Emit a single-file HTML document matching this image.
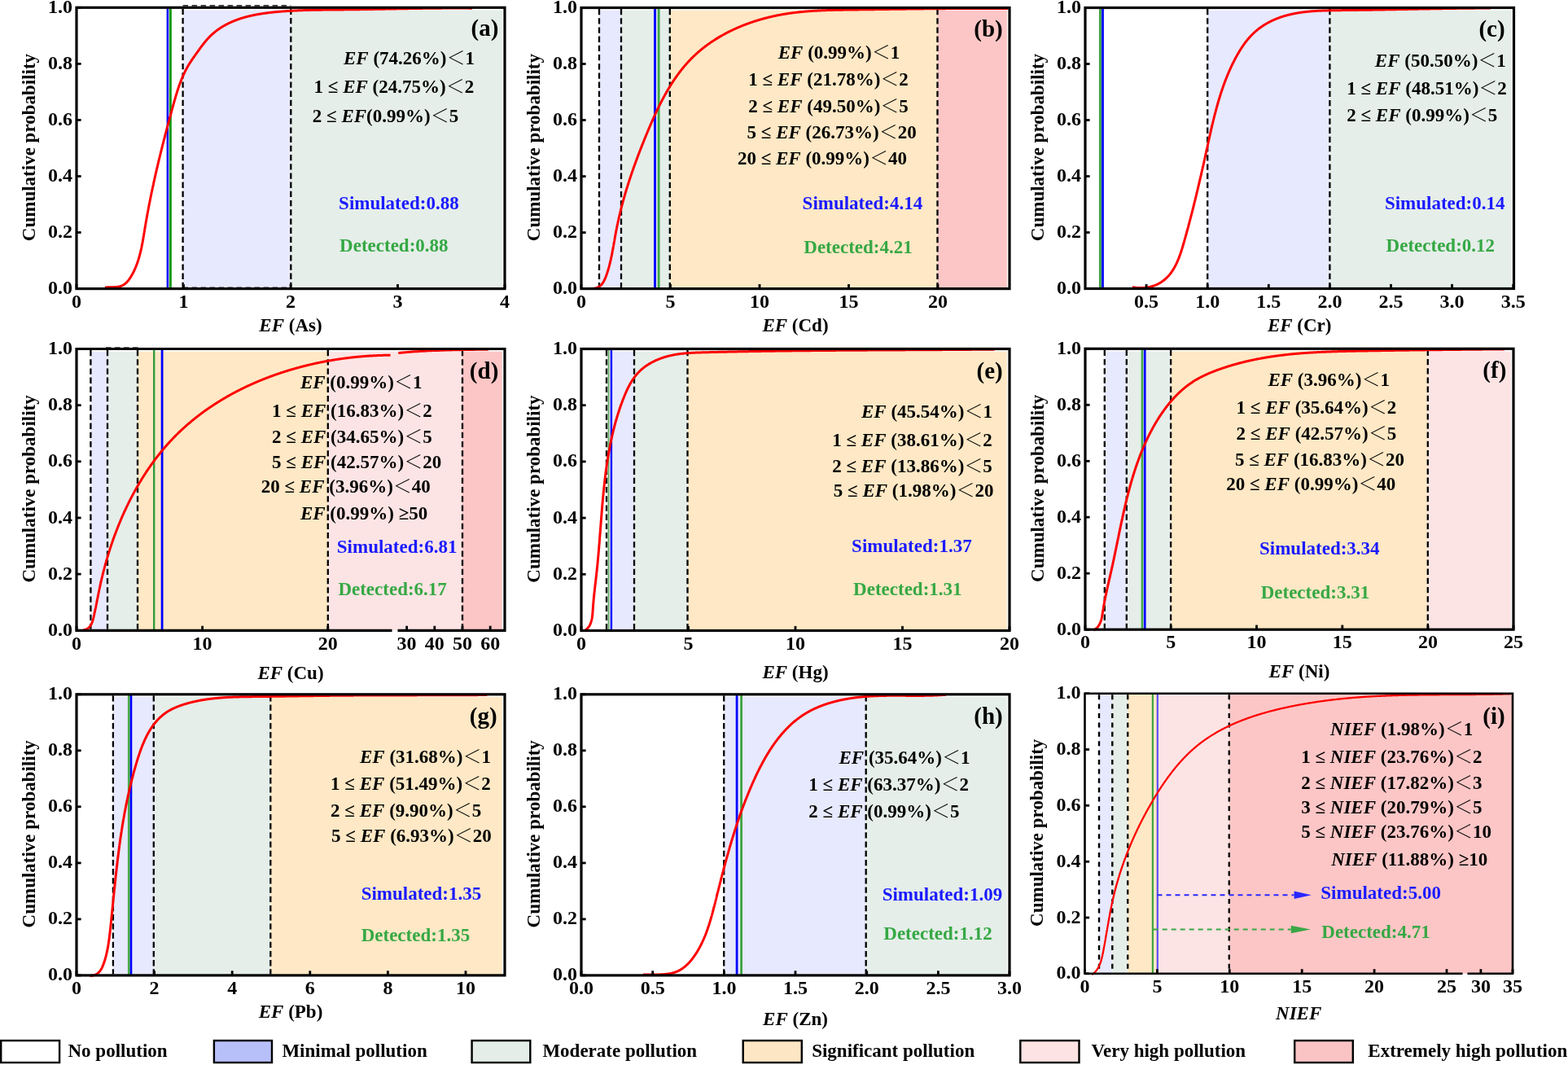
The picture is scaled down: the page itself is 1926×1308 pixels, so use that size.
<!DOCTYPE html>
<html><head><meta charset="utf-8"><title>CDF of EF</title>
<style>
html,body{margin:0;padding:0;background:#fff;}
svg{display:block;}
text{font-family:"Liberation Serif","Noto Serif CJK SC",serif;font-weight:bold;font-size:23px;fill:#000;}
.lt{font-family:"Noto Serif CJK SC","Liberation Serif",serif;font-weight:normal;}
.dsh{stroke:#000;stroke-width:2.3;stroke-dasharray:7.3 3.9;fill:none;}
.dsh2{stroke:#333;stroke-width:1.7;stroke-dasharray:6.5 4.5;fill:none;}
.cdf{stroke:#ff0000;stroke-width:3;fill:none;stroke-linejoin:round;stroke-linecap:butt;}
.plab{font-size:29px;}
.tl{font-size:24px;}
.tk{stroke:#000;stroke-width:2.8;}
.frm{stroke:#000;stroke-width:3.2;fill:none;}
</style></head>
<body>
<svg width="1926" height="1308" viewBox="0 0 1926 1308">
<rect width="1926" height="1308" fill="#fff"/>
<g>
<rect x="224.6" y="12.4" width="132.7" height="342.2" fill="#e7e9fe"/>
<rect x="357.3" y="12.4" width="259.6" height="342.2" fill="#e5eee9"/>
<line x1="224.6" y1="10.8" x2="224.6" y2="353.1" class="dsh"/>
<line x1="357.3" y1="10.8" x2="357.3" y2="353.1" class="dsh"/>
<line x1="224.6" y1="6.8" x2="357.3" y2="6.8" class="dsh2"/>
<line x1="224.6" y1="353.3" x2="357.3" y2="353.3" class="dsh2"/>
<line x1="205.9" y1="9.3" x2="205.9" y2="354.6" stroke="#0000ff" stroke-width="2.6"/>
<line x1="209.4" y1="9.3" x2="209.4" y2="354.6" stroke="#049a0a" stroke-width="2.8"/>
<path d="M128.89,353.14 L129.32,353.08 L129.76,353.02 L130.21,352.97 L130.66,352.93 L131.12,352.89 L131.57,352.86 L132.04,352.83 L132.50,352.80 L132.97,352.78 L133.45,352.76 L133.92,352.75 L134.40,352.74 L134.88,352.73 L135.36,352.72 L135.84,352.71 L136.33,352.70 L136.81,352.70 L137.30,352.69 L137.78,352.68 L138.27,352.67 L138.75,352.67 L139.24,352.65 L139.73,352.64 L140.21,352.62 L140.69,352.61 L141.17,352.58 L141.65,352.56 L142.13,352.53 L142.60,352.49 L143.08,352.45 L143.55,352.40 L144.01,352.35 L144.47,352.29 L144.93,352.23 L145.39,352.16 L145.84,352.08 L146.28,351.99 L146.72,351.89 L147.16,351.78 L147.59,351.67 L148.01,351.54 L148.43,351.41 L148.84,351.26 L149.25,351.10 L149.65,350.94 L150.04,350.76 L150.43,350.57 L150.81,350.38 L151.18,350.17 L151.55,349.96 L151.92,349.73 L152.27,349.50 L152.63,349.26 L152.97,349.01 L153.32,348.75 L153.65,348.48 L153.98,348.21 L154.31,347.93 L154.63,347.64 L154.95,347.35 L155.26,347.05 L155.57,346.74 L155.87,346.43 L156.17,346.11 L156.47,345.78 L156.76,345.45 L157.04,345.12 L157.33,344.78 L157.60,344.43 L157.88,344.08 L158.15,343.73 L158.42,343.37 L158.68,343.01 L158.94,342.64 L159.19,342.28 L159.45,341.90 L159.70,341.53 L159.95,341.15 L160.19,340.77 L160.43,340.39 L160.67,340.01 L160.90,339.62 L161.14,339.24 L161.37,338.85 L161.60,338.46 L161.82,338.07 L162.04,337.68 L162.27,337.29 L162.48,336.89 L162.70,336.50 L162.91,336.10 L163.13,335.71 L163.34,335.31 L163.54,334.91 L163.75,334.51 L163.95,334.11 L164.15,333.71 L164.35,333.31 L164.55,332.91 L164.74,332.51 L164.93,332.10 L165.12,331.70 L165.31,331.29 L165.49,330.88 L165.68,330.47 L165.86,330.06 L166.04,329.65 L166.22,329.24 L166.39,328.83 L166.57,328.42 L166.74,328.01 L166.91,327.59 L167.07,327.18 L167.24,326.76 L167.40,326.35 L167.57,325.93 L167.73,325.51 L167.89,325.09 L168.04,324.67 L168.20,324.25 L168.35,323.83 L168.50,323.41 L168.65,322.99 L168.80,322.57 L168.95,322.14 L169.09,321.72 L169.24,321.29 L169.38,320.87 L169.52,320.44 L169.66,320.01 L169.79,319.58 L169.93,319.16 L170.06,318.73 L170.20,318.30 L170.33,317.87 L170.46,317.43 L170.58,317.00 L170.71,316.57 L170.84,316.14 L170.96,315.70 L171.08,315.27 L171.20,314.84 L171.32,314.40 L171.44,313.97 L171.56,313.53 L171.67,313.09 L171.79,312.65 L171.90,312.22 L172.02,311.78 L172.13,311.34 L172.24,310.90 L172.34,310.46 L172.45,310.02 L172.56,309.58 L172.66,309.14 L172.77,308.70 L172.87,308.26 L172.97,307.81 L173.08,307.37 L173.18,306.93 L173.28,306.48 L173.37,306.04 L173.47,305.59 L173.57,305.15 L173.66,304.70 L173.76,304.26 L173.85,303.81 L173.94,303.37 L174.04,302.92 L174.13,302.47 L174.22,302.02 L174.31,301.58 L174.40,301.13 L174.48,300.68 L174.57,300.23 L174.66,299.78 L174.74,299.33 L174.83,298.89 L174.92,298.44 L175.00,297.99 L175.08,297.54 L175.17,297.09 L175.25,296.63 L175.33,296.18 L175.41,295.73 L175.49,295.28 L175.57,294.83 L175.65,294.38 L175.73,293.93 L175.81,293.48 L175.89,293.02 L175.97,292.57 L176.05,292.12 L176.12,291.67 L176.20,291.21 L176.28,290.76 L176.35,290.31 L176.43,289.86 L176.51,289.40 L176.58,288.95 L176.66,288.50 L176.73,288.04 L176.81,287.59 L176.88,287.14 L176.96,286.68 L177.03,286.23 L177.11,285.78 L177.18,285.32 L177.26,284.87 L177.33,284.42 L177.41,283.96 L177.48,283.51 L177.55,283.06 L177.63,282.60 L177.70,282.15 L177.78,281.70 L177.85,281.24 L177.93,280.79 L178.00,280.34 L178.08,279.88 L178.15,279.43 L178.23,278.98 L178.30,278.53 L178.38,278.07 L178.45,277.62 L178.53,277.17 L178.61,276.72 L178.68,276.26 L178.76,275.81 L178.84,275.36 L178.91,274.91 L178.99,274.46 L179.07,274.01 L179.15,273.55 L179.22,273.10 L179.30,272.65 L179.38,272.20 L179.46,271.75 L179.54,271.30 L179.62,270.85 L179.70,270.40 L179.77,269.95 L179.85,269.50 L179.93,269.05 L180.01,268.60 L180.09,268.15 L180.17,267.70 L180.25,267.25 L180.33,266.80 L180.42,266.35 L180.50,265.90 L180.58,265.45 L180.66,265.00 L180.74,264.55 L180.82,264.10 L180.90,263.65 L180.99,263.20 L181.07,262.75 L181.15,262.30 L181.23,261.85 L181.32,261.41 L181.40,260.96 L181.48,260.51 L181.57,260.06 L181.65,259.61 L181.73,259.16 L181.82,258.72 L181.90,258.27 L181.98,257.82 L182.07,257.37 L182.15,256.92 L182.24,256.48 L182.32,256.03 L182.41,255.58 L182.49,255.13 L182.58,254.69 L182.67,254.24 L182.75,253.79 L182.84,253.34 L182.92,252.90 L183.01,252.45 L183.10,252.00 L183.18,251.56 L183.27,251.11 L183.36,250.66 L183.44,250.22 L183.53,249.77 L183.62,249.33 L183.71,248.88 L183.80,248.43 L183.88,247.99 L183.97,247.54 L184.06,247.09 L184.15,246.65 L184.24,246.20 L184.33,245.76 L184.42,245.31 L184.51,244.87 L184.60,244.42 L184.68,243.98 L184.77,243.53 L184.86,243.09 L184.96,242.64 L185.05,242.20 L185.14,241.75 L185.23,241.31 L185.32,240.86 L185.41,240.42 L185.50,239.97 L185.59,239.53 L185.68,239.08 L185.77,238.64 L185.87,238.19 L185.96,237.75 L186.05,237.30 L186.14,236.86 L186.24,236.42 L186.33,235.97 L186.42,235.53 L186.51,235.08 L186.61,234.64 L186.70,234.20 L186.79,233.75 L186.89,233.31 L186.98,232.87 L187.08,232.42 L187.17,231.98 L187.26,231.54 L187.36,231.09 L187.45,230.65 L187.55,230.21 L187.64,229.76 L187.74,229.32 L187.83,228.88 L187.93,228.43 L188.03,227.99 L188.12,227.55 L188.22,227.11 L188.31,226.66 L188.41,226.22 L188.51,225.78 L188.60,225.34 L188.70,224.89 L188.80,224.45 L188.89,224.01 L188.99,223.57 L189.09,223.12 L189.19,222.68 L189.28,222.24 L189.38,221.80 L189.48,221.36 L189.58,220.91 L189.67,220.47 L189.77,220.03 L189.87,219.59 L189.97,219.15 L190.07,218.70 L190.17,218.26 L190.27,217.82 L190.37,217.38 L190.47,216.94 L190.57,216.50 L190.67,216.05 L190.77,215.61 L190.87,215.17 L190.97,214.73 L191.07,214.29 L191.17,213.85 L191.27,213.41 L191.37,212.97 L191.47,212.53 L191.57,212.08 L191.67,211.64 L191.77,211.20 L191.87,210.76 L191.98,210.32 L192.08,209.88 L192.18,209.44 L192.28,209.00 L192.38,208.56 L192.49,208.12 L192.59,207.68 L192.69,207.24 L192.79,206.80 L192.90,206.35 L193.00,205.91 L193.10,205.47 L193.21,205.03 L193.31,204.59 L193.41,204.15 L193.52,203.71 L193.62,203.27 L193.72,202.83 L193.83,202.39 L193.93,201.95 L194.04,201.51 L194.14,201.07 L194.25,200.63 L194.35,200.19 L194.46,199.75 L194.56,199.31 L194.67,198.87 L194.77,198.43 L194.88,197.99 L194.98,197.55 L195.09,197.11 L195.19,196.67 L195.30,196.23 L195.41,195.79 L195.51,195.35 L195.62,194.91 L195.73,194.47 L195.83,194.03 L195.94,193.59 L196.05,193.16 L196.15,192.72 L196.26,192.28 L196.37,191.84 L196.48,191.40 L196.58,190.96 L196.69,190.52 L196.80,190.08 L196.91,189.64 L197.01,189.20 L197.12,188.76 L197.23,188.32 L197.34,187.88 L197.45,187.44 L197.56,187.00 L197.67,186.56 L197.77,186.12 L197.88,185.69 L197.99,185.25 L198.10,184.81 L198.21,184.37 L198.32,183.93 L198.43,183.49 L198.54,183.05 L198.65,182.61 L198.76,182.17 L198.87,181.73 L198.98,181.29 L199.09,180.85 L199.20,180.42 L199.31,179.98 L199.42,179.54 L199.53,179.10 L199.64,178.66 L199.76,178.22 L199.87,177.78 L199.98,177.34 L200.09,176.90 L200.20,176.46 L200.31,176.03 L200.42,175.59 L200.54,175.15 L200.65,174.71 L200.76,174.27 L200.87,173.83 L200.98,173.39 L201.10,172.95 L201.21,172.51 L201.32,172.07 L201.43,171.64 L201.55,171.20 L201.66,170.76 L201.77,170.32 L201.89,169.88 L202.00,169.44 L202.11,169.00 L202.23,168.56 L202.34,168.12 L202.45,167.68 L202.57,167.25 L202.68,166.81 L202.80,166.37 L202.91,165.93 L203.02,165.49 L203.14,165.05 L203.25,164.61 L203.37,164.17 L203.48,163.73 L203.60,163.29 L203.71,162.85 L203.83,162.42 L203.94,161.98 L204.06,161.54 L204.17,161.10 L204.29,160.66 L204.40,160.22 L204.52,159.78 L204.64,159.34 L204.75,158.90 L204.87,158.46 L204.98,158.02 L205.10,157.59 L205.22,157.15 L205.33,156.71 L205.45,156.27 L205.56,155.83 L205.68,155.39 L205.80,154.95 L205.91,154.51 L206.03,154.07 L206.15,153.63 L206.27,153.19 L206.38,152.75 L206.50,152.31 L206.62,151.87 L206.74,151.43 L206.85,150.99 L206.97,150.56 L207.09,150.12 L207.21,149.68 L207.32,149.24 L207.44,148.80 L207.56,148.36 L207.68,147.92 L207.80,147.48 L207.91,147.04 L208.03,146.60 L208.15,146.16 L208.27,145.72 L208.39,145.28 L208.51,144.84 L208.63,144.40 L208.75,143.96 L208.86,143.52 L208.98,143.08 L209.10,142.64 L209.22,142.20 L209.34,141.76 L209.46,141.32 L209.58,140.88 L209.70,140.44 L209.82,140.00 L209.94,139.56 L210.06,139.12 L210.18,138.68 L210.30,138.24 L210.42,137.80 L210.54,137.36 L210.66,136.92 L210.78,136.48 L210.90,136.04 L211.02,135.60 L211.14,135.16 L211.26,134.72 L211.38,134.27 L211.51,133.83 L211.63,133.39 L211.75,132.95 L211.87,132.51 L211.99,132.07 L212.11,131.63 L212.23,131.19 L212.35,130.75 L212.48,130.31 L212.60,129.87 L212.72,129.43 L212.84,128.98 L212.96,128.54 L213.09,128.10 L213.21,127.66 L213.33,127.22 L213.45,126.78 L213.58,126.34 L213.70,125.90 L213.82,125.46 L213.95,125.02 L214.07,124.58 L214.20,124.14 L214.32,123.70 L214.45,123.26 L214.57,122.82 L214.70,122.38 L214.82,121.94 L214.95,121.50 L215.08,121.06 L215.20,120.62 L215.33,120.18 L215.46,119.74 L215.59,119.30 L215.72,118.86 L215.85,118.42 L215.98,117.99 L216.11,117.55 L216.24,117.11 L216.37,116.67 L216.50,116.23 L216.63,115.80 L216.77,115.36 L216.90,114.92 L217.03,114.49 L217.17,114.05 L217.31,113.62 L217.44,113.18 L217.58,112.75 L217.72,112.31 L217.85,111.88 L217.99,111.44 L218.13,111.01 L218.27,110.58 L218.41,110.14 L218.55,109.71 L218.70,109.28 L218.84,108.85 L218.98,108.42 L219.13,107.98 L219.27,107.55 L219.42,107.12 L219.57,106.69 L219.71,106.26 L219.86,105.84 L220.01,105.41 L220.16,104.98 L220.31,104.55 L220.47,104.12 L220.62,103.70 L220.77,103.27 L220.93,102.85 L221.08,102.42 L221.24,102.00 L221.40,101.57 L221.56,101.15 L221.72,100.73 L221.88,100.31 L222.04,99.88 L222.20,99.46 L222.37,99.04 L222.53,98.62 L222.70,98.20 L222.87,97.78 L223.03,97.37 L223.20,96.95 L223.37,96.53 L223.55,96.11 L223.72,95.70 L223.89,95.28 L224.07,94.87 L224.25,94.46 L224.42,94.04 L224.60,93.63 L224.78,93.22 L224.96,92.81 L225.15,92.40 L225.33,91.99 L225.52,91.58 L225.70,91.17 L225.89,90.77 L226.08,90.36 L226.27,89.95 L226.46,89.55 L226.66,89.15 L226.85,88.74 L227.05,88.34 L227.25,87.94 L227.45,87.54 L227.65,87.14 L227.85,86.74 L228.05,86.34 L228.26,85.94 L228.46,85.55 L228.67,85.15 L228.88,84.75 L229.09,84.36 L229.31,83.97 L229.52,83.58 L229.74,83.18 L229.95,82.79 L230.17,82.40 L230.39,82.02 L230.61,81.63 L230.84,81.24 L231.06,80.86 L231.29,80.47 L231.52,80.09 L231.75,79.71 L231.98,79.32 L232.22,78.94 L232.45,78.56 L232.69,78.18 L232.93,77.80 L233.17,77.43 L233.41,77.05 L233.65,76.67 L233.90,76.30 L234.14,75.92 L234.39,75.55 L234.64,75.17 L234.89,74.80 L235.14,74.43 L235.39,74.05 L235.64,73.68 L235.90,73.31 L236.15,72.94 L236.41,72.56 L236.67,72.19 L236.92,71.82 L237.18,71.45 L237.44,71.07 L237.70,70.70 L237.96,70.33 L238.23,69.96 L238.49,69.58 L238.75,69.21 L239.02,68.84 L239.28,68.46 L239.55,68.09 L239.81,67.71 L240.08,67.34 L240.35,66.96 L240.62,66.59 L240.88,66.21 L241.15,65.83 L241.42,65.46 L241.69,65.08 L241.96,64.70 L242.23,64.32 L242.50,63.94 L242.77,63.56 L243.04,63.18 L243.31,62.79 L243.58,62.41 L243.86,62.03 L244.13,61.65 L244.40,61.27 L244.68,60.89 L244.95,60.50 L245.23,60.12 L245.50,59.74 L245.78,59.36 L246.06,58.98 L246.34,58.60 L246.61,58.22 L246.89,57.84 L247.18,57.46 L247.46,57.08 L247.74,56.70 L248.02,56.33 L248.31,55.95 L248.59,55.57 L248.88,55.20 L249.16,54.83 L249.45,54.45 L249.74,54.08 L250.03,53.71 L250.32,53.34 L250.61,52.97 L250.91,52.61 L251.20,52.24 L251.49,51.88 L251.79,51.51 L252.09,51.15 L252.39,50.79 L252.69,50.44 L252.99,50.08 L253.29,49.72 L253.59,49.37 L253.90,49.02 L254.20,48.67 L254.51,48.32 L254.82,47.98 L255.13,47.64 L255.44,47.30 L255.75,46.96 L256.07,46.62 L256.39,46.29 L256.70,45.96 L257.02,45.63 L257.34,45.30 L257.66,44.97 L257.99,44.65 L258.31,44.33 L258.64,44.01 L258.96,43.70 L259.29,43.39 L259.62,43.07 L259.95,42.77 L260.29,42.46 L260.62,42.16 L260.96,41.85 L261.29,41.55 L261.63,41.26 L261.97,40.96 L262.31,40.67 L262.66,40.38 L263.00,40.09 L263.34,39.80 L263.69,39.52 L264.04,39.23 L264.39,38.95 L264.74,38.68 L265.09,38.40 L265.44,38.13 L265.80,37.86 L266.15,37.59 L266.51,37.32 L266.87,37.05 L267.22,36.79 L267.58,36.53 L267.95,36.27 L268.31,36.01 L268.67,35.76 L269.04,35.50 L269.40,35.25 L269.77,35.00 L270.14,34.76 L270.51,34.51 L270.88,34.27 L271.25,34.03 L271.63,33.79 L272.00,33.55 L272.38,33.32 L272.75,33.08 L273.13,32.85 L273.51,32.62 L273.89,32.39 L274.27,32.17 L274.65,31.94 L275.04,31.72 L275.42,31.50 L275.80,31.28 L276.19,31.07 L276.58,30.85 L276.97,30.64 L277.36,30.43 L277.75,30.22 L278.14,30.01 L278.53,29.81 L278.92,29.61 L279.32,29.40 L279.71,29.20 L280.11,29.01 L280.51,28.81 L280.91,28.61 L281.31,28.42 L281.71,28.23 L282.11,28.04 L282.51,27.85 L282.91,27.67 L283.32,27.48 L283.72,27.30 L284.13,27.12 L284.53,26.94 L284.94,26.76 L285.35,26.58 L285.76,26.41 L286.17,26.24 L286.58,26.07 L286.99,25.90 L287.40,25.73 L287.82,25.56 L288.23,25.40 L288.65,25.23 L289.06,25.07 L289.48,24.91 L289.90,24.75 L290.31,24.60 L290.73,24.44 L291.15,24.29 L291.57,24.13 L292.00,23.98 L292.42,23.83 L292.84,23.68 L293.26,23.54 L293.69,23.39 L294.11,23.25 L294.54,23.11 L294.97,22.97 L295.39,22.83 L295.82,22.69 L296.25,22.55 L296.68,22.42 L297.11,22.28 L297.54,22.15 L297.97,22.02 L298.40,21.89 L298.83,21.76 L299.27,21.63 L299.70,21.51 L300.14,21.38 L300.57,21.26 L301.01,21.14 L301.44,21.02 L301.88,20.90 L302.32,20.78 L302.75,20.67 L303.19,20.55 L303.63,20.44 L304.07,20.32 L304.51,20.21 L304.95,20.10 L305.39,19.99 L305.83,19.89 L306.28,19.78 L306.72,19.67 L307.16,19.57 L307.60,19.47 L308.05,19.36 L308.49,19.26 L308.94,19.16 L309.38,19.07 L309.83,18.97 L310.27,18.87 L310.72,18.78 L311.17,18.68 L311.62,18.59 L312.06,18.50 L312.51,18.41 L312.96,18.32 L313.41,18.23 L313.86,18.14 L314.31,18.06 L314.76,17.97 L315.21,17.89 L315.66,17.80 L316.11,17.72 L316.56,17.64 L317.02,17.56 L317.47,17.48 L317.92,17.40 L318.37,17.32 L318.83,17.25 L319.28,17.17 L319.73,17.10 L320.19,17.02 L320.64,16.95 L321.10,16.88 L321.55,16.81 L322.01,16.74 L322.46,16.67 L322.92,16.60 L323.37,16.53 L323.83,16.46 L324.28,16.40 L324.74,16.33 L325.20,16.27 L325.65,16.20 L326.11,16.14 L326.57,16.08 L327.02,16.02 L327.48,15.96 L327.94,15.90 L328.40,15.84 L328.85,15.78 L329.31,15.73 L329.77,15.67 L330.23,15.61 L330.68,15.56 L331.14,15.50 L331.60,15.45 L332.06,15.40 L332.52,15.34 L332.98,15.29 L333.43,15.24 L333.89,15.19 L334.35,15.14 L334.81,15.09 L335.27,15.04 L335.73,15.00 L336.19,14.95 L336.64,14.90 L337.10,14.86 L337.56,14.81 L338.02,14.77 L338.48,14.72 L338.94,14.68 L339.40,14.63 L339.85,14.59 L340.31,14.55 L340.77,14.51 L341.23,14.47 L341.69,14.43 L342.14,14.39 L342.60,14.35 L343.06,14.31 L343.52,14.27 L343.98,14.23 L344.43,14.19 L344.89,14.16 L345.35,14.12 L345.81,14.08 L346.26,14.05 L346.72,14.01 L347.18,13.98 L347.63,13.94 L348.09,13.91 L348.55,13.87 L349.00,13.84 L349.46,13.81 L349.91,13.77 L350.37,13.74 L350.83,13.71 L351.28,13.68 L351.74,13.65 L352.19,13.62 L352.65,13.59 L353.11,13.56 L353.56,13.53 L354.02,13.50 L354.47,13.47 L354.93,13.44 L355.38,13.42 L355.84,13.39 L356.29,13.36 L356.75,13.34 L357.20,13.31 L357.66,13.28 L358.11,13.26 L358.57,13.23 L359.02,13.21 L359.48,13.18 L359.93,13.16 L360.38,13.14 L360.84,13.11 L361.29,13.09 L361.75,13.07 L362.20,13.05 L362.66,13.02 L363.11,13.00 L363.56,12.98 L364.02,12.96 L364.47,12.94 L364.92,12.92 L365.38,12.90 L365.83,12.88 L366.28,12.86 L366.74,12.84 L367.19,12.82 L367.64,12.81 L368.10,12.79 L368.55,12.77 L369.00,12.75 L369.46,12.73 L369.91,12.72 L370.36,12.70 L370.82,12.68 L371.27,12.67 L371.72,12.65 L372.17,12.64 L372.63,12.62 L373.08,12.61 L373.53,12.59 L373.98,12.58 L374.44,12.56 L374.89,12.55 L375.34,12.54 L375.79,12.52 L376.25,12.51 L376.70,12.50 L377.15,12.48 L377.60,12.47 L378.05,12.46 L378.51,12.45 L378.96,12.44 L379.41,12.42 L379.86,12.41 L380.31,12.40 L380.77,12.39 L381.22,12.38 L381.67,12.37 L382.12,12.36 L382.57,12.35 L383.03,12.34 L383.48,12.33 L383.93,12.32 L384.38,12.31 L384.83,12.30 L385.28,12.29 L385.74,12.28 L386.19,12.28 L386.64,12.27 L387.09,12.26 L387.54,12.25 L387.99,12.24 L388.44,12.23 L388.90,12.23 L389.35,12.22 L389.80,12.21 L390.25,12.21 L390.70,12.20 L391.15,12.19 L391.60,12.18 L392.06,12.18 L392.51,12.17 L392.96,12.17 L393.41,12.16 L393.86,12.15 L394.31,12.15 L394.76,12.14 L395.21,12.14 L395.67,12.13 L396.12,12.12 L396.57,12.12 L397.02,12.11 L397.47,12.11 L397.92,12.10 L398.37,12.10 L398.82,12.09 L399.28,12.09 L399.73,12.08 L400.18,12.08 L400.63,12.07 L401.08,12.07 L401.53,12.07 L401.98,12.06 L402.43,12.06 L402.89,12.05 L403.34,12.05 L403.79,12.04 L404.24,12.04 L404.69,12.04 L405.14,12.03 L405.59,12.03 L406.04,12.02 L406.50,12.02 L406.95,12.02 L407.40,12.01 L407.85,12.01 L408.30,12.00 L408.75,12.00 L409.20,12.00 L409.66,11.99 L410.11,11.99 L410.56,11.99 L411.01,11.98 L411.46,11.98 L411.91,11.98 L412.37,11.97 L412.82,11.97 L413.27,11.96 L413.72,11.96 L414.17,11.96 L414.62,11.95 L415.08,11.95 L415.53,11.94 L415.98,11.94 L416.43,11.94 L416.88,11.93 L417.34,11.93 L417.79,11.93 L418.24,11.92 L418.69,11.92 L419.14,11.91 L419.60,11.91 L420.05,11.90 L420.50,11.90 L420.95,11.90 L421.40,11.89 L421.86,11.89 L422.31,11.88 L422.76,11.88 L423.21,11.87 L423.67,11.87 L424.12,11.86 L424.57,11.86 L425.03,11.85 L425.48,11.85 L425.93,11.84 L426.38,11.84 L426.84,11.83 L427.29,11.83 L427.74,11.82 L428.19,11.82 L428.65,11.81 L429.10,11.81 L429.55,11.80 L430.01,11.80 L430.46,11.79 L430.91,11.78 L431.37,11.78 L431.82,11.77 L432.27,11.77 L432.73,11.76 L433.18,11.76 L433.63,11.75 L434.09,11.74 L434.54,11.74 L434.99,11.73 L435.45,11.73 L435.90,11.72 L436.35,11.71 L436.81,11.71 L437.26,11.70 L437.72,11.70 L438.17,11.69 L438.62,11.68 L439.08,11.68 L439.53,11.67 L439.98,11.66 L440.44,11.66 L440.89,11.65 L441.35,11.64 L441.80,11.64 L442.25,11.63 L442.71,11.62 L443.16,11.62 L443.62,11.61 L444.07,11.60 L444.52,11.60 L444.98,11.59 L445.43,11.58 L445.89,11.58 L446.34,11.57 L446.80,11.56 L447.25,11.56 L447.70,11.55 L448.16,11.54 L448.61,11.53 L449.07,11.53 L449.52,11.52 L449.98,11.51 L450.43,11.51 L450.88,11.50 L451.34,11.49 L451.79,11.48 L452.25,11.48 L452.70,11.47 L453.16,11.46 L453.61,11.45 L454.07,11.45 L454.52,11.44 L454.98,11.43 L455.43,11.42 L455.89,11.42 L456.34,11.41 L456.80,11.40 L457.25,11.39 L457.70,11.39 L458.16,11.38 L458.61,11.37 L459.07,11.36 L459.52,11.36 L459.98,11.35 L460.43,11.34 L460.89,11.33 L461.34,11.32 L461.80,11.32 L462.25,11.31 L462.71,11.30 L463.16,11.29 L463.62,11.29 L464.07,11.28 L464.53,11.27 L464.98,11.26 L465.44,11.25 L465.89,11.25 L466.35,11.24 L466.81,11.23 L467.26,11.22 L467.72,11.21 L468.17,11.21 L468.63,11.20 L469.08,11.19 L469.54,11.18 L469.99,11.17 L470.45,11.17 L470.90,11.16 L471.36,11.15 L471.81,11.14 L472.27,11.13 L472.72,11.13 L473.18,11.12 L473.63,11.11 L474.09,11.10 L474.55,11.09 L475.00,11.09 L475.46,11.08 L475.91,11.07 L476.37,11.06 L476.82,11.05 L477.28,11.05 L477.73,11.04 L478.19,11.03 L478.64,11.02 L479.10,11.01 L479.56,11.01 L480.01,11.00 L480.47,10.99 L480.92,10.98 L481.38,10.97 L481.83,10.96 L482.29,10.96 L482.74,10.95 L483.20,10.94 L483.66,10.93 L484.11,10.92 L484.57,10.92 L485.02,10.91 L485.48,10.90 L485.93,10.89 L486.39,10.88 L486.84,10.88 L487.30,10.87 L487.76,10.86 L488.21,10.85 L488.67,10.85 L489.12,10.84 L489.58,10.83 L490.03,10.82 L490.49,10.81 L490.94,10.81 L491.40,10.80 L491.86,10.79 L492.31,10.78 L492.77,10.77 L493.22,10.77 L493.68,10.76 L494.13,10.75 L494.59,10.74 L495.05,10.74 L495.50,10.73 L495.96,10.72 L496.41,10.71 L496.87,10.71 L497.32,10.70 L497.78,10.69 L498.23,10.68 L498.69,10.68 L499.15,10.67 L499.60,10.66 L500.06,10.65 L500.51,10.65 L500.97,10.64 L501.42,10.63 L501.88,10.62 L502.33,10.62 L502.79,10.61 L503.25,10.60 L503.70,10.59 L504.16,10.59 L504.61,10.58 L505.07,10.57 L505.52,10.57 L505.98,10.56 L506.43,10.55 L506.89,10.54 L507.34,10.54 L507.80,10.53 L508.26,10.52 L508.71,10.52 L509.17,10.51 L509.62,10.50 L510.08,10.50 L510.53,10.49 L510.99,10.48 L511.44,10.48 L511.90,10.47 L512.35,10.46 L512.81,10.46 L513.26,10.45 L513.72,10.44 L514.18,10.44 L514.63,10.43 L515.09,10.42 L515.54,10.42 L516.00,10.41 L516.45,10.40 L516.91,10.40 L517.36,10.39 L517.82,10.39 L518.27,10.38 L518.73,10.37 L519.18,10.37 L519.64,10.36 L520.09,10.36 L520.55,10.35 L521.00,10.34 L521.46,10.34 L521.91,10.33 L522.37,10.33 L522.82,10.32 L523.28,10.32 L523.73,10.31 L524.19,10.30 L524.64,10.30 L525.10,10.29 L525.55,10.29 L526.01,10.28 L526.46,10.28 L526.92,10.27 L527.37,10.27 L527.83,10.26 L528.28,10.26 L528.74,10.25 L529.19,10.25 L529.65,10.24 L530.10,10.24 L530.56,10.23 L531.01,10.23 L531.46,10.22 L531.92,10.22 L532.37,10.21 L532.83,10.21 L533.28,10.21 L533.74,10.20 L534.19,10.20 L534.65,10.19 L535.10,10.19 L535.56,10.18 L536.01,10.18 L536.46,10.18 L536.92,10.17 L537.37,10.17 L537.83,10.17 L538.28,10.16 L538.74,10.16 L539.19,10.15 L539.64,10.15 L540.10,10.15 L540.55,10.14 L541.01,10.14 L541.46,10.14 L541.91,10.13 L542.37,10.13 L542.82,10.13 L543.28,10.12 L543.73,10.12 L544.18,10.12 L544.64,10.12 L545.09,10.11 L545.55,10.11 L546.00,10.11 L546.45,10.11 L546.91,10.10 L547.36,10.10 L547.81,10.10 L548.27,10.10 L548.72,10.09 L549.17,10.09 L549.63,10.09 L550.08,10.09 L550.53,10.09 L550.99,10.08 L551.44,10.08 L551.89,10.08 L552.35,10.08 L552.80,10.08 L553.25,10.08 L553.71,10.08 L554.16,10.07 L554.61,10.07 L555.07,10.07 L555.52,10.07 L555.97,10.07 L556.43,10.07 L556.88,10.07 L557.33,10.07 L557.78,10.07 L558.24,10.07 L558.69,10.07 L559.14,10.07 L559.60,10.07 L560.05,10.07 L560.50,10.07 L560.95,10.07 L561.41,10.07 L561.86,10.07 L562.31,10.07 L562.76,10.07 L563.22,10.07 L563.67,10.07 L564.12,10.07 L564.57,10.07 L565.02,10.07 L565.48,10.07 L565.93,10.07 L566.38,10.07 L566.83,10.08 L567.29,10.08 L567.74,10.08 L568.19,10.08 L568.64,10.08 L569.09,10.08 L569.54,10.09 L570.00,10.09 L570.45,10.09 L570.90,10.09 L571.35,10.09 L571.80,10.10 L572.25,10.10 L572.71,10.10 L573.16,10.10 L573.61,10.11 L574.06,10.11 L574.51,10.11 L574.96,10.12 L575.41,10.12 L575.86,10.12 L576.32,10.13 L576.77,10.13 L577.22,10.13 L577.67,10.14 L578.12,10.14 L578.57,10.14 L579.02,10.15 L579.47,10.15 L579.92,10.16" class="cdf"/>
<line x1="94.0" y1="354.6" x2="94.0" y2="349.0" class="tk"/>
<line x1="225.5" y1="354.6" x2="225.5" y2="349.0" class="tk"/>
<line x1="357.0" y1="354.6" x2="357.0" y2="349.0" class="tk"/>
<line x1="488.5" y1="354.6" x2="488.5" y2="349.0" class="tk"/>
<line x1="620.0" y1="354.6" x2="620.0" y2="349.0" class="tk"/>
<line x1="94.0" y1="354.6" x2="99.6" y2="354.6" class="tk"/>
<line x1="94.0" y1="285.5" x2="99.6" y2="285.5" class="tk"/>
<line x1="94.0" y1="216.5" x2="99.6" y2="216.5" class="tk"/>
<line x1="94.0" y1="147.4" x2="99.6" y2="147.4" class="tk"/>
<line x1="94.0" y1="78.4" x2="99.6" y2="78.4" class="tk"/>
<line x1="94.0" y1="9.3" x2="99.6" y2="9.3" class="tk"/>
<rect x="94.0" y="9.3" width="526.0" height="345.3" class="frm"/>
<text x="94.0" y="377.8" text-anchor="middle" class="tl">0</text>
<text x="225.5" y="377.8" text-anchor="middle" class="tl">1</text>
<text x="357.0" y="377.8" text-anchor="middle" class="tl">2</text>
<text x="488.5" y="377.8" text-anchor="middle" class="tl">3</text>
<text x="620.0" y="377.8" text-anchor="middle" class="tl">4</text>
<text x="89.0" y="361.1" text-anchor="end" class="tl">0.0</text>
<text x="89.0" y="292.0" text-anchor="end" class="tl">0.2</text>
<text x="89.0" y="223.0" text-anchor="end" class="tl">0.4</text>
<text x="89.0" y="153.9" text-anchor="end" class="tl">0.6</text>
<text x="89.0" y="84.9" text-anchor="end" class="tl">0.8</text>
<text x="89.0" y="15.8" text-anchor="end" class="tl">1.0</text>
<text x="422.0" y="78.9" style="fill:#000"><tspan font-style="italic">EF</tspan> (74.26%)<tspan class="lt">＜</tspan>1</text>
<text x="385.5" y="113.7" style="fill:#000">1 ≤ <tspan font-style="italic">EF</tspan> (24.75%)<tspan class="lt">＜</tspan>2</text>
<text x="383.8" y="149.6" style="fill:#000">2 ≤ <tspan font-style="italic">EF</tspan>(0.99%)<tspan class="lt">＜</tspan>5</text>
<text x="416.1" y="256.9" style="fill:#1a1aff">Simulated:0.88</text>
<text x="417.1" y="309.1" style="fill:#36a844">Detected:0.88</text>
<text x="612.3" y="43.6" text-anchor="end" class="plab">(a)</text>
<text x="357.0" y="407.0" text-anchor="middle"><tspan font-style="italic">EF</tspan> (As)</text>
<text transform="translate(42.5,181.0) rotate(-90)" text-anchor="middle">Cumulative probability</text>
</g>
<g>
<rect x="736.0" y="12.6" width="27.0" height="342.0" fill="#e7e9fe"/>
<rect x="763.0" y="12.6" width="60.0" height="342.0" fill="#e5eee9"/>
<rect x="823.0" y="12.6" width="328.5" height="342.0" fill="#fee8c5"/>
<rect x="1151.5" y="12.6" width="85.4" height="342.0" fill="#fdc6c6"/>
<line x1="736.0" y1="11.0" x2="736.0" y2="353.1" class="dsh"/>
<line x1="763.0" y1="11.0" x2="763.0" y2="353.1" class="dsh"/>
<line x1="822.8" y1="11.0" x2="822.8" y2="353.1" class="dsh"/>
<line x1="1151.5" y1="11.0" x2="1151.5" y2="353.1" class="dsh"/>
<line x1="804.5" y1="9.5" x2="804.5" y2="354.6" stroke="#0000ff" stroke-width="3.0"/>
<line x1="809.1" y1="9.5" x2="809.1" y2="354.6" stroke="#3ea648" stroke-width="2.9"/>
<path d="M724.00,354.23 L724.64,354.30 L725.27,354.35 L725.89,354.38 L726.49,354.40 L727.07,354.41 L727.65,354.40 L728.21,354.37 L728.75,354.33 L729.29,354.28 L729.81,354.22 L730.32,354.14 L730.82,354.04 L731.30,353.94 L731.77,353.82 L732.23,353.69 L732.68,353.54 L733.12,353.39 L733.55,353.22 L733.97,353.04 L734.38,352.85 L734.77,352.65 L735.16,352.44 L735.54,352.22 L735.90,351.99 L736.26,351.74 L736.61,351.49 L736.95,351.23 L737.28,350.96 L737.60,350.68 L737.91,350.39 L738.22,350.09 L738.52,349.79 L738.81,349.47 L739.09,349.15 L739.36,348.83 L739.63,348.49 L739.89,348.15 L740.15,347.80 L740.40,347.44 L740.64,347.08 L740.87,346.71 L741.10,346.34 L741.33,345.96 L741.55,345.57 L741.76,345.18 L741.97,344.79 L742.17,344.39 L742.37,343.98 L742.57,343.57 L742.76,343.16 L742.95,342.75 L743.13,342.33 L743.31,341.91 L743.49,341.48 L743.67,341.06 L743.84,340.63 L744.01,340.20 L744.17,339.76 L744.34,339.33 L744.50,338.89 L744.66,338.46 L744.82,338.02 L744.98,337.58 L745.14,337.14 L745.29,336.70 L745.44,336.25 L745.60,335.81 L745.75,335.37 L745.89,334.92 L746.04,334.48 L746.19,334.03 L746.33,333.58 L746.47,333.13 L746.61,332.68 L746.75,332.23 L746.89,331.78 L747.03,331.32 L747.16,330.87 L747.29,330.42 L747.43,329.96 L747.56,329.50 L747.69,329.05 L747.81,328.59 L747.94,328.13 L748.07,327.67 L748.19,327.21 L748.32,326.75 L748.44,326.29 L748.56,325.82 L748.68,325.36 L748.80,324.89 L748.91,324.43 L749.03,323.96 L749.15,323.50 L749.26,323.03 L749.37,322.56 L749.49,322.09 L749.60,321.63 L749.71,321.16 L749.82,320.69 L749.92,320.21 L750.03,319.74 L750.14,319.27 L750.24,318.80 L750.35,318.33 L750.45,317.85 L750.56,317.38 L750.66,316.90 L750.76,316.43 L750.86,315.95 L750.96,315.47 L751.06,315.00 L751.16,314.52 L751.25,314.04 L751.35,313.56 L751.45,313.09 L751.54,312.61 L751.64,312.13 L751.73,311.65 L751.83,311.17 L751.92,310.69 L752.01,310.21 L752.10,309.73 L752.20,309.24 L752.29,308.76 L752.38,308.28 L752.47,307.80 L752.56,307.32 L752.65,306.83 L752.74,306.35 L752.82,305.87 L752.91,305.38 L753.00,304.90 L753.09,304.42 L753.18,303.93 L753.26,303.45 L753.35,302.96 L753.44,302.48 L753.52,301.99 L753.61,301.51 L753.69,301.02 L753.78,300.54 L753.86,300.05 L753.95,299.57 L754.04,299.08 L754.12,298.60 L754.21,298.11 L754.29,297.63 L754.38,297.14 L754.46,296.65 L754.55,296.17 L754.63,295.68 L754.72,295.20 L754.80,294.71 L754.89,294.23 L754.97,293.74 L755.06,293.26 L755.14,292.77 L755.23,292.29 L755.31,291.80 L755.40,291.32 L755.49,290.83 L755.57,290.35 L755.66,289.87 L755.75,289.38 L755.83,288.90 L755.92,288.41 L756.01,287.93 L756.10,287.45 L756.19,286.96 L756.28,286.48 L756.37,286.00 L756.46,285.52 L756.55,285.04 L756.64,284.55 L756.73,284.07 L756.82,283.59 L756.91,283.11 L757.00,282.63 L757.10,282.15 L757.19,281.67 L757.29,281.19 L757.38,280.71 L757.48,280.24 L757.57,279.76 L757.67,279.28 L757.76,278.80 L757.86,278.32 L757.96,277.85 L758.06,277.37 L758.15,276.89 L758.25,276.42 L758.35,275.94 L758.45,275.47 L758.55,274.99 L758.65,274.52 L758.75,274.04 L758.86,273.57 L758.96,273.09 L759.06,272.62 L759.16,272.14 L759.27,271.67 L759.37,271.20 L759.48,270.73 L759.58,270.25 L759.69,269.78 L759.79,269.31 L759.90,268.84 L760.00,268.37 L760.11,267.89 L760.22,267.42 L760.33,266.95 L760.43,266.48 L760.54,266.01 L760.65,265.54 L760.76,265.07 L760.87,264.60 L760.98,264.14 L761.09,263.67 L761.21,263.20 L761.32,262.73 L761.43,262.26 L761.54,261.79 L761.66,261.33 L761.77,260.86 L761.88,260.39 L762.00,259.93 L762.11,259.46 L762.23,258.99 L762.34,258.53 L762.46,258.06 L762.58,257.59 L762.69,257.13 L762.81,256.66 L762.93,256.20 L763.05,255.73 L763.17,255.27 L763.29,254.81 L763.41,254.34 L763.53,253.88 L763.65,253.41 L763.77,252.95 L763.89,252.49 L764.01,252.02 L764.13,251.56 L764.25,251.10 L764.38,250.64 L764.50,250.17 L764.62,249.71 L764.75,249.25 L764.87,248.79 L765.00,248.33 L765.12,247.87 L765.25,247.41 L765.38,246.95 L765.50,246.49 L765.63,246.02 L765.76,245.56 L765.88,245.10 L766.01,244.65 L766.14,244.19 L766.27,243.73 L766.40,243.27 L766.53,242.81 L766.66,242.35 L766.79,241.89 L766.92,241.43 L767.05,240.97 L767.19,240.52 L767.32,240.06 L767.45,239.60 L767.58,239.14 L767.72,238.69 L767.85,238.23 L767.98,237.77 L768.12,237.31 L768.25,236.86 L768.39,236.40 L768.52,235.94 L768.66,235.49 L768.80,235.03 L768.93,234.58 L769.07,234.12 L769.21,233.66 L769.35,233.21 L769.49,232.75 L769.62,232.30 L769.76,231.84 L769.90,231.39 L770.04,230.93 L770.18,230.48 L770.32,230.03 L770.46,229.57 L770.61,229.12 L770.75,228.66 L770.89,228.21 L771.03,227.76 L771.18,227.30 L771.32,226.85 L771.46,226.39 L771.61,225.94 L771.75,225.49 L771.90,225.04 L772.04,224.58 L772.19,224.13 L772.33,223.68 L772.48,223.22 L772.62,222.77 L772.77,222.32 L772.92,221.87 L773.07,221.42 L773.21,220.96 L773.36,220.51 L773.51,220.06 L773.66,219.61 L773.81,219.16 L773.96,218.71 L774.11,218.25 L774.26,217.80 L774.41,217.35 L774.56,216.90 L774.71,216.45 L774.86,216.00 L775.02,215.55 L775.17,215.10 L775.32,214.65 L775.47,214.20 L775.63,213.75 L775.78,213.30 L775.93,212.84 L776.09,212.39 L776.24,211.94 L776.40,211.49 L776.55,211.04 L776.71,210.59 L776.87,210.15 L777.02,209.70 L777.18,209.25 L777.34,208.80 L777.49,208.35 L777.65,207.90 L777.81,207.45 L777.97,207.00 L778.13,206.55 L778.29,206.10 L778.45,205.65 L778.61,205.20 L778.77,204.75 L778.93,204.30 L779.09,203.85 L779.25,203.41 L779.41,202.96 L779.57,202.51 L779.73,202.06 L779.90,201.61 L780.06,201.16 L780.22,200.71 L780.38,200.26 L780.55,199.82 L780.71,199.37 L780.88,198.92 L781.04,198.47 L781.20,198.02 L781.37,197.57 L781.53,197.13 L781.70,196.68 L781.87,196.23 L782.03,195.78 L782.20,195.33 L782.37,194.88 L782.53,194.44 L782.70,193.99 L782.87,193.54 L783.04,193.09 L783.21,192.64 L783.37,192.19 L783.54,191.75 L783.71,191.30 L783.88,190.85 L784.05,190.40 L784.22,189.95 L784.39,189.51 L784.56,189.06 L784.73,188.61 L784.91,188.16 L785.08,187.71 L785.25,187.26 L785.42,186.82 L785.59,186.37 L785.77,185.92 L785.94,185.47 L786.11,185.02 L786.29,184.58 L786.46,184.13 L786.63,183.68 L786.81,183.23 L786.98,182.78 L787.16,182.33 L787.33,181.89 L787.51,181.44 L787.68,180.99 L787.86,180.54 L788.04,180.09 L788.21,179.64 L788.39,179.19 L788.57,178.75 L788.75,178.30 L788.92,177.85 L789.10,177.40 L789.28,176.95 L789.46,176.50 L789.64,176.05 L789.82,175.61 L789.99,175.16 L790.17,174.71 L790.35,174.26 L790.53,173.81 L790.71,173.36 L790.89,172.91 L791.08,172.46 L791.26,172.01 L791.44,171.56 L791.62,171.11 L791.80,170.66 L791.98,170.21 L792.17,169.76 L792.35,169.31 L792.53,168.86 L792.71,168.42 L792.90,167.97 L793.08,167.52 L793.26,167.07 L793.45,166.62 L793.63,166.16 L793.82,165.71 L794.00,165.26 L794.19,164.81 L794.37,164.36 L794.56,163.91 L794.74,163.46 L794.93,163.01 L795.12,162.56 L795.30,162.11 L795.49,161.66 L795.68,161.21 L795.87,160.76 L796.06,160.31 L796.24,159.86 L796.43,159.41 L796.62,158.96 L796.81,158.51 L797.00,158.06 L797.19,157.61 L797.38,157.16 L797.57,156.71 L797.76,156.26 L797.95,155.81 L798.15,155.36 L798.34,154.91 L798.53,154.46 L798.72,154.01 L798.92,153.56 L799.11,153.11 L799.30,152.66 L799.50,152.21 L799.69,151.76 L799.89,151.31 L800.08,150.86 L800.28,150.42 L800.47,149.97 L800.67,149.52 L800.87,149.07 L801.07,148.62 L801.26,148.17 L801.46,147.73 L801.66,147.28 L801.86,146.83 L802.06,146.38 L802.26,145.94 L802.46,145.49 L802.66,145.04 L802.86,144.59 L803.06,144.15 L803.26,143.70 L803.47,143.25 L803.67,142.81 L803.87,142.36 L804.08,141.92 L804.28,141.47 L804.48,141.03 L804.69,140.58 L804.89,140.14 L805.10,139.69 L805.31,139.25 L805.51,138.80 L805.72,138.36 L805.93,137.92 L806.14,137.47 L806.35,137.03 L806.56,136.59 L806.77,136.14 L806.98,135.70 L807.19,135.26 L807.40,134.82 L807.61,134.38 L807.82,133.93 L808.04,133.49 L808.25,133.05 L808.46,132.61 L808.68,132.17 L808.89,131.73 L809.11,131.29 L809.32,130.86 L809.54,130.42 L809.76,129.98 L809.97,129.54 L810.19,129.10 L810.41,128.67 L810.63,128.23 L810.85,127.79 L811.07,127.36 L811.29,126.92 L811.51,126.48 L811.74,126.05 L811.96,125.61 L812.18,125.18 L812.41,124.75 L812.63,124.31 L812.86,123.88 L813.08,123.45 L813.31,123.01 L813.53,122.58 L813.76,122.15 L813.99,121.72 L814.22,121.29 L814.45,120.86 L814.68,120.43 L814.91,120.00 L815.14,119.57 L815.37,119.14 L815.60,118.72 L815.84,118.29 L816.07,117.86 L816.30,117.43 L816.54,117.01 L816.77,116.58 L817.01,116.16 L817.25,115.73 L817.48,115.31 L817.72,114.89 L817.96,114.46 L818.20,114.04 L818.44,113.62 L818.68,113.20 L818.92,112.78 L819.17,112.36 L819.41,111.94 L819.65,111.52 L819.90,111.10 L820.14,110.68 L820.39,110.26 L820.63,109.84 L820.88,109.43 L821.13,109.01 L821.38,108.60 L821.63,108.18 L821.88,107.77 L822.13,107.35 L822.38,106.94 L822.63,106.53 L822.88,106.12 L823.14,105.70 L823.39,105.29 L823.65,104.88 L823.90,104.47 L824.16,104.07 L824.41,103.66 L824.67,103.25 L824.93,102.84 L825.19,102.44 L825.45,102.03 L825.71,101.63 L825.97,101.22 L826.24,100.82 L826.50,100.42 L826.76,100.01 L827.03,99.61 L827.30,99.21 L827.56,98.81 L827.83,98.41 L828.10,98.01 L828.37,97.61 L828.64,97.22 L828.91,96.82 L829.18,96.42 L829.45,96.03 L829.72,95.63 L830.00,95.24 L830.27,94.85 L830.55,94.45 L830.82,94.06 L831.10,93.67 L831.38,93.28 L831.66,92.89 L831.94,92.50 L832.22,92.12 L832.50,91.73 L832.78,91.34 L833.07,90.96 L833.35,90.57 L833.63,90.19 L833.92,89.80 L834.21,89.42 L834.49,89.04 L834.78,88.66 L835.07,88.28 L835.36,87.90 L835.65,87.52 L835.94,87.15 L836.24,86.77 L836.53,86.39 L836.83,86.02 L837.12,85.64 L837.42,85.27 L837.72,84.90 L838.01,84.53 L838.31,84.16 L838.61,83.79 L838.91,83.42 L839.22,83.05 L839.52,82.68 L839.82,82.32 L840.13,81.95 L840.43,81.59 L840.74,81.22 L841.05,80.86 L841.36,80.50 L841.67,80.14 L841.98,79.78 L842.29,79.42 L842.60,79.06 L842.91,78.71 L843.23,78.35 L843.54,77.99 L843.86,77.64 L844.18,77.29 L844.50,76.93 L844.82,76.58 L845.14,76.23 L845.46,75.88 L845.78,75.54 L846.10,75.19 L846.43,74.84 L846.75,74.50 L847.08,74.15 L847.41,73.81 L847.74,73.47 L848.06,73.12 L848.40,72.78 L848.73,72.45 L849.06,72.11 L849.39,71.77 L849.73,71.43 L850.06,71.10 L850.40,70.76 L850.74,70.43 L851.08,70.10 L851.42,69.77 L851.76,69.44 L852.10,69.11 L852.44,68.78 L852.79,68.45 L853.13,68.13 L853.48,67.80 L853.82,67.48 L854.17,67.16 L854.52,66.84 L854.87,66.52 L855.22,66.20 L855.57,65.88 L855.93,65.56 L856.28,65.24 L856.64,64.93 L856.99,64.61 L857.35,64.30 L857.71,63.99 L858.07,63.68 L858.43,63.37 L858.79,63.06 L859.15,62.75 L859.51,62.44 L859.87,62.14 L860.24,61.83 L860.60,61.53 L860.97,61.22 L861.34,60.92 L861.71,60.62 L862.07,60.32 L862.44,60.02 L862.81,59.72 L863.19,59.43 L863.56,59.13 L863.93,58.84 L864.31,58.54 L864.68,58.25 L865.06,57.96 L865.44,57.67 L865.81,57.38 L866.19,57.09 L866.57,56.80 L866.95,56.51 L867.33,56.23 L867.72,55.94 L868.10,55.66 L868.48,55.38 L868.87,55.09 L869.25,54.81 L869.64,54.53 L870.03,54.26 L870.42,53.98 L870.81,53.70 L871.19,53.43 L871.59,53.15 L871.98,52.88 L872.37,52.60 L872.76,52.33 L873.16,52.06 L873.55,51.79 L873.95,51.52 L874.34,51.26 L874.74,50.99 L875.14,50.72 L875.54,50.46 L875.94,50.20 L876.34,49.93 L876.74,49.67 L877.14,49.41 L877.54,49.15 L877.94,48.89 L878.35,48.64 L878.75,48.38 L879.16,48.12 L879.56,47.87 L879.97,47.62 L880.38,47.36 L880.79,47.11 L881.20,46.86 L881.60,46.61 L882.02,46.36 L882.43,46.12 L882.84,45.87 L883.25,45.62 L883.66,45.38 L884.08,45.14 L884.49,44.89 L884.91,44.65 L885.32,44.41 L885.74,44.17 L886.16,43.93 L886.58,43.70 L887.00,43.46 L887.41,43.22 L887.83,42.99 L888.26,42.76 L888.68,42.52 L889.10,42.29 L889.52,42.06 L889.94,41.83 L890.37,41.60 L890.79,41.37 L891.22,41.15 L891.64,40.92 L892.07,40.70 L892.50,40.47 L892.93,40.25 L893.35,40.03 L893.78,39.81 L894.21,39.59 L894.64,39.37 L895.07,39.15 L895.50,38.93 L895.94,38.72 L896.37,38.50 L896.80,38.29 L897.24,38.07 L897.67,37.86 L898.10,37.65 L898.54,37.44 L898.98,37.23 L899.41,37.02 L899.85,36.82 L900.29,36.61 L900.72,36.41 L901.16,36.20 L901.60,36.00 L902.04,35.80 L902.48,35.59 L902.92,35.39 L903.36,35.19 L903.81,35.00 L904.25,34.80 L904.69,34.60 L905.13,34.41 L905.58,34.21 L906.02,34.02 L906.47,33.82 L906.91,33.63 L907.36,33.44 L907.80,33.25 L908.25,33.06 L908.70,32.88 L909.14,32.69 L909.59,32.50 L910.04,32.32 L910.49,32.13 L910.94,31.95 L911.39,31.77 L911.84,31.59 L912.29,31.41 L912.74,31.23 L913.19,31.05 L913.65,30.87 L914.10,30.69 L914.55,30.52 L915.00,30.34 L915.46,30.17 L915.91,30.00 L916.37,29.83 L916.82,29.66 L917.28,29.49 L917.73,29.32 L918.19,29.15 L918.65,28.98 L919.10,28.82 L919.56,28.65 L920.02,28.49 L920.47,28.32 L920.93,28.16 L921.39,28.00 L921.85,27.84 L922.31,27.68 L922.77,27.52 L923.23,27.36 L923.69,27.21 L924.15,27.05 L924.61,26.90 L925.07,26.74 L925.54,26.59 L926.00,26.44 L926.46,26.29 L926.92,26.14 L927.39,25.99 L927.85,25.84 L928.31,25.69 L928.78,25.55 L929.24,25.40 L929.71,25.26 L930.17,25.12 L930.64,24.97 L931.10,24.83 L931.57,24.69 L932.03,24.55 L932.50,24.41 L932.97,24.27 L933.43,24.14 L933.90,24.00 L934.37,23.87 L934.84,23.73 L935.30,23.60 L935.77,23.47 L936.24,23.34 L936.71,23.20 L937.18,23.08 L937.65,22.95 L938.12,22.82 L938.58,22.69 L939.05,22.57 L939.52,22.44 L939.99,22.32 L940.46,22.19 L940.93,22.07 L941.41,21.95 L941.88,21.83 L942.35,21.71 L942.82,21.59 L943.29,21.48 L943.76,21.36 L944.23,21.24 L944.70,21.13 L945.18,21.01 L945.65,20.90 L946.12,20.79 L946.59,20.68 L947.07,20.57 L947.54,20.46 L948.01,20.35 L948.48,20.24 L948.96,20.14 L949.43,20.03 L949.90,19.93 L950.38,19.82 L950.85,19.72 L951.33,19.62 L951.80,19.52 L952.27,19.42 L952.75,19.32 L953.22,19.22 L953.70,19.12 L954.17,19.02 L954.64,18.93 L955.12,18.83 L955.59,18.74 L956.07,18.65 L956.54,18.56 L957.02,18.46 L957.49,18.37 L957.97,18.28 L958.44,18.20 L958.92,18.11 L959.39,18.02 L959.87,17.94 L960.34,17.85 L960.82,17.77 L961.29,17.68 L961.77,17.60 L962.25,17.52 L962.72,17.44 L963.20,17.36 L963.67,17.28 L964.15,17.20 L964.62,17.12 L965.10,17.05 L965.58,16.97 L966.05,16.90 L966.53,16.82 L967.00,16.75 L967.48,16.68 L967.96,16.60 L968.43,16.53 L968.91,16.46 L969.39,16.39 L969.86,16.33 L970.34,16.26 L970.82,16.19 L971.29,16.12 L971.77,16.06 L972.25,15.99 L972.72,15.93 L973.20,15.87 L973.68,15.80 L974.15,15.74 L974.63,15.68 L975.11,15.62 L975.59,15.56 L976.06,15.50 L976.54,15.44 L977.02,15.38 L977.50,15.33 L977.97,15.27 L978.45,15.21 L978.93,15.16 L979.41,15.11 L979.88,15.05 L980.36,15.00 L980.84,14.95 L981.32,14.89 L981.79,14.84 L982.27,14.79 L982.75,14.74 L983.23,14.69 L983.71,14.65 L984.19,14.60 L984.66,14.55 L985.14,14.50 L985.62,14.46 L986.10,14.41 L986.58,14.37 L987.06,14.32 L987.53,14.28 L988.01,14.24 L988.49,14.20 L988.97,14.15 L989.45,14.11 L989.93,14.07 L990.41,14.03 L990.88,13.99 L991.36,13.95 L991.84,13.92 L992.32,13.88 L992.80,13.84 L993.28,13.80 L993.76,13.77 L994.24,13.73 L994.72,13.70 L995.20,13.66 L995.68,13.63 L996.16,13.59 L996.63,13.56 L997.11,13.53 L997.59,13.50 L998.07,13.46 L998.55,13.43 L999.03,13.40 L999.51,13.37 L999.99,13.34 L1000.47,13.31 L1000.95,13.28 L1001.43,13.26 L1001.91,13.23 L1002.39,13.20 L1002.87,13.17 L1003.35,13.15 L1003.83,13.12 L1004.31,13.10 L1004.79,13.07 L1005.27,13.05 L1005.75,13.02 L1006.23,13.00 L1006.71,12.97 L1007.19,12.95 L1007.67,12.93 L1008.15,12.91 L1008.63,12.88 L1009.11,12.86 L1009.59,12.84 L1010.07,12.82 L1010.55,12.80 L1011.03,12.78 L1011.51,12.76 L1011.99,12.74 L1012.47,12.72 L1012.95,12.70 L1013.44,12.68 L1013.92,12.67 L1014.40,12.65 L1014.88,12.63 L1015.36,12.61 L1015.84,12.60 L1016.32,12.58 L1016.80,12.57 L1017.28,12.55 L1017.76,12.53 L1018.24,12.52 L1018.72,12.50 L1019.20,12.49 L1019.69,12.48 L1020.17,12.46 L1020.65,12.45 L1021.13,12.43 L1021.61,12.42 L1022.09,12.41 L1022.57,12.40 L1023.05,12.38 L1023.53,12.37 L1024.01,12.36 L1024.50,12.35 L1024.98,12.34 L1025.46,12.32 L1025.94,12.31 L1026.42,12.30 L1026.90,12.29 L1027.38,12.28 L1027.86,12.27 L1028.35,12.26 L1028.83,12.25 L1029.31,12.24 L1029.79,12.23 L1030.27,12.22 L1030.75,12.21 L1031.23,12.20 L1031.72,12.20 L1032.20,12.19 L1032.68,12.18 L1033.16,12.17 L1033.64,12.16 L1034.12,12.15 L1034.61,12.15 L1035.09,12.14 L1035.57,12.13 L1036.05,12.12 L1036.53,12.12 L1037.01,12.11 L1037.49,12.10 L1037.98,12.09 L1038.46,12.09 L1038.94,12.08 L1039.42,12.07 L1039.90,12.07 L1040.38,12.06 L1040.87,12.05 L1041.35,12.05 L1041.83,12.04 L1042.31,12.03 L1042.79,12.03 L1043.28,12.02 L1043.76,12.02 L1044.24,12.01 L1044.72,12.00 L1045.20,12.00 L1045.68,11.99 L1046.17,11.99 L1046.65,11.98 L1047.13,11.97 L1047.61,11.97 L1048.09,11.96 L1048.57,11.96 L1049.06,11.95 L1049.54,11.94 L1050.02,11.94 L1050.50,11.93 L1050.98,11.92 L1051.47,11.92 L1051.95,11.91 L1052.43,11.91 L1052.91,11.90 L1053.39,11.89 L1053.88,11.89 L1054.36,11.88 L1054.84,11.88 L1055.32,11.87 L1055.80,11.86 L1056.28,11.86 L1056.77,11.85 L1057.25,11.85 L1057.73,11.84 L1058.21,11.83 L1058.69,11.83 L1059.18,11.82 L1059.66,11.81 L1060.14,11.81 L1060.62,11.80 L1061.10,11.80 L1061.59,11.79 L1062.07,11.78 L1062.55,11.78 L1063.03,11.77 L1063.51,11.76 L1064.00,11.76 L1064.48,11.75 L1064.96,11.75 L1065.44,11.74 L1065.92,11.73 L1066.41,11.73 L1066.89,11.72 L1067.37,11.71 L1067.85,11.71 L1068.33,11.70 L1068.82,11.70 L1069.30,11.69 L1069.78,11.68 L1070.26,11.68 L1070.74,11.67 L1071.23,11.66 L1071.71,11.66 L1072.19,11.65 L1072.67,11.64 L1073.15,11.64 L1073.64,11.63 L1074.12,11.63 L1074.60,11.62 L1075.08,11.61 L1075.56,11.61 L1076.05,11.60 L1076.53,11.59 L1077.01,11.59 L1077.49,11.58 L1077.97,11.58 L1078.46,11.57 L1078.94,11.56 L1079.42,11.56 L1079.90,11.55 L1080.38,11.54 L1080.87,11.54 L1081.35,11.53 L1081.83,11.52 L1082.31,11.52 L1082.79,11.51 L1083.28,11.51 L1083.76,11.50 L1084.24,11.49 L1084.72,11.49 L1085.20,11.48 L1085.69,11.47 L1086.17,11.47 L1086.65,11.46 L1087.13,11.45 L1087.62,11.45 L1088.10,11.44 L1088.58,11.44 L1089.06,11.43 L1089.54,11.42 L1090.03,11.42 L1090.51,11.41 L1090.99,11.40 L1091.47,11.40 L1091.95,11.39 L1092.44,11.39 L1092.92,11.38 L1093.40,11.37 L1093.88,11.37 L1094.36,11.36 L1094.85,11.35 L1095.33,11.35 L1095.81,11.34 L1096.29,11.34 L1096.78,11.33 L1097.26,11.32 L1097.74,11.32 L1098.22,11.31 L1098.70,11.30 L1099.19,11.30 L1099.67,11.29 L1100.15,11.29 L1100.63,11.28 L1101.11,11.27 L1101.60,11.27 L1102.08,11.26 L1102.56,11.25 L1103.04,11.25 L1103.52,11.24 L1104.01,11.24 L1104.49,11.23 L1104.97,11.22 L1105.45,11.22 L1105.94,11.21 L1106.42,11.21 L1106.90,11.20 L1107.38,11.19 L1107.86,11.19 L1108.35,11.18 L1108.83,11.18 L1109.31,11.17 L1109.79,11.16 L1110.28,11.16 L1110.76,11.15 L1111.24,11.15 L1111.72,11.14 L1112.20,11.13 L1112.69,11.13 L1113.17,11.12 L1113.65,11.12 L1114.13,11.11 L1114.61,11.10 L1115.10,11.10 L1115.58,11.09 L1116.06,11.09 L1116.54,11.08 L1117.03,11.08 L1117.51,11.07 L1117.99,11.06 L1118.47,11.06 L1118.95,11.05 L1119.44,11.05 L1119.92,11.04 L1120.40,11.04 L1120.88,11.03 L1121.36,11.02 L1121.85,11.02 L1122.33,11.01 L1122.81,11.01 L1123.29,11.00 L1123.78,11.00 L1124.26,10.99 L1124.74,10.98 L1125.22,10.98 L1125.70,10.97 L1126.19,10.97 L1126.67,10.96 L1127.15,10.96 L1127.63,10.95 L1128.11,10.95 L1128.60,10.94 L1129.08,10.94 L1129.56,10.93 L1130.04,10.93 L1130.53,10.92 L1131.01,10.91 L1131.49,10.91 L1131.97,10.90 L1132.45,10.90 L1132.94,10.89 L1133.42,10.89 L1133.90,10.88 L1134.38,10.88 L1134.87,10.87 L1135.35,10.87 L1135.83,10.86 L1136.31,10.86 L1136.79,10.85 L1137.28,10.85 L1137.76,10.84 L1138.24,10.84 L1138.72,10.83 L1139.20,10.83 L1139.69,10.82 L1140.17,10.82 L1140.65,10.81 L1141.13,10.81 L1141.62,10.80 L1142.10,10.80 L1142.58,10.79 L1143.06,10.79 L1143.54,10.78 L1144.03,10.78 L1144.51,10.77 L1144.99,10.77 L1145.47,10.76 L1145.95,10.76 L1146.44,10.76 L1146.92,10.75 L1147.40,10.75 L1147.88,10.74 L1148.37,10.74 L1148.85,10.73 L1149.33,10.73 L1149.81,10.72 L1150.29,10.72 L1150.78,10.71 L1151.26,10.71 L1151.74,10.71 L1152.22,10.70 L1152.70,10.70 L1153.19,10.69 L1153.67,10.69 L1154.15,10.69 L1154.63,10.68 L1155.11,10.68 L1155.60,10.67 L1156.08,10.67 L1156.56,10.66 L1157.04,10.66 L1157.53,10.66 L1158.01,10.65 L1158.49,10.65 L1158.97,10.64 L1159.45,10.64 L1159.94,10.64 L1160.42,10.63 L1160.90,10.63 L1161.38,10.63 L1161.86,10.62 L1162.35,10.62 L1162.83,10.61 L1163.31,10.61 L1163.79,10.61 L1164.27,10.60 L1164.76,10.60 L1165.24,10.60 L1165.72,10.59 L1166.20,10.59 L1166.68,10.59 L1167.17,10.58 L1167.65,10.58 L1168.13,10.58 L1168.61,10.57 L1169.09,10.57 L1169.58,10.57 L1170.06,10.56 L1170.54,10.56 L1171.02,10.56 L1171.50,10.55 L1171.99,10.55 L1172.47,10.55 L1172.95,10.54 L1173.43,10.54 L1173.91,10.54 L1174.40,10.54 L1174.88,10.53 L1175.36,10.53 L1175.84,10.53 L1176.32,10.52 L1176.81,10.52 L1177.29,10.52 L1177.77,10.52 L1178.25,10.51 L1178.73,10.51 L1179.22,10.51 L1179.70,10.51 L1180.18,10.50 L1180.66,10.50 L1181.14,10.50 L1181.63,10.50 L1182.11,10.49 L1182.59,10.49 L1183.07,10.49 L1183.55,10.49 L1184.04,10.49 L1184.52,10.48 L1185.00,10.48 L1185.48,10.48 L1185.96,10.48 L1186.45,10.48 L1186.93,10.47 L1187.41,10.47 L1187.89,10.47 L1188.37,10.47 L1188.86,10.47 L1189.34,10.46 L1189.82,10.46 L1190.30,10.46 L1190.78,10.46 L1191.27,10.46 L1191.75,10.46 L1192.23,10.46 L1192.71,10.45 L1193.19,10.45 L1193.67,10.45 L1194.16,10.45 L1194.64,10.45 L1195.12,10.45 L1195.60,10.45 L1196.08,10.45 L1196.57,10.44 L1197.05,10.44 L1197.53,10.44 L1198.01,10.44 L1198.49,10.44 L1198.97,10.44 L1199.46,10.44 L1199.94,10.44 L1200.42,10.44 L1200.90,10.44 L1201.38,10.44 L1201.87,10.43 L1202.35,10.43 L1202.83,10.43 L1203.31,10.43 L1203.79,10.43 L1204.27,10.43 L1204.76,10.43 L1205.24,10.43 L1205.72,10.43 L1206.20,10.43 L1206.68,10.43 L1207.16,10.43 L1207.65,10.43 L1208.13,10.43 L1208.61,10.43 L1209.09,10.43 L1209.57,10.43 L1210.06,10.43 L1210.54,10.43 L1211.02,10.43 L1211.50,10.43 L1211.98,10.43 L1212.46,10.43 L1212.95,10.43 L1213.43,10.43 L1213.91,10.43 L1214.39,10.44 L1214.87,10.44 L1215.35,10.44 L1215.84,10.44 L1216.32,10.44 L1216.80,10.44 L1217.28,10.44 L1217.76,10.44 L1218.24,10.44 L1218.72,10.44 L1219.21,10.44 L1219.69,10.45 L1220.17,10.45 L1220.65,10.45 L1221.13,10.45 L1221.61,10.45 L1222.10,10.45 L1222.58,10.45 L1223.06,10.46 L1223.54,10.46 L1224.02,10.46 L1224.50,10.46 L1224.99,10.46 L1225.47,10.46 L1225.95,10.47 L1226.43,10.47 L1226.91,10.47 L1227.39,10.47 L1227.87,10.47 L1228.36,10.48 L1228.84,10.48 L1229.32,10.48 L1229.80,10.48 L1230.28,10.49 L1230.76,10.49 L1231.24,10.49 L1231.73,10.49 L1232.21,10.50 L1232.69,10.50 L1233.17,10.50 L1233.65,10.50 L1234.13,10.51 L1234.61,10.51 L1235.10,10.51 L1235.58,10.51 L1236.06,10.52 L1236.54,10.52 L1237.02,10.52 L1237.50,10.53 L1237.98,10.53" class="cdf"/>
<line x1="714.0" y1="354.6" x2="714.0" y2="349.0" class="tk"/>
<line x1="823.5" y1="354.6" x2="823.5" y2="349.0" class="tk"/>
<line x1="933.0" y1="354.6" x2="933.0" y2="349.0" class="tk"/>
<line x1="1042.5" y1="354.6" x2="1042.5" y2="349.0" class="tk"/>
<line x1="1152.0" y1="354.6" x2="1152.0" y2="349.0" class="tk"/>
<line x1="714.0" y1="354.6" x2="719.6" y2="354.6" class="tk"/>
<line x1="714.0" y1="285.6" x2="719.6" y2="285.6" class="tk"/>
<line x1="714.0" y1="216.6" x2="719.6" y2="216.6" class="tk"/>
<line x1="714.0" y1="147.5" x2="719.6" y2="147.5" class="tk"/>
<line x1="714.0" y1="78.5" x2="719.6" y2="78.5" class="tk"/>
<line x1="714.0" y1="9.5" x2="719.6" y2="9.5" class="tk"/>
<rect x="714.0" y="9.5" width="526.0" height="345.1" class="frm"/>
<text x="714.0" y="377.8" text-anchor="middle" class="tl">0</text>
<text x="823.5" y="377.8" text-anchor="middle" class="tl">5</text>
<text x="933.0" y="377.8" text-anchor="middle" class="tl">10</text>
<text x="1042.5" y="377.8" text-anchor="middle" class="tl">15</text>
<text x="1152.0" y="377.8" text-anchor="middle" class="tl">20</text>
<text x="709.0" y="361.1" text-anchor="end" class="tl">0.0</text>
<text x="709.0" y="292.1" text-anchor="end" class="tl">0.2</text>
<text x="709.0" y="223.1" text-anchor="end" class="tl">0.4</text>
<text x="709.0" y="154.0" text-anchor="end" class="tl">0.6</text>
<text x="709.0" y="85.0" text-anchor="end" class="tl">0.8</text>
<text x="709.0" y="16.0" text-anchor="end" class="tl">1.0</text>
<text x="955.7" y="72.2" style="fill:#000"><tspan font-style="italic">EF</tspan> (0.99%)<tspan class="lt">＜</tspan>1</text>
<text x="919.2" y="105.4" style="fill:#000">1 ≤ <tspan font-style="italic">EF</tspan> (21.78%)<tspan class="lt">＜</tspan>2</text>
<text x="919.2" y="137.7" style="fill:#000">2 ≤ <tspan font-style="italic">EF</tspan> (49.50%)<tspan class="lt">＜</tspan>5</text>
<text x="917.5" y="169.6" style="fill:#000">5 ≤ <tspan font-style="italic">EF</tspan> (26.73%)<tspan class="lt">＜</tspan>20</text>
<text x="905.9" y="201.8" style="fill:#000">20 ≤ <tspan font-style="italic">EF</tspan> (0.99%)<tspan class="lt">＜</tspan>40</text>
<text x="985.6" y="256.9" style="fill:#1a1aff">Simulated:4.14</text>
<text x="987.3" y="310.7" style="fill:#36a844">Detected:4.21</text>
<text x="1231.7" y="45.3" text-anchor="end" class="plab">(b)</text>
<text x="977.0" y="406.8" text-anchor="middle"><tspan font-style="italic">EF</tspan> (Cd)</text>
<text transform="translate(662.5,181.1) rotate(-90)" text-anchor="middle">Cumulative probability</text>
</g>
<g>
<rect x="1483.2" y="12.6" width="150.2" height="341.9" fill="#e7e9fe"/>
<rect x="1633.4" y="12.6" width="223.0" height="341.9" fill="#e5eee9"/>
<line x1="1483.2" y1="11.0" x2="1483.2" y2="353.0" class="dsh"/>
<line x1="1633.4" y1="11.0" x2="1633.4" y2="353.0" class="dsh"/>
<line x1="1351.4" y1="9.5" x2="1351.4" y2="354.5" stroke="#3ea442" stroke-width="2.9"/>
<line x1="1354.5" y1="9.5" x2="1354.5" y2="354.5" stroke="#0000ff" stroke-width="2.8"/>
<path d="M1390.88,352.63 L1391.42,352.72 L1391.95,352.81 L1392.49,352.90 L1393.02,352.98 L1393.54,353.05 L1394.07,353.12 L1394.59,353.19 L1395.12,353.25 L1395.64,353.30 L1396.16,353.36 L1396.67,353.40 L1397.18,353.44 L1397.70,353.48 L1398.21,353.51 L1398.71,353.54 L1399.22,353.56 L1399.72,353.58 L1400.22,353.59 L1400.72,353.60 L1401.22,353.60 L1401.71,353.60 L1402.20,353.59 L1402.69,353.58 L1403.18,353.57 L1403.67,353.55 L1404.15,353.52 L1404.63,353.50 L1405.11,353.46 L1405.59,353.43 L1406.06,353.38 L1406.53,353.34 L1407.00,353.29 L1407.47,353.23 L1407.94,353.17 L1408.40,353.11 L1408.86,353.04 L1409.32,352.97 L1409.77,352.90 L1410.23,352.82 L1410.68,352.73 L1411.13,352.64 L1411.57,352.55 L1412.02,352.45 L1412.46,352.35 L1412.90,352.25 L1413.34,352.14 L1413.77,352.03 L1414.20,351.91 L1414.63,351.79 L1415.06,351.67 L1415.49,351.54 L1415.91,351.41 L1416.33,351.27 L1416.75,351.13 L1417.16,350.99 L1417.57,350.84 L1417.99,350.69 L1418.39,350.54 L1418.80,350.38 L1419.20,350.22 L1419.60,350.05 L1420.00,349.88 L1420.40,349.71 L1420.79,349.53 L1421.18,349.35 L1421.57,349.17 L1421.95,348.98 L1422.34,348.79 L1422.72,348.60 L1423.09,348.40 L1423.47,348.20 L1423.84,347.99 L1424.21,347.79 L1424.58,347.58 L1424.94,347.36 L1425.31,347.15 L1425.67,346.93 L1426.02,346.70 L1426.38,346.47 L1426.73,346.24 L1427.08,346.01 L1427.42,345.77 L1427.77,345.54 L1428.11,345.29 L1428.45,345.05 L1428.78,344.80 L1429.12,344.55 L1429.45,344.29 L1429.77,344.03 L1430.10,343.77 L1430.42,343.51 L1430.74,343.24 L1431.06,342.98 L1431.37,342.70 L1431.68,342.43 L1431.99,342.15 L1432.30,341.87 L1432.60,341.59 L1432.90,341.30 L1433.20,341.01 L1433.49,340.72 L1433.78,340.43 L1434.07,340.13 L1434.36,339.83 L1434.65,339.53 L1434.93,339.23 L1435.21,338.92 L1435.48,338.61 L1435.76,338.30 L1436.03,337.98 L1436.30,337.67 L1436.56,337.35 L1436.83,337.03 L1437.09,336.70 L1437.35,336.38 L1437.60,336.05 L1437.86,335.72 L1438.11,335.39 L1438.36,335.05 L1438.61,334.71 L1438.85,334.37 L1439.09,334.03 L1439.33,333.69 L1439.57,333.34 L1439.81,332.99 L1440.04,332.64 L1440.27,332.29 L1440.50,331.94 L1440.73,331.58 L1440.96,331.22 L1441.18,330.86 L1441.40,330.50 L1441.62,330.14 L1441.84,329.77 L1442.05,329.40 L1442.26,329.03 L1442.48,328.66 L1442.69,328.29 L1442.89,327.92 L1443.10,327.54 L1443.30,327.16 L1443.50,326.78 L1443.70,326.40 L1443.90,326.02 L1444.10,325.63 L1444.29,325.24 L1444.48,324.86 L1444.68,324.47 L1444.87,324.07 L1445.05,323.68 L1445.24,323.29 L1445.42,322.89 L1445.61,322.50 L1445.79,322.10 L1445.97,321.70 L1446.15,321.30 L1446.32,320.89 L1446.50,320.49 L1446.67,320.09 L1446.84,319.68 L1447.01,319.27 L1447.18,318.86 L1447.35,318.45 L1447.52,318.04 L1447.68,317.63 L1447.85,317.22 L1448.01,316.80 L1448.17,316.39 L1448.33,315.97 L1448.49,315.55 L1448.65,315.13 L1448.80,314.71 L1448.96,314.29 L1449.11,313.87 L1449.26,313.45 L1449.42,313.03 L1449.57,312.60 L1449.72,312.18 L1449.86,311.75 L1450.01,311.33 L1450.16,310.90 L1450.30,310.47 L1450.45,310.04 L1450.59,309.61 L1450.73,309.18 L1450.87,308.75 L1451.02,308.32 L1451.16,307.89 L1451.29,307.46 L1451.43,307.02 L1451.57,306.59 L1451.71,306.16 L1451.84,305.72 L1451.98,305.29 L1452.11,304.85 L1452.24,304.42 L1452.38,303.98 L1452.51,303.55 L1452.64,303.11 L1452.77,302.67 L1452.90,302.23 L1453.03,301.80 L1453.16,301.36 L1453.29,300.92 L1453.42,300.48 L1453.55,300.05 L1453.67,299.61 L1453.80,299.17 L1453.93,298.73 L1454.05,298.29 L1454.18,297.85 L1454.30,297.41 L1454.43,296.98 L1454.55,296.54 L1454.68,296.10 L1454.80,295.66 L1454.93,295.22 L1455.05,294.78 L1455.17,294.34 L1455.30,293.91 L1455.42,293.47 L1455.54,293.03 L1455.66,292.59 L1455.79,292.16 L1455.91,291.72 L1456.03,291.28 L1456.15,290.85 L1456.27,290.41 L1456.40,289.97 L1456.52,289.54 L1456.64,289.10 L1456.76,288.66 L1456.88,288.23 L1457.00,287.79 L1457.12,287.36 L1457.24,286.92 L1457.36,286.49 L1457.48,286.05 L1457.60,285.62 L1457.72,285.18 L1457.84,284.75 L1457.95,284.31 L1458.07,283.88 L1458.19,283.44 L1458.31,283.01 L1458.43,282.57 L1458.55,282.14 L1458.66,281.71 L1458.78,281.27 L1458.90,280.84 L1459.02,280.41 L1459.13,279.97 L1459.25,279.54 L1459.37,279.11 L1459.48,278.67 L1459.60,278.24 L1459.71,277.81 L1459.83,277.38 L1459.95,276.94 L1460.06,276.51 L1460.18,276.08 L1460.29,275.65 L1460.41,275.21 L1460.52,274.78 L1460.64,274.35 L1460.75,273.92 L1460.87,273.49 L1460.98,273.06 L1461.09,272.62 L1461.21,272.19 L1461.32,271.76 L1461.43,271.33 L1461.55,270.90 L1461.66,270.47 L1461.77,270.04 L1461.89,269.61 L1462.00,269.18 L1462.11,268.75 L1462.22,268.32 L1462.34,267.89 L1462.45,267.46 L1462.56,267.03 L1462.67,266.60 L1462.78,266.17 L1462.89,265.74 L1463.01,265.31 L1463.12,264.88 L1463.23,264.45 L1463.34,264.02 L1463.45,263.59 L1463.56,263.16 L1463.67,262.73 L1463.78,262.30 L1463.89,261.87 L1464.00,261.44 L1464.11,261.02 L1464.22,260.59 L1464.33,260.16 L1464.44,259.73 L1464.55,259.30 L1464.66,258.87 L1464.76,258.44 L1464.87,258.02 L1464.98,257.59 L1465.09,257.16 L1465.20,256.73 L1465.31,256.30 L1465.41,255.88 L1465.52,255.45 L1465.63,255.02 L1465.74,254.59 L1465.84,254.16 L1465.95,253.74 L1466.06,253.31 L1466.17,252.88 L1466.27,252.45 L1466.38,252.03 L1466.49,251.60 L1466.59,251.17 L1466.70,250.74 L1466.80,250.32 L1466.91,249.89 L1467.02,249.46 L1467.12,249.04 L1467.23,248.61 L1467.33,248.18 L1467.44,247.75 L1467.54,247.33 L1467.65,246.90 L1467.75,246.47 L1467.86,246.05 L1467.96,245.62 L1468.07,245.19 L1468.17,244.77 L1468.28,244.34 L1468.38,243.91 L1468.49,243.49 L1468.59,243.06 L1468.69,242.63 L1468.80,242.21 L1468.90,241.78 L1469.01,241.35 L1469.11,240.93 L1469.21,240.50 L1469.32,240.08 L1469.42,239.65 L1469.52,239.22 L1469.62,238.80 L1469.73,238.37 L1469.83,237.94 L1469.93,237.52 L1470.04,237.09 L1470.14,236.67 L1470.24,236.24 L1470.34,235.81 L1470.44,235.39 L1470.55,234.96 L1470.65,234.53 L1470.75,234.11 L1470.85,233.68 L1470.95,233.26 L1471.05,232.83 L1471.16,232.40 L1471.26,231.98 L1471.36,231.55 L1471.46,231.13 L1471.56,230.70 L1471.66,230.27 L1471.76,229.85 L1471.86,229.42 L1471.96,228.99 L1472.06,228.57 L1472.16,228.14 L1472.26,227.72 L1472.36,227.29 L1472.46,226.86 L1472.56,226.44 L1472.66,226.01 L1472.76,225.59 L1472.86,225.16 L1472.96,224.73 L1473.06,224.31 L1473.16,223.88 L1473.26,223.45 L1473.36,223.03 L1473.46,222.60 L1473.56,222.18 L1473.66,221.75 L1473.76,221.32 L1473.86,220.90 L1473.96,220.47 L1474.05,220.04 L1474.15,219.62 L1474.25,219.19 L1474.35,218.76 L1474.45,218.34 L1474.55,217.91 L1474.65,217.48 L1474.74,217.06 L1474.84,216.63 L1474.94,216.20 L1475.04,215.78 L1475.14,215.35 L1475.23,214.92 L1475.33,214.50 L1475.43,214.07 L1475.53,213.64 L1475.62,213.22 L1475.72,212.79 L1475.82,212.36 L1475.92,211.93 L1476.01,211.51 L1476.11,211.08 L1476.21,210.65 L1476.31,210.23 L1476.40,209.80 L1476.50,209.37 L1476.60,208.94 L1476.69,208.52 L1476.79,208.09 L1476.89,207.66 L1476.99,207.23 L1477.08,206.80 L1477.18,206.38 L1477.27,205.95 L1477.37,205.52 L1477.47,205.09 L1477.56,204.66 L1477.66,204.24 L1477.76,203.81 L1477.85,203.38 L1477.95,202.95 L1478.05,202.52 L1478.14,202.09 L1478.24,201.67 L1478.33,201.24 L1478.43,200.81 L1478.53,200.38 L1478.62,199.95 L1478.72,199.52 L1478.81,199.09 L1478.91,198.66 L1479.01,198.23 L1479.10,197.80 L1479.20,197.37 L1479.29,196.95 L1479.39,196.52 L1479.48,196.09 L1479.58,195.66 L1479.67,195.23 L1479.77,194.80 L1479.87,194.37 L1479.96,193.94 L1480.06,193.51 L1480.15,193.08 L1480.25,192.64 L1480.34,192.21 L1480.44,191.78 L1480.53,191.35 L1480.63,190.92 L1480.72,190.49 L1480.82,190.06 L1480.91,189.63 L1481.01,189.20 L1481.10,188.77 L1481.20,188.33 L1481.29,187.90 L1481.39,187.47 L1481.48,187.04 L1481.58,186.61 L1481.67,186.18 L1481.77,185.74 L1481.86,185.31 L1481.96,184.88 L1482.05,184.45 L1482.15,184.01 L1482.24,183.58 L1482.34,183.15 L1482.43,182.72 L1482.53,182.28 L1482.62,181.85 L1482.72,181.42 L1482.81,180.98 L1482.91,180.55 L1483.00,180.12 L1483.10,179.68 L1483.19,179.25 L1483.29,178.82 L1483.38,178.38 L1483.48,177.95 L1483.57,177.51 L1483.67,177.08 L1483.76,176.65 L1483.86,176.21 L1483.95,175.78 L1484.05,175.34 L1484.15,174.91 L1484.24,174.48 L1484.34,174.04 L1484.43,173.61 L1484.53,173.17 L1484.63,172.74 L1484.72,172.30 L1484.82,171.87 L1484.91,171.43 L1485.01,171.00 L1485.11,170.56 L1485.20,170.13 L1485.30,169.69 L1485.40,169.26 L1485.49,168.82 L1485.59,168.39 L1485.69,167.95 L1485.78,167.52 L1485.88,167.08 L1485.98,166.65 L1486.08,166.21 L1486.18,165.78 L1486.27,165.34 L1486.37,164.91 L1486.47,164.47 L1486.57,164.04 L1486.67,163.60 L1486.77,163.17 L1486.86,162.73 L1486.96,162.30 L1487.06,161.86 L1487.16,161.43 L1487.26,160.99 L1487.36,160.56 L1487.46,160.12 L1487.56,159.69 L1487.66,159.25 L1487.76,158.82 L1487.86,158.38 L1487.96,157.95 L1488.06,157.51 L1488.16,157.08 L1488.27,156.64 L1488.37,156.21 L1488.47,155.77 L1488.57,155.34 L1488.67,154.90 L1488.78,154.47 L1488.88,154.03 L1488.98,153.60 L1489.08,153.16 L1489.19,152.73 L1489.29,152.29 L1489.40,151.86 L1489.50,151.42 L1489.60,150.99 L1489.71,150.55 L1489.81,150.12 L1489.92,149.68 L1490.02,149.25 L1490.13,148.82 L1490.23,148.38 L1490.34,147.95 L1490.45,147.51 L1490.55,147.08 L1490.66,146.64 L1490.77,146.21 L1490.88,145.78 L1490.98,145.34 L1491.09,144.91 L1491.20,144.47 L1491.31,144.04 L1491.42,143.61 L1491.53,143.17 L1491.64,142.74 L1491.75,142.31 L1491.86,141.87 L1491.97,141.44 L1492.08,141.01 L1492.19,140.57 L1492.30,140.14 L1492.41,139.71 L1492.52,139.28 L1492.64,138.84 L1492.75,138.41 L1492.86,137.98 L1492.98,137.55 L1493.09,137.11 L1493.20,136.68 L1493.32,136.25 L1493.43,135.82 L1493.55,135.39 L1493.66,134.95 L1493.78,134.52 L1493.90,134.09 L1494.01,133.66 L1494.13,133.23 L1494.25,132.80 L1494.37,132.37 L1494.48,131.93 L1494.60,131.50 L1494.72,131.07 L1494.84,130.64 L1494.96,130.21 L1495.08,129.78 L1495.20,129.35 L1495.32,128.92 L1495.45,128.49 L1495.57,128.06 L1495.69,127.63 L1495.81,127.20 L1495.94,126.78 L1496.06,126.35 L1496.18,125.92 L1496.31,125.49 L1496.43,125.06 L1496.56,124.63 L1496.68,124.20 L1496.81,123.78 L1496.94,123.35 L1497.06,122.92 L1497.19,122.49 L1497.32,122.06 L1497.45,121.64 L1497.58,121.21 L1497.71,120.78 L1497.84,120.36 L1497.97,119.93 L1498.10,119.50 L1498.23,119.08 L1498.36,118.65 L1498.49,118.23 L1498.63,117.80 L1498.76,117.37 L1498.89,116.95 L1499.03,116.52 L1499.16,116.10 L1499.30,115.68 L1499.43,115.25 L1499.57,114.83 L1499.71,114.40 L1499.85,113.98 L1499.98,113.56 L1500.12,113.13 L1500.26,112.71 L1500.40,112.29 L1500.54,111.86 L1500.68,111.44 L1500.82,111.02 L1500.96,110.60 L1501.11,110.17 L1501.25,109.75 L1501.39,109.33 L1501.54,108.91 L1501.68,108.49 L1501.83,108.07 L1501.97,107.65 L1502.12,107.23 L1502.27,106.81 L1502.41,106.39 L1502.56,105.97 L1502.71,105.55 L1502.86,105.13 L1503.01,104.71 L1503.16,104.29 L1503.31,103.87 L1503.46,103.46 L1503.61,103.04 L1503.77,102.62 L1503.92,102.20 L1504.07,101.79 L1504.23,101.37 L1504.38,100.95 L1504.54,100.54 L1504.70,100.12 L1504.85,99.71 L1505.01,99.29 L1505.17,98.88 L1505.33,98.46 L1505.49,98.05 L1505.65,97.63 L1505.81,97.22 L1505.97,96.80 L1506.13,96.39 L1506.30,95.98 L1506.46,95.56 L1506.63,95.15 L1506.79,94.74 L1506.96,94.33 L1507.12,93.92 L1507.29,93.50 L1507.46,93.09 L1507.63,92.68 L1507.80,92.27 L1507.97,91.86 L1508.14,91.45 L1508.31,91.04 L1508.48,90.63 L1508.65,90.23 L1508.82,89.82 L1509.00,89.41 L1509.17,89.00 L1509.35,88.59 L1509.53,88.19 L1509.70,87.78 L1509.88,87.37 L1510.06,86.97 L1510.24,86.56 L1510.42,86.15 L1510.60,85.75 L1510.78,85.34 L1510.96,84.94 L1511.14,84.54 L1511.33,84.13 L1511.51,83.73 L1511.70,83.32 L1511.88,82.92 L1512.07,82.52 L1512.26,82.12 L1512.45,81.71 L1512.64,81.31 L1512.82,80.91 L1513.02,80.51 L1513.21,80.11 L1513.40,79.71 L1513.59,79.31 L1513.79,78.91 L1513.98,78.51 L1514.18,78.11 L1514.37,77.72 L1514.57,77.32 L1514.77,76.92 L1514.97,76.52 L1515.16,76.13 L1515.36,75.73 L1515.57,75.34 L1515.77,74.94 L1515.97,74.54 L1516.17,74.15 L1516.38,73.76 L1516.58,73.36 L1516.79,72.97 L1517.00,72.58 L1517.20,72.18 L1517.41,71.79 L1517.62,71.40 L1517.83,71.01 L1518.04,70.62 L1518.26,70.22 L1518.47,69.83 L1518.68,69.44 L1518.90,69.06 L1519.11,68.67 L1519.33,68.28 L1519.55,67.89 L1519.77,67.50 L1519.99,67.11 L1520.21,66.73 L1520.43,66.34 L1520.65,65.96 L1520.87,65.57 L1521.10,65.19 L1521.32,64.80 L1521.55,64.42 L1521.78,64.04 L1522.00,63.66 L1522.23,63.27 L1522.46,62.89 L1522.69,62.51 L1522.93,62.13 L1523.16,61.76 L1523.39,61.38 L1523.63,61.00 L1523.87,60.63 L1524.10,60.25 L1524.34,59.88 L1524.58,59.50 L1524.82,59.13 L1525.07,58.76 L1525.31,58.39 L1525.55,58.02 L1525.80,57.65 L1526.05,57.28 L1526.29,56.91 L1526.54,56.55 L1526.79,56.18 L1527.05,55.82 L1527.30,55.45 L1527.55,55.09 L1527.81,54.73 L1528.07,54.37 L1528.32,54.01 L1528.58,53.65 L1528.84,53.29 L1529.11,52.94 L1529.37,52.58 L1529.63,52.23 L1529.90,51.88 L1530.17,51.53 L1530.44,51.18 L1530.71,50.83 L1530.98,50.48 L1531.25,50.14 L1531.53,49.79 L1531.80,49.45 L1532.08,49.10 L1532.36,48.76 L1532.64,48.42 L1532.92,48.09 L1533.20,47.75 L1533.49,47.41 L1533.77,47.08 L1534.06,46.75 L1534.35,46.42 L1534.64,46.09 L1534.93,45.76 L1535.22,45.43 L1535.52,45.11 L1535.81,44.78 L1536.11,44.46 L1536.41,44.14 L1536.71,43.82 L1537.02,43.51 L1537.32,43.19 L1537.63,42.88 L1537.93,42.56 L1538.24,42.25 L1538.55,41.94 L1538.87,41.64 L1539.18,41.33 L1539.50,41.03 L1539.81,40.73 L1540.13,40.43 L1540.45,40.13 L1540.78,39.83 L1541.10,39.54 L1541.43,39.24 L1541.75,38.95 L1542.08,38.66 L1542.41,38.37 L1542.75,38.09 L1543.08,37.80 L1543.41,37.52 L1543.75,37.24 L1544.09,36.96 L1544.43,36.69 L1544.77,36.41 L1545.12,36.14 L1545.46,35.87 L1545.81,35.60 L1546.15,35.33 L1546.50,35.06 L1546.85,34.80 L1547.20,34.54 L1547.56,34.28 L1547.91,34.02 L1548.27,33.76 L1548.62,33.51 L1548.98,33.25 L1549.34,33.00 L1549.70,32.75 L1550.06,32.50 L1550.43,32.26 L1550.79,32.01 L1551.16,31.77 L1551.52,31.53 L1551.89,31.29 L1552.26,31.06 L1552.63,30.82 L1553.00,30.59 L1553.37,30.36 L1553.75,30.13 L1554.12,29.90 L1554.50,29.67 L1554.87,29.45 L1555.25,29.23 L1555.63,29.01 L1556.01,28.79 L1556.39,28.57 L1556.77,28.36 L1557.15,28.15 L1557.53,27.94 L1557.92,27.73 L1558.30,27.52 L1558.69,27.31 L1559.08,27.11 L1559.46,26.91 L1559.85,26.71 L1560.24,26.51 L1560.63,26.32 L1561.02,26.12 L1561.41,25.93 L1561.80,25.74 L1562.20,25.55 L1562.59,25.36 L1562.98,25.18 L1563.38,25.00 L1563.77,24.81 L1564.17,24.64 L1564.57,24.46 L1564.96,24.28 L1565.36,24.11 L1565.76,23.94 L1566.16,23.77 L1566.56,23.60 L1566.96,23.43 L1567.36,23.26 L1567.76,23.10 L1568.17,22.94 L1568.57,22.78 L1568.97,22.62 L1569.38,22.46 L1569.78,22.31 L1570.19,22.16 L1570.59,22.00 L1571.00,21.85 L1571.41,21.71 L1571.82,21.56 L1572.23,21.42 L1572.64,21.27 L1573.05,21.13 L1573.46,20.99 L1573.87,20.85 L1574.28,20.71 L1574.69,20.58 L1575.10,20.45 L1575.52,20.31 L1575.93,20.18 L1576.35,20.05 L1576.76,19.93 L1577.18,19.80 L1577.59,19.67 L1578.01,19.55 L1578.43,19.43 L1578.85,19.31 L1579.26,19.19 L1579.68,19.07 L1580.10,18.96 L1580.52,18.84 L1580.94,18.73 L1581.36,18.62 L1581.79,18.51 L1582.21,18.40 L1582.63,18.29 L1583.05,18.19 L1583.48,18.08 L1583.90,17.98 L1584.33,17.88 L1584.75,17.78 L1585.18,17.68 L1585.60,17.58 L1586.03,17.48 L1586.46,17.39 L1586.88,17.30 L1587.31,17.20 L1587.74,17.11 L1588.17,17.02 L1588.60,16.93 L1589.03,16.85 L1589.46,16.76 L1589.89,16.67 L1590.32,16.59 L1590.75,16.51 L1591.18,16.43 L1591.61,16.35 L1592.04,16.27 L1592.48,16.19 L1592.91,16.11 L1593.34,16.04 L1593.78,15.96 L1594.21,15.89 L1594.65,15.82 L1595.08,15.75 L1595.52,15.68 L1595.95,15.61 L1596.39,15.54 L1596.83,15.47 L1597.26,15.41 L1597.70,15.34 L1598.14,15.28 L1598.58,15.22 L1599.02,15.16 L1599.45,15.10 L1599.89,15.04 L1600.33,14.98 L1600.77,14.92 L1601.21,14.87 L1601.65,14.81 L1602.09,14.76 L1602.54,14.70 L1602.98,14.65 L1603.42,14.60 L1603.86,14.55 L1604.30,14.50 L1604.74,14.45 L1605.19,14.41 L1605.63,14.36 L1606.07,14.31 L1606.52,14.27 L1606.96,14.22 L1607.41,14.18 L1607.85,14.14 L1608.30,14.10 L1608.74,14.06 L1609.19,14.02 L1609.63,13.98 L1610.08,13.94 L1610.52,13.90 L1610.97,13.86 L1611.42,13.83 L1611.86,13.79 L1612.31,13.76 L1612.76,13.72 L1613.20,13.69 L1613.65,13.66 L1614.10,13.63 L1614.55,13.60 L1614.99,13.57 L1615.44,13.54 L1615.89,13.51 L1616.34,13.48 L1616.79,13.45 L1617.24,13.43 L1617.69,13.40 L1618.14,13.37 L1618.59,13.35 L1619.04,13.33 L1619.49,13.30 L1619.94,13.28 L1620.39,13.26 L1620.84,13.23 L1621.29,13.21 L1621.74,13.19 L1622.19,13.17 L1622.64,13.15 L1623.09,13.13 L1623.54,13.12 L1623.99,13.10 L1624.44,13.08 L1624.89,13.06 L1625.35,13.05 L1625.80,13.03 L1626.25,13.01 L1626.70,13.00 L1627.15,12.98 L1627.60,12.97 L1628.06,12.96 L1628.51,12.94 L1628.96,12.93 L1629.41,12.92 L1629.87,12.90 L1630.32,12.89 L1630.77,12.88 L1631.22,12.87 L1631.68,12.86 L1632.13,12.85 L1632.58,12.84 L1633.03,12.83 L1633.49,12.82 L1633.94,12.81 L1634.39,12.80 L1634.84,12.79 L1635.30,12.78 L1635.75,12.78 L1636.20,12.77 L1636.66,12.76 L1637.11,12.75 L1637.56,12.75 L1638.01,12.74 L1638.47,12.73 L1638.92,12.73 L1639.37,12.72 L1639.82,12.71 L1640.28,12.71 L1640.73,12.70 L1641.18,12.70 L1641.63,12.69 L1642.09,12.69 L1642.54,12.68 L1642.99,12.68 L1643.44,12.67 L1643.90,12.67 L1644.35,12.66 L1644.80,12.66 L1645.25,12.65 L1645.71,12.65 L1646.16,12.64 L1646.61,12.64 L1647.06,12.63 L1647.51,12.63 L1647.96,12.62 L1648.41,12.62 L1648.87,12.62 L1649.32,12.61 L1649.77,12.61 L1650.22,12.60 L1650.67,12.60 L1651.12,12.59 L1651.57,12.59 L1652.02,12.58 L1652.47,12.58 L1652.92,12.57 L1653.37,12.57 L1653.82,12.56 L1654.27,12.56 L1654.72,12.55 L1655.17,12.55 L1655.62,12.54 L1656.07,12.54 L1656.52,12.53 L1656.97,12.53 L1657.42,12.52 L1657.87,12.52 L1658.32,12.51 L1658.76,12.51 L1659.21,12.50 L1659.66,12.50 L1660.11,12.49 L1660.56,12.49 L1661.01,12.48 L1661.45,12.48 L1661.90,12.47 L1662.35,12.47 L1662.80,12.46 L1663.24,12.45 L1663.69,12.45 L1664.14,12.44 L1664.59,12.44 L1665.03,12.43 L1665.48,12.43 L1665.93,12.42 L1666.38,12.41 L1666.82,12.41 L1667.27,12.40 L1667.72,12.40 L1668.16,12.39 L1668.61,12.38 L1669.05,12.38 L1669.50,12.37 L1669.95,12.37 L1670.39,12.36 L1670.84,12.35 L1671.28,12.35 L1671.73,12.34 L1672.18,12.34 L1672.62,12.33 L1673.07,12.32 L1673.51,12.32 L1673.96,12.31 L1674.40,12.30 L1674.85,12.30 L1675.29,12.29 L1675.74,12.29 L1676.18,12.28 L1676.63,12.27 L1677.07,12.27 L1677.52,12.26 L1677.96,12.25 L1678.41,12.25 L1678.85,12.24 L1679.29,12.23 L1679.74,12.23 L1680.18,12.22 L1680.63,12.21 L1681.07,12.21 L1681.51,12.20 L1681.96,12.19 L1682.40,12.19 L1682.84,12.18 L1683.29,12.17 L1683.73,12.16 L1684.18,12.16 L1684.62,12.15 L1685.06,12.14 L1685.51,12.14 L1685.95,12.13 L1686.39,12.12 L1686.83,12.12 L1687.28,12.11 L1687.72,12.10 L1688.16,12.09 L1688.61,12.09 L1689.05,12.08 L1689.49,12.07 L1689.93,12.07 L1690.38,12.06 L1690.82,12.05 L1691.26,12.04 L1691.70,12.04 L1692.14,12.03 L1692.59,12.02 L1693.03,12.01 L1693.47,12.01 L1693.91,12.00 L1694.35,11.99 L1694.80,11.99 L1695.24,11.98 L1695.68,11.97 L1696.12,11.96 L1696.56,11.96 L1697.00,11.95 L1697.45,11.94 L1697.89,11.93 L1698.33,11.93 L1698.77,11.92 L1699.21,11.91 L1699.65,11.90 L1700.09,11.90 L1700.53,11.89 L1700.97,11.88 L1701.42,11.87 L1701.86,11.86 L1702.30,11.86 L1702.74,11.85 L1703.18,11.84 L1703.62,11.83 L1704.06,11.83 L1704.50,11.82 L1704.94,11.81 L1705.38,11.80 L1705.82,11.80 L1706.26,11.79 L1706.70,11.78 L1707.14,11.77 L1707.58,11.76 L1708.02,11.76 L1708.46,11.75 L1708.91,11.74 L1709.35,11.73 L1709.79,11.72 L1710.23,11.72 L1710.67,11.71 L1711.11,11.70 L1711.55,11.69 L1711.99,11.69 L1712.43,11.68 L1712.87,11.67 L1713.31,11.66 L1713.75,11.65 L1714.18,11.65 L1714.62,11.64 L1715.06,11.63 L1715.50,11.62 L1715.94,11.61 L1716.38,11.61 L1716.82,11.60 L1717.26,11.59 L1717.70,11.58 L1718.14,11.57 L1718.58,11.57 L1719.02,11.56 L1719.46,11.55 L1719.90,11.54 L1720.34,11.53 L1720.78,11.53 L1721.22,11.52 L1721.66,11.51 L1722.10,11.50 L1722.54,11.49 L1722.98,11.48 L1723.41,11.48 L1723.85,11.47 L1724.29,11.46 L1724.73,11.45 L1725.17,11.44 L1725.61,11.44 L1726.05,11.43 L1726.49,11.42 L1726.93,11.41 L1727.37,11.40 L1727.81,11.40 L1728.25,11.39 L1728.69,11.38 L1729.12,11.37 L1729.56,11.36 L1730.00,11.36 L1730.44,11.35 L1730.88,11.34 L1731.32,11.33 L1731.76,11.32 L1732.20,11.32 L1732.64,11.31 L1733.08,11.30 L1733.52,11.29 L1733.95,11.28 L1734.39,11.28 L1734.83,11.27 L1735.27,11.26 L1735.71,11.25 L1736.15,11.24 L1736.59,11.24 L1737.03,11.23 L1737.47,11.22 L1737.91,11.21 L1738.35,11.20 L1738.78,11.19 L1739.22,11.19 L1739.66,11.18 L1740.10,11.17 L1740.54,11.16 L1740.98,11.15 L1741.42,11.15 L1741.86,11.14 L1742.30,11.13 L1742.74,11.12 L1743.18,11.12 L1743.62,11.11 L1744.05,11.10 L1744.49,11.09 L1744.93,11.08 L1745.37,11.08 L1745.81,11.07 L1746.25,11.06 L1746.69,11.05 L1747.13,11.04 L1747.57,11.04 L1748.01,11.03 L1748.45,11.02 L1748.89,11.01 L1749.33,11.00 L1749.77,11.00 L1750.21,10.99 L1750.64,10.98 L1751.08,10.97 L1751.52,10.97 L1751.96,10.96 L1752.40,10.95 L1752.84,10.94 L1753.28,10.94 L1753.72,10.93 L1754.16,10.92 L1754.60,10.91 L1755.04,10.90 L1755.48,10.90 L1755.92,10.89 L1756.36,10.88 L1756.80,10.87 L1757.24,10.87 L1757.68,10.86 L1758.12,10.85 L1758.56,10.84 L1759.00,10.84 L1759.44,10.83 L1759.88,10.82 L1760.32,10.81 L1760.76,10.81 L1761.20,10.80 L1761.64,10.79 L1762.08,10.78 L1762.52,10.78 L1762.96,10.77 L1763.40,10.76 L1763.84,10.76 L1764.28,10.75 L1764.72,10.74 L1765.17,10.73 L1765.61,10.73 L1766.05,10.72 L1766.49,10.71 L1766.93,10.70 L1767.37,10.70 L1767.81,10.69 L1768.25,10.68 L1768.69,10.68 L1769.13,10.67 L1769.57,10.66 L1770.02,10.65 L1770.46,10.65 L1770.90,10.64 L1771.34,10.63 L1771.78,10.63 L1772.22,10.62 L1772.66,10.61 L1773.10,10.61 L1773.55,10.60 L1773.99,10.59 L1774.43,10.59 L1774.87,10.58 L1775.31,10.57 L1775.76,10.57 L1776.20,10.56 L1776.64,10.55 L1777.08,10.55 L1777.52,10.54 L1777.97,10.53 L1778.41,10.53 L1778.85,10.52 L1779.29,10.51 L1779.73,10.51 L1780.18,10.50 L1780.62,10.49 L1781.06,10.49 L1781.51,10.48 L1781.95,10.47 L1782.39,10.47 L1782.83,10.46 L1783.28,10.46 L1783.72,10.45 L1784.16,10.44 L1784.61,10.44 L1785.05,10.43 L1785.49,10.42 L1785.94,10.42 L1786.38,10.41 L1786.82,10.41 L1787.27,10.40 L1787.71,10.39 L1788.15,10.39 L1788.60,10.38 L1789.04,10.38 L1789.49,10.37 L1789.93,10.36 L1790.37,10.36 L1790.82,10.35 L1791.26,10.35 L1791.71,10.34 L1792.15,10.34 L1792.60,10.33 L1793.04,10.32 L1793.49,10.32 L1793.93,10.31 L1794.38,10.31 L1794.82,10.30 L1795.27,10.30 L1795.71,10.29 L1796.16,10.29 L1796.60,10.28 L1797.05,10.28 L1797.49,10.27 L1797.94,10.27 L1798.39,10.26 L1798.83,10.26 L1799.28,10.25 L1799.72,10.25 L1800.17,10.24 L1800.62,10.24 L1801.06,10.23 L1801.51,10.23 L1801.95,10.22 L1802.40,10.22 L1802.85,10.21 L1803.30,10.21 L1803.74,10.20 L1804.19,10.20 L1804.64,10.19 L1805.08,10.19 L1805.53,10.18 L1805.98,10.18 L1806.43,10.17 L1806.87,10.17 L1807.32,10.17 L1807.77,10.16 L1808.22,10.16 L1808.67,10.15 L1809.11,10.15 L1809.56,10.14 L1810.01,10.14 L1810.46,10.14 L1810.91,10.13 L1811.36,10.13 L1811.80,10.12 L1812.25,10.12 L1812.70,10.12 L1813.15,10.11 L1813.60,10.11 L1814.05,10.11 L1814.50,10.10 L1814.95,10.10 L1815.40,10.09 L1815.85,10.09 L1816.30,10.09 L1816.75,10.08 L1817.20,10.08 L1817.65,10.08 L1818.10,10.07 L1818.55,10.07 L1819.00,10.07 L1819.45,10.06 L1819.90,10.06 L1820.36,10.06 L1820.81,10.06 L1821.26,10.05 L1821.71,10.05 L1822.16,10.05 L1822.61,10.04 L1823.07,10.04 L1823.52,10.04 L1823.97,10.04 L1824.42,10.03 L1824.87,10.03 L1825.33,10.03 L1825.78,10.03 L1826.23,10.02 L1826.68,10.02 L1827.14,10.02 L1827.59,10.02 L1828.04,10.01 L1828.50,10.01 L1828.95,10.01 L1829.41,10.01 L1829.86,10.01 L1830.31,10.00 L1830.77,10.00" class="cdf"/>
<line x1="1408.1" y1="354.5" x2="1408.1" y2="348.9" class="tk"/>
<line x1="1483.2" y1="354.5" x2="1483.2" y2="348.9" class="tk"/>
<line x1="1558.3" y1="354.5" x2="1558.3" y2="348.9" class="tk"/>
<line x1="1633.4" y1="354.5" x2="1633.4" y2="348.9" class="tk"/>
<line x1="1708.5" y1="354.5" x2="1708.5" y2="348.9" class="tk"/>
<line x1="1783.6" y1="354.5" x2="1783.6" y2="348.9" class="tk"/>
<line x1="1858.7" y1="354.5" x2="1858.7" y2="348.9" class="tk"/>
<line x1="1333.0" y1="354.5" x2="1338.6" y2="354.5" class="tk"/>
<line x1="1333.0" y1="285.5" x2="1338.6" y2="285.5" class="tk"/>
<line x1="1333.0" y1="216.5" x2="1338.6" y2="216.5" class="tk"/>
<line x1="1333.0" y1="147.5" x2="1338.6" y2="147.5" class="tk"/>
<line x1="1333.0" y1="78.5" x2="1338.6" y2="78.5" class="tk"/>
<line x1="1333.0" y1="9.5" x2="1338.6" y2="9.5" class="tk"/>
<rect x="1333.0" y="9.5" width="526.5" height="345.0" class="frm"/>
<text x="1408.1" y="377.7" text-anchor="middle" class="tl">0.5</text>
<text x="1483.2" y="377.7" text-anchor="middle" class="tl">1.0</text>
<text x="1558.3" y="377.7" text-anchor="middle" class="tl">1.5</text>
<text x="1633.4" y="377.7" text-anchor="middle" class="tl">2.0</text>
<text x="1708.5" y="377.7" text-anchor="middle" class="tl">2.5</text>
<text x="1783.6" y="377.7" text-anchor="middle" class="tl">3.0</text>
<text x="1858.7" y="377.7" text-anchor="middle" class="tl">3.5</text>
<text x="1328.0" y="361.0" text-anchor="end" class="tl">0.0</text>
<text x="1328.0" y="292.0" text-anchor="end" class="tl">0.2</text>
<text x="1328.0" y="223.0" text-anchor="end" class="tl">0.4</text>
<text x="1328.0" y="154.0" text-anchor="end" class="tl">0.6</text>
<text x="1328.0" y="85.0" text-anchor="end" class="tl">0.8</text>
<text x="1328.0" y="16.0" text-anchor="end" class="tl">1.0</text>
<text x="1688.8" y="81.7" style="fill:#000"><tspan font-style="italic">EF</tspan> (50.50%)<tspan class="lt">＜</tspan>1</text>
<text x="1654.2" y="116.3" style="fill:#000">1 ≤ <tspan font-style="italic">EF</tspan> (48.51%)<tspan class="lt">＜</tspan>2</text>
<text x="1654.2" y="149.2" style="fill:#000">2 ≤ <tspan font-style="italic">EF</tspan> (0.99%)<tspan class="lt">＜</tspan>5</text>
<text x="1700.9" y="257.3" style="fill:#1a1aff">Simulated:0.14</text>
<text x="1702.6" y="309.1" style="fill:#36a844">Detected:0.12</text>
<text x="1848.6" y="45.0" text-anchor="end" class="plab">(c)</text>
<text x="1596.2" y="406.8" text-anchor="middle"><tspan font-style="italic">EF</tspan> (Cr)</text>
<text transform="translate(1281.5,181.0) rotate(-90)" text-anchor="middle">Cumulative probability</text>
</g>
<g>
<rect x="111.4" y="431.6" width="20.6" height="342.7" fill="#e7e9fe"/>
<rect x="132.0" y="431.6" width="37.0" height="342.7" fill="#e5eee9"/>
<rect x="169.0" y="431.6" width="233.8" height="342.7" fill="#fee8c5"/>
<rect x="402.8" y="431.6" width="165.2" height="342.7" fill="#fde4e4"/>
<rect x="568.0" y="431.6" width="48.9" height="342.7" fill="#fdc6c6"/>
<line x1="111.4" y1="430.0" x2="111.4" y2="772.8" class="dsh"/>
<line x1="132.0" y1="430.0" x2="132.0" y2="772.8" class="dsh"/>
<line x1="169.0" y1="430.0" x2="169.0" y2="772.8" class="dsh"/>
<line x1="402.8" y1="430.0" x2="402.8" y2="772.8" class="dsh"/>
<line x1="568.0" y1="430.0" x2="568.0" y2="772.8" class="dsh"/>
<line x1="130.0" y1="427.0" x2="170.0" y2="427.0" class="dsh2"/>
<line x1="189.2" y1="428.5" x2="189.2" y2="774.3" stroke="#339c3c" stroke-width="2.4"/>
<line x1="199.1" y1="428.5" x2="199.1" y2="774.3" stroke="#0000ff" stroke-width="2.8"/>
<path d="M102.13,773.96 L102.57,773.88 L103.00,773.79 L103.42,773.70 L103.83,773.59 L104.23,773.47 L104.62,773.35 L105.00,773.21 L105.37,773.07 L105.73,772.92 L106.07,772.76 L106.41,772.59 L106.74,772.41 L107.06,772.23 L107.38,772.04 L107.68,771.84 L107.97,771.63 L108.26,771.42 L108.54,771.20 L108.81,770.97 L109.07,770.73 L109.32,770.49 L109.57,770.24 L109.81,769.99 L110.04,769.73 L110.26,769.46 L110.48,769.19 L110.69,768.92 L110.90,768.63 L111.09,768.34 L111.29,768.05 L111.47,767.75 L111.65,767.45 L111.83,767.14 L112.00,766.83 L112.16,766.52 L112.32,766.19 L112.47,765.87 L112.62,765.54 L112.76,765.21 L112.90,764.88 L113.04,764.54 L113.17,764.20 L113.30,763.85 L113.42,763.50 L113.54,763.15 L113.66,762.80 L113.77,762.45 L113.88,762.09 L113.99,761.73 L114.09,761.37 L114.19,761.00 L114.29,760.64 L114.39,760.27 L114.48,759.91 L114.58,759.54 L114.67,759.17 L114.76,758.80 L114.85,758.43 L114.94,758.06 L115.02,757.69 L115.11,757.32 L115.19,756.95 L115.28,756.58 L115.36,756.21 L115.45,755.84 L115.53,755.47 L115.61,755.10 L115.70,754.73 L115.78,754.36 L115.86,753.99 L115.94,753.62 L116.02,753.26 L116.10,752.89 L116.18,752.52 L116.26,752.15 L116.34,751.78 L116.42,751.42 L116.50,751.05 L116.58,750.68 L116.66,750.32 L116.73,749.95 L116.81,749.59 L116.89,749.22 L116.97,748.85 L117.04,748.49 L117.12,748.12 L117.19,747.76 L117.27,747.39 L117.35,747.03 L117.42,746.66 L117.50,746.30 L117.57,745.93 L117.65,745.57 L117.72,745.21 L117.79,744.84 L117.87,744.48 L117.94,744.12 L118.01,743.75 L118.09,743.39 L118.16,743.03 L118.23,742.66 L118.31,742.30 L118.38,741.94 L118.45,741.58 L118.52,741.21 L118.60,740.85 L118.67,740.49 L118.74,740.13 L118.81,739.77 L118.88,739.41 L118.96,739.04 L119.03,738.68 L119.10,738.32 L119.17,737.96 L119.24,737.60 L119.31,737.24 L119.38,736.88 L119.45,736.52 L119.53,736.16 L119.60,735.80 L119.67,735.43 L119.74,735.07 L119.81,734.71 L119.88,734.35 L119.95,733.99 L120.02,733.63 L120.09,733.27 L120.16,732.91 L120.24,732.55 L120.31,732.19 L120.38,731.83 L120.45,731.47 L120.52,731.11 L120.59,730.76 L120.66,730.40 L120.74,730.04 L120.81,729.68 L120.88,729.32 L120.95,728.96 L121.02,728.60 L121.10,728.24 L121.17,727.88 L121.24,727.52 L121.31,727.16 L121.39,726.80 L121.46,726.44 L121.53,726.08 L121.60,725.72 L121.68,725.36 L121.75,725.01 L121.83,724.65 L121.90,724.29 L121.97,723.93 L122.05,723.57 L122.12,723.21 L122.20,722.85 L122.27,722.49 L122.35,722.13 L122.43,721.77 L122.50,721.41 L122.58,721.05 L122.66,720.69 L122.73,720.33 L122.81,719.97 L122.89,719.62 L122.97,719.26 L123.04,718.90 L123.12,718.54 L123.20,718.18 L123.28,717.82 L123.36,717.46 L123.44,717.10 L123.52,716.74 L123.60,716.38 L123.68,716.02 L123.76,715.66 L123.84,715.30 L123.92,714.94 L124.00,714.58 L124.09,714.22 L124.17,713.86 L124.25,713.50 L124.33,713.14 L124.42,712.78 L124.50,712.42 L124.58,712.06 L124.67,711.70 L124.75,711.34 L124.84,710.98 L124.92,710.62 L125.01,710.26 L125.09,709.90 L125.18,709.54 L125.27,709.18 L125.35,708.82 L125.44,708.46 L125.53,708.10 L125.61,707.74 L125.70,707.38 L125.79,707.02 L125.88,706.66 L125.97,706.30 L126.05,705.94 L126.14,705.57 L126.23,705.21 L126.32,704.85 L126.41,704.49 L126.50,704.13 L126.59,703.77 L126.69,703.41 L126.78,703.05 L126.87,702.69 L126.96,702.33 L127.05,701.97 L127.14,701.61 L127.24,701.25 L127.33,700.89 L127.42,700.53 L127.52,700.17 L127.61,699.81 L127.71,699.45 L127.80,699.09 L127.89,698.73 L127.99,698.37 L128.08,698.01 L128.18,697.65 L128.28,697.29 L128.37,696.93 L128.47,696.57 L128.57,696.21 L128.66,695.85 L128.76,695.49 L128.86,695.13 L128.96,694.77 L129.06,694.41 L129.15,694.05 L129.25,693.69 L129.35,693.33 L129.45,692.97 L129.55,692.61 L129.65,692.25 L129.75,691.89 L129.85,691.53 L129.96,691.17 L130.06,690.81 L130.16,690.45 L130.26,690.09 L130.36,689.73 L130.47,689.37 L130.57,689.01 L130.67,688.65 L130.78,688.29 L130.88,687.93 L130.98,687.57 L131.09,687.21 L131.19,686.85 L131.30,686.49 L131.40,686.13 L131.51,685.78 L131.62,685.42 L131.72,685.06 L131.83,684.70 L131.94,684.34 L132.04,683.98 L132.15,683.62 L132.26,683.26 L132.37,682.90 L132.47,682.54 L132.58,682.18 L132.69,681.82 L132.80,681.47 L132.91,681.11 L133.02,680.75 L133.13,680.39 L133.24,680.03 L133.35,679.67 L133.46,679.31 L133.58,678.96 L133.69,678.60 L133.80,678.24 L133.91,677.88 L134.03,677.52 L134.14,677.16 L134.25,676.81 L134.37,676.45 L134.48,676.09 L134.59,675.73 L134.71,675.37 L134.82,675.01 L134.94,674.66 L135.05,674.30 L135.17,673.94 L135.29,673.58 L135.40,673.23 L135.52,672.87 L135.64,672.51 L135.75,672.15 L135.87,671.80 L135.99,671.44 L136.11,671.08 L136.23,670.72 L136.35,670.37 L136.46,670.01 L136.58,669.65 L136.70,669.30 L136.82,668.94 L136.94,668.58 L137.07,668.23 L137.19,667.87 L137.31,667.51 L137.43,667.16 L137.55,666.80 L137.67,666.44 L137.80,666.09 L137.92,665.73 L138.04,665.38 L138.17,665.02 L138.29,664.66 L138.42,664.31 L138.54,663.95 L138.66,663.60 L138.79,663.24 L138.92,662.89 L139.04,662.53 L139.17,662.17 L139.29,661.82 L139.42,661.46 L139.55,661.11 L139.67,660.75 L139.80,660.40 L139.93,660.04 L140.06,659.69 L140.19,659.34 L140.32,658.98 L140.45,658.63 L140.57,658.27 L140.70,657.92 L140.84,657.56 L140.97,657.21 L141.10,656.86 L141.23,656.50 L141.36,656.15 L141.49,655.79 L141.62,655.44 L141.76,655.09 L141.89,654.73 L142.02,654.38 L142.15,654.03 L142.29,653.67 L142.42,653.32 L142.56,652.97 L142.69,652.62 L142.83,652.26 L142.96,651.91 L143.10,651.56 L143.23,651.21 L143.37,650.85 L143.51,650.50 L143.64,650.15 L143.78,649.80 L143.92,649.45 L144.05,649.09 L144.19,648.74 L144.33,648.39 L144.47,648.04 L144.61,647.69 L144.75,647.34 L144.89,646.99 L145.03,646.64 L145.17,646.29 L145.31,645.93 L145.45,645.58 L145.59,645.23 L145.73,644.88 L145.87,644.53 L146.02,644.18 L146.16,643.83 L146.30,643.48 L146.45,643.13 L146.59,642.78 L146.73,642.43 L146.88,642.09 L147.02,641.74 L147.17,641.39 L147.31,641.04 L147.46,640.69 L147.60,640.34 L147.75,639.99 L147.89,639.64 L148.04,639.30 L148.19,638.95 L148.34,638.60 L148.48,638.25 L148.63,637.90 L148.78,637.56 L148.93,637.21 L149.08,636.86 L149.23,636.52 L149.38,636.17 L149.53,635.82 L149.68,635.48 L149.83,635.13 L149.98,634.78 L150.13,634.44 L150.28,634.09 L150.43,633.74 L150.58,633.40 L150.74,633.05 L150.89,632.71 L151.04,632.36 L151.20,632.02 L151.35,631.67 L151.50,631.33 L151.66,630.98 L151.81,630.64 L151.97,630.29 L152.12,629.95 L152.28,629.60 L152.44,629.26 L152.59,628.92 L152.75,628.57 L152.91,628.23 L153.06,627.88 L153.22,627.54 L153.38,627.20 L153.54,626.86 L153.70,626.51 L153.86,626.17 L154.01,625.83 L154.17,625.49 L154.33,625.14 L154.49,624.80 L154.66,624.46 L154.82,624.12 L154.98,623.78 L155.14,623.44 L155.30,623.09 L155.46,622.75 L155.63,622.41 L155.79,622.07 L155.95,621.73 L156.12,621.39 L156.28,621.05 L156.44,620.71 L156.61,620.37 L156.77,620.03 L156.94,619.69 L157.10,619.35 L157.27,619.01 L157.44,618.68 L157.60,618.34 L157.77,618.00 L157.94,617.66 L158.10,617.32 L158.27,616.98 L158.44,616.65 L158.61,616.31 L158.78,615.97 L158.95,615.63 L159.12,615.30 L159.29,614.96 L159.46,614.62 L159.63,614.29 L159.80,613.95 L159.97,613.61 L160.14,613.28 L160.31,612.94 L160.48,612.61 L160.66,612.27 L160.83,611.94 L161.00,611.60 L161.18,611.27 L161.35,610.93 L161.52,610.60 L161.70,610.26 L161.87,609.93 L162.05,609.60 L162.22,609.26 L162.40,608.93 L162.58,608.60 L162.75,608.26 L162.93,607.93 L163.11,607.60 L163.28,607.26 L163.46,606.93 L163.64,606.60 L163.82,606.27 L164.00,605.94 L164.17,605.61 L164.35,605.27 L164.53,604.94 L164.71,604.61 L164.89,604.28 L165.08,603.95 L165.26,603.62 L165.44,603.29 L165.62,602.96 L165.80,602.63 L165.98,602.30 L166.17,601.97 L166.35,601.65 L166.53,601.32 L166.72,600.99 L166.90,600.66 L167.09,600.33 L167.27,600.00 L167.46,599.68 L167.64,599.35 L167.83,599.02 L168.01,598.70 L168.20,598.37 L168.39,598.04 L168.57,597.72 L168.76,597.39 L168.95,597.06 L169.14,596.74 L169.33,596.41 L169.51,596.09 L169.70,595.76 L169.89,595.44 L170.08,595.11 L170.27,594.79 L170.46,594.47 L170.65,594.14 L170.85,593.82 L171.04,593.50 L171.23,593.17 L171.42,592.85 L171.61,592.53 L171.81,592.21 L172.00,591.88 L172.19,591.56 L172.39,591.24 L172.58,590.92 L172.78,590.60 L172.97,590.28 L173.17,589.96 L173.36,589.64 L173.56,589.32 L173.75,589.00 L173.95,588.68 L174.15,588.36 L174.34,588.04 L174.54,587.72 L174.74,587.40 L174.94,587.08 L175.14,586.76 L175.34,586.45 L175.53,586.13 L175.73,585.81 L175.93,585.49 L176.13,585.18 L176.33,584.86 L176.54,584.54 L176.74,584.23 L176.94,583.91 L177.14,583.60 L177.34,583.28 L177.55,582.97 L177.75,582.65 L177.95,582.34 L178.16,582.02 L178.36,581.71 L178.56,581.39 L178.77,581.08 L178.97,580.77 L179.18,580.45 L179.39,580.14 L179.59,579.83 L179.80,579.52 L180.01,579.21 L180.21,578.89 L180.42,578.58 L180.63,578.27 L180.84,577.96 L181.04,577.65 L181.25,577.34 L181.46,577.03 L181.67,576.72 L181.88,576.41 L182.09,576.10 L182.30,575.79 L182.51,575.48 L182.73,575.17 L182.94,574.87 L183.15,574.56 L183.36,574.25 L183.57,573.94 L183.79,573.64 L184.00,573.33 L184.21,573.02 L184.43,572.72 L184.64,572.41 L184.86,572.11 L185.07,571.80 L185.29,571.50 L185.50,571.19 L185.72,570.89 L185.94,570.58 L186.15,570.28 L186.37,569.97 L186.59,569.67 L186.81,569.37 L187.02,569.07 L187.24,568.76 L187.46,568.46 L187.68,568.16 L187.90,567.86 L188.12,567.56 L188.34,567.26 L188.56,566.95 L188.78,566.65 L189.00,566.35 L189.22,566.05 L189.45,565.76 L189.67,565.46 L189.89,565.16 L190.11,564.86 L190.34,564.56 L190.56,564.26 L190.79,563.96 L191.01,563.67 L191.24,563.37 L191.46,563.07 L191.69,562.78 L191.91,562.48 L192.14,562.19 L192.36,561.89 L192.59,561.59 L192.82,561.30 L193.05,561.00 L193.27,560.71 L193.50,560.42 L193.73,560.12 L193.96,559.83 L194.19,559.54 L194.42,559.24 L194.65,558.95 L194.88,558.66 L195.11,558.37 L195.34,558.08 L195.57,557.79 L195.81,557.49 L196.04,557.20 L196.27,556.91 L196.50,556.62 L196.74,556.33 L196.97,556.05 L197.20,555.76 L197.44,555.47 L197.67,555.18 L197.91,554.89 L198.14,554.60 L198.38,554.32 L198.61,554.03 L198.85,553.74 L199.09,553.46 L199.33,553.17 L199.56,552.89 L199.80,552.60 L200.04,552.32 L200.28,552.03 L200.52,551.75 L200.76,551.46 L201.00,551.18 L201.24,550.90 L201.48,550.61 L201.72,550.33 L201.96,550.05 L202.20,549.77 L202.44,549.49 L202.68,549.20 L202.92,548.92 L203.17,548.64 L203.41,548.36 L203.65,548.08 L203.90,547.80 L204.14,547.52 L204.39,547.25 L204.63,546.97 L204.88,546.69 L205.12,546.41 L205.37,546.13 L205.62,545.86 L205.86,545.58 L206.11,545.30 L206.36,545.03 L206.60,544.75 L206.85,544.48 L207.10,544.20 L207.35,543.93 L207.60,543.65 L207.85,543.38 L208.10,543.11 L208.35,542.83 L208.60,542.56 L208.85,542.29 L209.10,542.02 L209.35,541.74 L209.61,541.47 L209.86,541.20 L210.11,540.93 L210.36,540.66 L210.62,540.39 L210.87,540.12 L211.13,539.85 L211.38,539.58 L211.64,539.32 L211.89,539.05 L212.15,538.78 L212.40,538.51 L212.66,538.25 L212.92,537.98 L213.17,537.71 L213.43,537.45 L213.69,537.18 L213.95,536.92 L214.21,536.65 L214.46,536.39 L214.72,536.12 L214.98,535.86 L215.24,535.60 L215.50,535.33 L215.76,535.07 L216.03,534.81 L216.29,534.55 L216.55,534.29 L216.81,534.02 L217.07,533.76 L217.34,533.50 L217.60,533.24 L217.86,532.98 L218.13,532.73 L218.39,532.47 L218.65,532.21 L218.92,531.95 L219.19,531.69 L219.45,531.44 L219.72,531.18 L219.98,530.92 L220.25,530.67 L220.52,530.41 L220.78,530.15 L221.05,529.90 L221.32,529.64 L221.59,529.39 L221.86,529.14 L222.13,528.88 L222.39,528.63 L222.66,528.38 L222.93,528.12 L223.20,527.87 L223.48,527.62 L223.75,527.37 L224.02,527.12 L224.29,526.87 L224.56,526.62 L224.83,526.37 L225.11,526.12 L225.38,525.87 L225.65,525.62 L225.93,525.37 L226.20,525.12 L226.48,524.88 L226.75,524.63 L227.03,524.38 L227.30,524.13 L227.58,523.89 L227.85,523.64 L228.13,523.40 L228.41,523.15 L228.68,522.91 L228.96,522.66 L229.24,522.42 L229.52,522.17 L229.79,521.93 L230.07,521.69 L230.35,521.45 L230.63,521.20 L230.91,520.96 L231.19,520.72 L231.47,520.48 L231.75,520.24 L232.03,520.00 L232.31,519.76 L232.59,519.52 L232.88,519.28 L233.16,519.04 L233.44,518.80 L233.72,518.56 L234.01,518.33 L234.29,518.09 L234.57,517.85 L234.86,517.61 L235.14,517.38 L235.43,517.14 L235.71,516.91 L236.00,516.67 L236.28,516.44 L236.57,516.20 L236.86,515.97 L237.14,515.73 L237.43,515.50 L237.72,515.27 L238.00,515.03 L238.29,514.80 L238.58,514.57 L238.87,514.34 L239.16,514.11 L239.45,513.88 L239.73,513.64 L240.02,513.41 L240.31,513.18 L240.60,512.96 L240.89,512.73 L241.19,512.50 L241.48,512.27 L241.77,512.04 L242.06,511.81 L242.35,511.59 L242.64,511.36 L242.94,511.13 L243.23,510.91 L243.52,510.68 L243.82,510.45 L244.11,510.23 L244.40,510.00 L244.70,509.78 L244.99,509.56 L245.29,509.33 L245.58,509.11 L245.88,508.89 L246.18,508.66 L246.47,508.44 L246.77,508.22 L247.06,508.00 L247.36,507.78 L247.66,507.56 L247.96,507.34 L248.25,507.12 L248.55,506.90 L248.85,506.68 L249.15,506.46 L249.45,506.24 L249.75,506.02 L250.05,505.80 L250.35,505.59 L250.65,505.37 L250.95,505.15 L251.25,504.93 L251.55,504.72 L251.85,504.50 L252.15,504.29 L252.45,504.07 L252.76,503.86 L253.06,503.64 L253.36,503.43 L253.66,503.22 L253.97,503.00 L254.27,502.79 L254.57,502.58 L254.88,502.36 L255.18,502.15 L255.49,501.94 L255.79,501.73 L256.10,501.52 L256.40,501.31 L256.71,501.10 L257.01,500.89 L257.32,500.68 L257.63,500.47 L257.93,500.26 L258.24,500.05 L258.55,499.85 L258.86,499.64 L259.16,499.43 L259.47,499.23 L259.78,499.02 L260.09,498.81 L260.40,498.61 L260.71,498.40 L261.02,498.20 L261.33,497.99 L261.64,497.79 L261.95,497.58 L262.26,497.38 L262.57,497.18 L262.88,496.97 L263.19,496.77 L263.50,496.57 L263.81,496.37 L264.12,496.17 L264.44,495.96 L264.75,495.76 L265.06,495.56 L265.38,495.36 L265.69,495.16 L266.00,494.96 L266.32,494.77 L266.63,494.57 L266.94,494.37 L267.26,494.17 L267.57,493.97 L267.89,493.78 L268.20,493.58 L268.52,493.38 L268.84,493.19 L269.15,492.99 L269.47,492.80 L269.78,492.60 L270.10,492.41 L270.42,492.21 L270.74,492.02 L271.05,491.82 L271.37,491.63 L271.69,491.44 L272.01,491.24 L272.33,491.05 L272.64,490.86 L272.96,490.67 L273.28,490.48 L273.60,490.29 L273.92,490.10 L274.24,489.91 L274.56,489.72 L274.88,489.53 L275.20,489.34 L275.52,489.15 L275.85,488.96 L276.17,488.77 L276.49,488.59 L276.81,488.40 L277.13,488.21 L277.45,488.02 L277.78,487.84 L278.10,487.65 L278.42,487.47 L278.75,487.28 L279.07,487.10 L279.39,486.91 L279.72,486.73 L280.04,486.54 L280.37,486.36 L280.69,486.18 L281.02,485.99 L281.34,485.81 L281.67,485.63 L281.99,485.45 L282.32,485.27 L282.64,485.09 L282.97,484.91 L283.30,484.73 L283.62,484.55 L283.95,484.37 L284.28,484.19 L284.60,484.01 L284.93,483.83 L285.26,483.65 L285.59,483.47 L285.92,483.30 L286.24,483.12 L286.57,482.94 L286.90,482.77 L287.23,482.59 L287.56,482.41 L287.89,482.24 L288.22,482.06 L288.55,481.89 L288.88,481.71 L289.21,481.54 L289.54,481.37 L289.87,481.19 L290.20,481.02 L290.53,480.85 L290.86,480.68 L291.20,480.50 L291.53,480.33 L291.86,480.16 L292.19,479.99 L292.52,479.82 L292.86,479.65 L293.19,479.48 L293.52,479.31 L293.86,479.14 L294.19,478.97 L294.52,478.80 L294.86,478.64 L295.19,478.47 L295.53,478.30 L295.86,478.13 L296.19,477.97 L296.53,477.80 L296.86,477.63 L297.20,477.47 L297.54,477.30 L297.87,477.14 L298.21,476.97 L298.54,476.81 L298.88,476.65 L299.22,476.48 L299.55,476.32 L299.89,476.16 L300.23,475.99 L300.56,475.83 L300.90,475.67 L301.24,475.51 L301.58,475.35 L301.91,475.19 L302.25,475.03 L302.59,474.87 L302.93,474.71 L303.27,474.55 L303.61,474.39 L303.95,474.23 L304.29,474.07 L304.63,473.91 L304.96,473.76 L305.30,473.60 L305.64,473.44 L305.99,473.28 L306.33,473.13 L306.67,472.97 L307.01,472.82 L307.35,472.66 L307.69,472.51 L308.03,472.35 L308.37,472.20 L308.71,472.04 L309.06,471.89 L309.40,471.74 L309.74,471.58 L310.08,471.43 L310.43,471.28 L310.77,471.13 L311.11,470.98 L311.45,470.82 L311.80,470.67 L312.14,470.52 L312.48,470.37 L312.83,470.22 L313.17,470.07 L313.52,469.92 L313.86,469.78 L314.21,469.63 L314.55,469.48 L314.89,469.33 L315.24,469.18 L315.58,469.04 L315.93,468.89 L316.28,468.74 L316.62,468.60 L316.97,468.45 L317.31,468.31 L317.66,468.16 L318.01,468.02 L318.35,467.87 L318.70,467.73 L319.05,467.59 L319.39,467.44 L319.74,467.30 L320.09,467.16 L320.43,467.01 L320.78,466.87 L321.13,466.73 L321.48,466.59 L321.83,466.45 L322.17,466.31 L322.52,466.17 L322.87,466.03 L323.22,465.89 L323.57,465.75 L323.92,465.61 L324.27,465.47 L324.62,465.33 L324.97,465.20 L325.32,465.06 L325.67,464.92 L326.02,464.78 L326.37,464.65 L326.72,464.51 L327.07,464.38 L327.42,464.24 L327.77,464.11 L328.12,463.97 L328.47,463.84 L328.82,463.70 L329.17,463.57 L329.52,463.44 L329.87,463.30 L330.23,463.17 L330.58,463.04 L330.93,462.90 L331.28,462.77 L331.64,462.64 L331.99,462.51 L332.34,462.38 L332.69,462.25 L333.05,462.12 L333.40,461.99 L333.75,461.86 L334.11,461.73 L334.46,461.60 L334.81,461.47 L335.17,461.35 L335.52,461.22 L335.87,461.09 L336.23,460.96 L336.58,460.84 L336.94,460.71 L337.29,460.59 L337.65,460.46 L338.00,460.33 L338.35,460.21 L338.71,460.08 L339.06,459.96 L339.42,459.84 L339.78,459.71 L340.13,459.59 L340.49,459.47 L340.84,459.34 L341.20,459.22 L341.55,459.10 L341.91,458.98 L342.27,458.86 L342.62,458.74 L342.98,458.61 L343.34,458.49 L343.69,458.37 L344.05,458.25 L344.41,458.14 L344.76,458.02 L345.12,457.90 L345.48,457.78 L345.84,457.66 L346.19,457.54 L346.55,457.43 L346.91,457.31 L347.27,457.19 L347.63,457.08 L347.98,456.96 L348.34,456.85 L348.70,456.73 L349.06,456.62 L349.42,456.50 L349.78,456.39 L350.14,456.27 L350.49,456.16 L350.85,456.05 L351.21,455.93 L351.57,455.82 L351.93,455.71 L352.29,455.60 L352.65,455.48 L353.01,455.37 L353.37,455.26 L353.73,455.15 L354.09,455.04 L354.45,454.93 L354.81,454.82 L355.17,454.71 L355.53,454.60 L355.89,454.49 L356.25,454.39 L356.61,454.28 L356.97,454.17 L357.34,454.06 L357.70,453.96 L358.06,453.85 L358.42,453.74 L358.78,453.64 L359.14,453.53 L359.50,453.43 L359.87,453.32 L360.23,453.22 L360.59,453.11 L360.95,453.01 L361.31,452.90 L361.68,452.80 L362.04,452.70 L362.40,452.60 L362.76,452.49 L363.12,452.39 L363.49,452.29 L363.85,452.19 L364.21,452.09 L364.58,451.99 L364.94,451.89 L365.30,451.79 L365.66,451.69 L366.03,451.59 L366.39,451.49 L366.75,451.39 L367.12,451.29 L367.48,451.19 L367.85,451.10 L368.21,451.00 L368.57,450.90 L368.94,450.80 L369.30,450.71 L369.66,450.61 L370.03,450.52 L370.39,450.42 L370.76,450.33 L371.12,450.23 L371.49,450.14 L371.85,450.04 L372.22,449.95 L372.58,449.86 L372.95,449.76 L373.31,449.67 L373.67,449.58 L374.04,449.48 L374.40,449.39 L374.77,449.30 L375.14,449.21 L375.50,449.12 L375.87,449.03 L376.23,448.94 L376.60,448.85 L376.96,448.76 L377.33,448.67 L377.69,448.58 L378.06,448.49 L378.43,448.40 L378.79,448.32 L379.16,448.23 L379.52,448.14 L379.89,448.06 L380.26,447.97 L380.62,447.88 L380.99,447.80 L381.35,447.71 L381.72,447.63 L382.09,447.54 L382.45,447.46 L382.82,447.37 L383.19,447.29 L383.55,447.20 L383.92,447.12 L384.29,447.04 L384.65,446.96 L385.02,446.87 L385.39,446.79 L385.76,446.71 L386.12,446.63 L386.49,446.55 L386.86,446.47 L387.22,446.39 L387.59,446.31 L387.96,446.23 L388.33,446.15 L388.69,446.07 L389.06,445.99 L389.43,445.91 L389.80,445.83 L390.16,445.75 L390.53,445.68 L390.90,445.60 L391.27,445.52 L391.64,445.45 L392.00,445.37 L392.37,445.29 L392.74,445.22 L393.11,445.14 L393.48,445.07 L393.84,444.99 L394.21,444.92 L394.58,444.85 L394.95,444.77 L395.32,444.70 L395.68,444.63 L396.05,444.55 L396.42,444.48 L396.79,444.41 L397.16,444.34 L397.53,444.27 L397.90,444.19 L398.26,444.12 L398.63,444.05 L399.00,443.98 L399.37,443.91 L399.74,443.84 L400.11,443.78 L400.48,443.71 L400.85,443.64 L401.21,443.57 L401.58,443.50 L401.95,443.43 L402.32,443.37 L402.69,443.30 L403.06,443.23 L403.43,443.17 L403.80,443.10 L404.17,443.04 L404.54,442.97 L404.90,442.91 L405.27,442.84 L405.64,442.78 L406.01,442.71 L406.38,442.65 L406.75,442.59 L407.12,442.52 L407.49,442.46 L407.86,442.40 L408.23,442.34 L408.60,442.27 L408.97,442.21 L409.34,442.15 L409.71,442.09 L410.08,442.03 L410.44,441.97 L410.81,441.91 L411.18,441.85 L411.55,441.79 L411.92,441.73 L412.29,441.67 L412.66,441.62 L413.03,441.56 L413.40,441.50 L413.77,441.44 L414.14,441.39 L414.51,441.33 L414.88,441.27 L415.25,441.22 L415.62,441.16 L415.99,441.11 L416.36,441.05 L416.73,441.00 L417.10,440.94 L417.47,440.89 L417.84,440.83 L418.21,440.78 L418.58,440.73 L418.95,440.68 L419.32,440.62 L419.69,440.57 L420.06,440.52 L420.43,440.47 L420.80,440.42 L421.16,440.37 L421.53,440.31 L421.90,440.26 L422.27,440.21 L422.64,440.16 L423.01,440.12 L423.38,440.07 L423.75,440.02 L424.12,439.97 L424.49,439.92 L424.86,439.87 L425.23,439.83 L425.60,439.78 L425.97,439.73 L426.34,439.69 L426.71,439.64 L427.08,439.59 L427.45,439.55 L427.82,439.50 L428.19,439.46 L428.56,439.41 L428.93,439.37 L429.30,439.32 L429.67,439.28 L430.04,439.24 L430.41,439.19 L430.78,439.15 L431.15,439.11 L431.52,439.07 L431.88,439.03 L432.25,438.98 L432.62,438.94 L432.99,438.90 L433.36,438.86 L433.73,438.82 L434.10,438.78 L434.47,438.74 L434.84,438.70 L435.21,438.66 L435.58,438.63 L435.95,438.59 L436.32,438.55 L436.69,438.51 L437.06,438.47 L437.43,438.44 L437.79,438.40 L438.16,438.36 L438.53,438.33 L438.90,438.29 L439.27,438.26 L439.64,438.22 L440.01,438.19 L440.38,438.15 L440.75,438.12 L441.12,438.08 L441.48,438.05 L441.85,438.02 L442.22,437.98 L442.59,437.95 L442.96,437.92 L443.33,437.89 L443.70,437.85 L444.07,437.82 L444.43,437.79 L444.80,437.76 L445.17,437.73 L445.54,437.70 L445.91,437.67 L446.28,437.64 L446.65,437.61 L447.01,437.58 L447.38,437.55 L447.75,437.52 L448.12,437.50 L448.49,437.47 L448.85,437.44 L449.22,437.41 L449.59,437.39 L449.96,437.36 L450.33,437.33 L450.69,437.31 L451.06,437.28 L451.43,437.26 L451.80,437.23 L452.17,437.21 L452.53,437.18 L452.90,437.16 L453.27,437.14 L453.64,437.11 L454.00,437.09 L454.37,437.07 L454.74,437.04 L455.11,437.02 L455.47,437.00 L455.84,436.98 L456.21,436.96 L456.58,436.94 L456.94,436.92 L457.31,436.90 L457.68,436.88 L458.04,436.86 L458.41,436.84 L458.78,436.82 L459.14,436.80 L459.51,436.78 L459.88,436.76 L460.24,436.74 L460.61,436.73 L460.98,436.71 L461.34,436.69 L461.71,436.68 L462.08,436.66 L462.44,436.64 L462.81,436.63 L463.17,436.61 L463.54,436.60 L463.91,436.58 L464.27,436.57 L464.64,436.55 L465.00,436.54 L465.37,436.53 L465.73,436.51 L466.10,436.50 L466.46,436.49 L466.83,436.47 L467.20,436.46 L467.56,436.45 L467.93,436.44 L468.29,436.43 L468.66,436.42 L469.02,436.41 L469.39,436.40 L469.75,436.39 L470.12,436.38 L470.48,436.37 L470.84,436.36 L471.21,436.35 L471.57,436.34 L471.94,436.33 L472.30,436.33 L472.67,436.32 L473.03,436.31 L473.39,436.30 L473.76,436.30 L474.12,436.29 L474.49,436.29 L474.85,436.28 L475.21,436.27 L475.58,436.27 L475.94,436.26 L476.30,436.26 L476.67,436.26 L477.03,436.25 L477.39,436.25 L477.76,436.24 L478.12,436.24 L478.48,436.24 L478.84,436.24 L479.21,436.23 L479.57,436.23" class="cdf"/>
<path d="M489.30,433.50 L492.13,433.25 L494.95,433.01 L497.78,432.77 L500.61,432.53 L503.43,432.30 L506.26,432.08 L509.09,431.87 L511.91,431.67 L514.74,431.48 L517.57,431.30 L520.39,431.13 L523.22,430.98 L526.05,430.84 L528.87,430.71 L531.70,430.60 L534.82,430.49 L537.94,430.39 L541.06,430.29 L544.18,430.19 L547.29,430.10 L550.41,430.02 L553.53,429.94 L556.65,429.86 L559.77,429.79 L562.89,429.73 L566.01,429.66 L569.12,429.60 L572.24,429.55 L575.36,429.49 L578.48,429.45 L581.60,429.40 L584.67,429.36 L587.73,429.32 L590.80,429.28 L593.87,429.25 L596.93,429.22 L600.00,429.20" class="cdf"/>
<line x1="94.0" y1="774.3" x2="94.0" y2="768.7" class="tk"/>
<line x1="248.6" y1="774.3" x2="248.6" y2="768.7" class="tk"/>
<line x1="402.8" y1="774.3" x2="402.8" y2="768.7" class="tk"/>
<line x1="499.6" y1="774.3" x2="499.6" y2="768.7" class="tk"/>
<line x1="533.8" y1="774.3" x2="533.8" y2="768.7" class="tk"/>
<line x1="568.0" y1="774.3" x2="568.0" y2="768.7" class="tk"/>
<line x1="602.2" y1="774.3" x2="602.2" y2="768.7" class="tk"/>
<line x1="94.0" y1="774.3" x2="99.6" y2="774.3" class="tk"/>
<line x1="94.0" y1="705.1" x2="99.6" y2="705.1" class="tk"/>
<line x1="94.0" y1="636.0" x2="99.6" y2="636.0" class="tk"/>
<line x1="94.0" y1="566.8" x2="99.6" y2="566.8" class="tk"/>
<line x1="94.0" y1="497.7" x2="99.6" y2="497.7" class="tk"/>
<line x1="94.0" y1="428.5" x2="99.6" y2="428.5" class="tk"/>
<path d="M481.5,774.3 L94.0,774.3 L94.0,428.5 L620.0,428.5 L620.0,774.3 L488.5,774.3" class="frm"/>
<text x="94.0" y="797.5" text-anchor="middle" class="tl">0</text>
<text x="248.6" y="797.5" text-anchor="middle" class="tl">10</text>
<text x="402.8" y="797.5" text-anchor="middle" class="tl">20</text>
<text x="499.6" y="797.5" text-anchor="middle" class="tl">30</text>
<text x="533.8" y="797.5" text-anchor="middle" class="tl">40</text>
<text x="568.0" y="797.5" text-anchor="middle" class="tl">50</text>
<text x="602.2" y="797.5" text-anchor="middle" class="tl">60</text>
<text x="89.0" y="780.8" text-anchor="end" class="tl">0.0</text>
<text x="89.0" y="711.6" text-anchor="end" class="tl">0.2</text>
<text x="89.0" y="642.5" text-anchor="end" class="tl">0.4</text>
<text x="89.0" y="573.3" text-anchor="end" class="tl">0.6</text>
<text x="89.0" y="504.2" text-anchor="end" class="tl">0.8</text>
<text x="89.0" y="435.0" text-anchor="end" class="tl">1.0</text>
<text x="368.9" y="477.2" style="fill:#000"><tspan font-style="italic">EF</tspan> (0.99%)<tspan class="lt">＜</tspan>1</text>
<text x="334.0" y="511.5" style="fill:#000">1 ≤ <tspan font-style="italic">EF</tspan> (16.83%)<tspan class="lt">＜</tspan>2</text>
<text x="334.0" y="543.7" style="fill:#000">2 ≤ <tspan font-style="italic">EF</tspan> (34.65%)<tspan class="lt">＜</tspan>5</text>
<text x="334.0" y="575.3" style="fill:#000">5 ≤ <tspan font-style="italic">EF</tspan> (42.57%)<tspan class="lt">＜</tspan>20</text>
<text x="320.7" y="605.2" style="fill:#000">20 ≤ <tspan font-style="italic">EF</tspan> (3.96%)<tspan class="lt">＜</tspan>40</text>
<text x="368.9" y="637.8" style="fill:#000"><tspan font-style="italic">EF</tspan> (0.99%) ≥50</text>
<text x="413.8" y="679.2" style="fill:#1a1aff">Simulated:6.81</text>
<text x="415.4" y="730.7" style="fill:#36a844">Detected:6.17</text>
<text x="612.3" y="465.2" text-anchor="end" class="plab">(d)</text>
<text x="357.0" y="833.6" text-anchor="middle"><tspan font-style="italic">EF</tspan> (Cu)</text>
<text transform="translate(42.5,600.4) rotate(-90)" text-anchor="middle">Cumulative probability</text>
</g>
<g>
<rect x="749.5" y="431.6" width="29.5" height="342.9" fill="#e7e9fe"/>
<rect x="779.0" y="431.6" width="65.5" height="342.9" fill="#e5eee9"/>
<rect x="844.5" y="431.6" width="392.4" height="342.9" fill="#fee8c5"/>
<line x1="745.0" y1="430.0" x2="745.0" y2="773.0" class="dsh"/>
<line x1="779.0" y1="430.0" x2="779.0" y2="773.0" class="dsh"/>
<line x1="844.5" y1="430.0" x2="844.5" y2="773.0" class="dsh"/>
<line x1="747.5" y1="428.5" x2="747.5" y2="774.5" stroke="#5fa45f" stroke-width="1.9"/>
<line x1="750.9" y1="428.5" x2="750.9" y2="774.5" stroke="#0000ff" stroke-width="2.4"/>
<path d="M717.36,774.77 L717.85,774.51 L718.32,774.24 L718.78,773.96 L719.22,773.67 L719.65,773.38 L720.06,773.07 L720.45,772.75 L720.83,772.42 L721.20,772.09 L721.55,771.74 L721.89,771.39 L722.22,771.03 L722.53,770.66 L722.84,770.28 L723.12,769.90 L723.40,769.51 L723.67,769.11 L723.92,768.70 L724.16,768.29 L724.40,767.87 L724.62,767.45 L724.83,767.02 L725.03,766.58 L725.23,766.14 L725.41,765.69 L725.58,765.24 L725.75,764.78 L725.91,764.32 L726.06,763.85 L726.20,763.38 L726.34,762.90 L726.47,762.42 L726.59,761.94 L726.70,761.45 L726.81,760.96 L726.92,760.47 L727.01,759.97 L727.11,759.47 L727.19,758.97 L727.28,758.47 L727.35,757.96 L727.43,757.45 L727.50,756.94 L727.56,756.42 L727.62,755.91 L727.68,755.39 L727.74,754.87 L727.79,754.35 L727.84,753.83 L727.88,753.30 L727.93,752.78 L727.97,752.25 L728.01,751.72 L728.05,751.20 L728.09,750.67 L728.12,750.14 L728.16,749.61 L728.19,749.08 L728.23,748.55 L728.26,748.02 L728.30,747.49 L728.33,746.96 L728.37,746.43 L728.40,745.91 L728.44,745.38 L728.48,744.85 L728.52,744.32 L728.56,743.80 L728.60,743.27 L728.64,742.75 L728.68,742.23 L728.72,741.70 L728.76,741.18 L728.81,740.66 L728.85,740.13 L728.89,739.61 L728.94,739.09 L728.99,738.57 L729.03,738.05 L729.08,737.53 L729.13,737.01 L729.17,736.49 L729.22,735.97 L729.27,735.46 L729.32,734.94 L729.37,734.42 L729.42,733.90 L729.47,733.39 L729.52,732.87 L729.58,732.36 L729.63,731.84 L729.68,731.33 L729.73,730.81 L729.79,730.30 L729.84,729.78 L729.90,729.27 L729.95,728.76 L730.01,728.24 L730.06,727.73 L730.12,727.22 L730.17,726.71 L730.23,726.19 L730.29,725.68 L730.34,725.17 L730.40,724.66 L730.46,724.15 L730.51,723.64 L730.57,723.13 L730.63,722.62 L730.69,722.11 L730.74,721.60 L730.80,721.09 L730.86,720.58 L730.92,720.07 L730.98,719.56 L731.04,719.05 L731.10,718.54 L731.16,718.03 L731.21,717.52 L731.27,717.01 L731.33,716.51 L731.39,716.00 L731.45,715.49 L731.51,714.98 L731.57,714.47 L731.63,713.97 L731.69,713.46 L731.75,712.95 L731.81,712.44 L731.87,711.93 L731.92,711.43 L731.98,710.92 L732.04,710.41 L732.10,709.90 L732.16,709.39 L732.22,708.89 L732.27,708.38 L732.33,707.87 L732.39,707.36 L732.45,706.85 L732.50,706.35 L732.56,705.84 L732.62,705.33 L732.68,704.82 L732.73,704.31 L732.79,703.80 L732.84,703.30 L732.90,702.79 L732.95,702.28 L733.01,701.77 L733.06,701.26 L733.12,700.75 L733.17,700.24 L733.22,699.73 L733.28,699.22 L733.33,698.71 L733.38,698.20 L733.44,697.69 L733.49,697.18 L733.54,696.67 L733.59,696.16 L733.64,695.65 L733.69,695.14 L733.75,694.63 L733.80,694.12 L733.85,693.61 L733.90,693.10 L733.95,692.59 L734.00,692.08 L734.05,691.57 L734.09,691.06 L734.14,690.54 L734.19,690.03 L734.24,689.52 L734.29,689.01 L734.34,688.50 L734.38,687.99 L734.43,687.47 L734.48,686.96 L734.53,686.45 L734.57,685.94 L734.62,685.43 L734.67,684.91 L734.71,684.40 L734.76,683.89 L734.80,683.38 L734.85,682.86 L734.90,682.35 L734.94,681.84 L734.99,681.32 L735.03,680.81 L735.08,680.30 L735.12,679.78 L735.16,679.27 L735.21,678.76 L735.25,678.24 L735.30,677.73 L735.34,677.22 L735.38,676.70 L735.43,676.19 L735.47,675.68 L735.51,675.16 L735.56,674.65 L735.60,674.13 L735.64,673.62 L735.69,673.11 L735.73,672.59 L735.77,672.08 L735.81,671.56 L735.85,671.05 L735.90,670.53 L735.94,670.02 L735.98,669.50 L736.02,668.99 L736.06,668.47 L736.10,667.96 L736.15,667.44 L736.19,666.93 L736.23,666.41 L736.27,665.90 L736.31,665.38 L736.35,664.87 L736.39,664.35 L736.43,663.84 L736.47,663.32 L736.51,662.81 L736.55,662.29 L736.59,661.78 L736.63,661.26 L736.67,660.75 L736.71,660.23 L736.75,659.71 L736.79,659.20 L736.83,658.68 L736.87,658.17 L736.91,657.65 L736.95,657.14 L736.99,656.62 L737.03,656.10 L737.07,655.59 L737.11,655.07 L737.15,654.56 L737.19,654.04 L737.23,653.52 L737.27,653.01 L737.31,652.49 L737.35,651.97 L737.39,651.46 L737.43,650.94 L737.47,650.42 L737.51,649.91 L737.55,649.39 L737.59,648.88 L737.63,648.36 L737.66,647.84 L737.70,647.33 L737.74,646.81 L737.78,646.29 L737.82,645.78 L737.86,645.26 L737.90,644.74 L737.94,644.23 L737.98,643.71 L738.02,643.19 L738.06,642.68 L738.10,642.16 L738.14,641.64 L738.18,641.13 L738.22,640.61 L738.26,640.09 L738.30,639.57 L738.34,639.06 L738.38,638.54 L738.42,638.02 L738.46,637.51 L738.50,636.99 L738.54,636.47 L738.58,635.96 L738.62,635.44 L738.66,634.92 L738.70,634.41 L738.74,633.89 L738.79,633.37 L738.83,632.85 L738.87,632.34 L738.91,631.82 L738.95,631.30 L738.99,630.79 L739.03,630.27 L739.07,629.75 L739.12,629.24 L739.16,628.72 L739.20,628.20 L739.24,627.69 L739.29,627.17 L739.33,626.65 L739.37,626.14 L739.41,625.62 L739.46,625.10 L739.50,624.58 L739.54,624.07 L739.58,623.55 L739.63,623.03 L739.67,622.52 L739.72,622.00 L739.76,621.48 L739.80,620.97 L739.85,620.45 L739.89,619.93 L739.94,619.42 L739.98,618.90 L740.03,618.38 L740.07,617.87 L740.12,617.35 L740.16,616.83 L740.21,616.32 L740.25,615.80 L740.30,615.28 L740.35,614.77 L740.39,614.25 L740.44,613.74 L740.49,613.22 L740.53,612.70 L740.58,612.19 L740.63,611.67 L740.67,611.15 L740.72,610.64 L740.77,610.12 L740.82,609.61 L740.87,609.09 L740.92,608.57 L740.97,608.06 L741.01,607.54 L741.06,607.03 L741.11,606.51 L741.16,605.99 L741.21,605.48 L741.26,604.96 L741.32,604.45 L741.37,603.93 L741.42,603.42 L741.47,602.90 L741.52,602.39 L741.57,601.87 L741.63,601.35 L741.68,600.84 L741.73,600.32 L741.79,599.81 L741.84,599.29 L741.89,598.78 L741.95,598.26 L742.00,597.75 L742.06,597.23 L742.11,596.72 L742.17,596.20 L742.22,595.69 L742.28,595.18 L742.33,594.66 L742.39,594.15 L742.45,593.63 L742.50,593.12 L742.56,592.60 L742.62,592.09 L742.68,591.57 L742.74,591.06 L742.80,590.55 L742.85,590.03 L742.91,589.52 L742.97,589.00 L743.03,588.49 L743.10,587.98 L743.16,587.46 L743.22,586.95 L743.28,586.44 L743.34,585.92 L743.40,585.41 L743.47,584.90 L743.53,584.38 L743.59,583.87 L743.66,583.36 L743.72,582.85 L743.79,582.33 L743.85,581.82 L743.92,581.31 L743.98,580.79 L744.05,580.28 L744.12,579.77 L744.18,579.26 L744.25,578.75 L744.32,578.23 L744.39,577.72 L744.46,577.21 L744.52,576.70 L744.59,576.19 L744.66,575.67 L744.73,575.16 L744.81,574.65 L744.88,574.14 L744.95,573.63 L745.02,573.12 L745.09,572.61 L745.17,572.10 L745.24,571.59 L745.31,571.07 L745.39,570.56 L745.46,570.05 L745.54,569.54 L745.61,569.03 L745.69,568.52 L745.77,568.01 L745.84,567.50 L745.92,566.99 L746.00,566.48 L746.08,565.97 L746.16,565.46 L746.24,564.95 L746.32,564.45 L746.40,563.94 L746.48,563.43 L746.56,562.92 L746.64,562.41 L746.72,561.90 L746.81,561.39 L746.89,560.88 L746.98,560.38 L747.06,559.87 L747.15,559.36 L747.23,558.85 L747.32,558.34 L747.40,557.84 L747.49,557.33 L747.58,556.82 L747.67,556.31 L747.76,555.81 L747.85,555.30 L747.94,554.79 L748.03,554.29 L748.12,553.78 L748.21,553.27 L748.30,552.77 L748.39,552.26 L748.49,551.75 L748.58,551.25 L748.68,550.74 L748.77,550.24 L748.87,549.73 L748.96,549.23 L749.06,548.72 L749.16,548.22 L749.25,547.71 L749.35,547.21 L749.45,546.70 L749.55,546.20 L749.65,545.69 L749.75,545.19 L749.85,544.68 L749.96,544.18 L750.06,543.68 L750.16,543.17 L750.27,542.67 L750.37,542.17 L750.48,541.66 L750.58,541.16 L750.69,540.66 L750.79,540.16 L750.90,539.65 L751.01,539.15 L751.12,538.65 L751.23,538.15 L751.34,537.64 L751.45,537.14 L751.56,536.64 L751.67,536.14 L751.79,535.64 L751.90,535.14 L752.02,534.64 L752.13,534.14 L752.25,533.64 L752.36,533.14 L752.48,532.63 L752.60,532.13 L752.71,531.64 L752.83,531.14 L752.95,530.64 L753.07,530.14 L753.19,529.64 L753.32,529.14 L753.44,528.64 L753.56,528.14 L753.69,527.64 L753.81,527.14 L753.94,526.65 L754.06,526.15 L754.19,525.65 L754.32,525.15 L754.44,524.66 L754.57,524.16 L754.70,523.66 L754.83,523.17 L754.96,522.67 L755.10,522.17 L755.23,521.68 L755.36,521.18 L755.50,520.68 L755.63,520.19 L755.77,519.69 L755.90,519.20 L756.04,518.70 L756.18,518.21 L756.32,517.71 L756.45,517.22 L756.59,516.72 L756.74,516.23 L756.88,515.74 L757.02,515.24 L757.16,514.75 L757.31,514.26 L757.45,513.76 L757.60,513.27 L757.74,512.78 L757.89,512.29 L758.04,511.79 L758.19,511.30 L758.34,510.81 L758.49,510.32 L758.64,509.83 L758.79,509.34 L758.94,508.84 L759.10,508.35 L759.25,507.86 L759.41,507.37 L759.56,506.88 L759.72,506.39 L759.88,505.90 L760.04,505.41 L760.20,504.92 L760.36,504.44 L760.52,503.95 L760.68,503.46 L760.84,502.97 L761.01,502.48 L761.17,501.99 L761.34,501.51 L761.50,501.02 L761.67,500.53 L761.84,500.05 L762.01,499.56 L762.18,499.07 L762.35,498.59 L762.52,498.10 L762.69,497.61 L762.87,497.13 L763.04,496.64 L763.22,496.16 L763.39,495.67 L763.57,495.19 L763.75,494.70 L763.93,494.22 L764.11,493.74 L764.29,493.25 L764.47,492.77 L764.65,492.29 L764.83,491.80 L765.02,491.32 L765.20,490.84 L765.39,490.36 L765.58,489.87 L765.77,489.39 L765.95,488.91 L766.14,488.43 L766.34,487.95 L766.53,487.47 L766.72,486.99 L766.92,486.51 L767.11,486.03 L767.31,485.55 L767.51,485.07 L767.70,484.60 L767.91,484.12 L768.11,483.64 L768.31,483.17 L768.52,482.69 L768.72,482.22 L768.93,481.74 L769.14,481.27 L769.35,480.80 L769.56,480.33 L769.78,479.86 L769.99,479.39 L770.21,478.92 L770.43,478.46 L770.65,477.99 L770.87,477.53 L771.10,477.06 L771.32,476.60 L771.55,476.14 L771.78,475.68 L772.02,475.22 L772.25,474.76 L772.49,474.31 L772.73,473.85 L772.97,473.40 L773.21,472.95 L773.45,472.50 L773.70,472.05 L773.95,471.60 L774.20,471.15 L774.46,470.71 L774.72,470.27 L774.97,469.83 L775.24,469.39 L775.50,468.95 L775.77,468.52 L776.04,468.08 L776.31,467.65 L776.58,467.22 L776.86,466.79 L777.14,466.37 L777.43,465.94 L777.71,465.52 L778.00,465.10 L778.29,464.68 L778.59,464.27 L778.88,463.85 L779.18,463.44 L779.49,463.03 L779.79,462.62 L780.10,462.22 L780.41,461.82 L780.73,461.42 L781.05,461.02 L781.37,460.63 L781.70,460.23 L782.03,459.84 L782.36,459.46 L782.69,459.07 L783.03,458.69 L783.38,458.31 L783.72,457.93 L784.07,457.56 L784.42,457.19 L784.78,456.82 L785.14,456.45 L785.50,456.09 L785.87,455.73 L786.24,455.37 L786.62,455.02 L787.00,454.67 L787.38,454.32 L787.77,453.97 L788.16,453.63 L788.55,453.29 L788.95,452.96 L789.35,452.62 L789.75,452.29 L790.16,451.97 L790.57,451.64 L790.99,451.32 L791.40,451.00 L791.82,450.69 L792.25,450.38 L792.67,450.07 L793.10,449.76 L793.53,449.46 L793.97,449.16 L794.41,448.87 L794.85,448.57 L795.29,448.28 L795.73,448.00 L796.18,447.71 L796.63,447.43 L797.08,447.16 L797.54,446.88 L797.99,446.61 L798.45,446.34 L798.91,446.08 L799.37,445.82 L799.84,445.56 L800.30,445.30 L800.77,445.05 L801.24,444.80 L801.71,444.55 L802.18,444.31 L802.65,444.07 L803.13,443.84 L803.60,443.60 L804.08,443.37 L804.56,443.15 L805.04,442.92 L805.52,442.70 L806.00,442.48 L806.48,442.27 L806.97,442.06 L807.45,441.85 L807.93,441.65 L808.42,441.45 L808.90,441.25 L809.39,441.05 L809.88,440.86 L810.36,440.67 L810.85,440.49 L811.34,440.31 L811.83,440.13 L812.32,439.95 L812.81,439.78 L813.30,439.61 L813.79,439.44 L814.28,439.28 L814.77,439.11 L815.26,438.96 L815.76,438.80 L816.25,438.65 L816.74,438.50 L817.24,438.35 L817.73,438.20 L818.22,438.06 L818.72,437.92 L819.22,437.79 L819.71,437.65 L820.21,437.52 L820.71,437.39 L821.20,437.26 L821.70,437.14 L822.20,437.02 L822.70,436.90 L823.20,436.78 L823.70,436.67 L824.20,436.56 L824.70,436.45 L825.20,436.34 L825.70,436.23 L826.20,436.13 L826.70,436.03 L827.20,435.93 L827.70,435.84 L828.21,435.74 L828.71,435.65 L829.21,435.56 L829.72,435.47 L830.22,435.39 L830.73,435.30 L831.23,435.22 L831.74,435.14 L832.24,435.06 L832.75,434.99 L833.25,434.91 L833.76,434.84 L834.27,434.77 L834.77,434.70 L835.28,434.63 L835.79,434.57 L836.30,434.50 L836.81,434.44 L837.31,434.38 L837.82,434.32 L838.33,434.27 L838.84,434.21 L839.35,434.16 L839.86,434.10 L840.37,434.05 L840.88,434.00 L841.39,433.95 L841.90,433.91 L842.41,433.86 L842.92,433.82 L843.43,433.77 L843.95,433.73 L844.46,433.69 L844.97,433.65 L845.48,433.61 L845.99,433.58 L846.51,433.54 L847.02,433.51 L847.53,433.47 L848.04,433.44 L848.56,433.41 L849.07,433.38 L849.58,433.35 L850.10,433.32 L850.61,433.29 L851.13,433.27 L851.64,433.24 L852.15,433.22 L852.67,433.19 L853.18,433.17 L853.70,433.15 L854.21,433.12 L854.73,433.10 L855.24,433.08 L855.76,433.06 L856.27,433.04 L856.79,433.02 L857.30,433.00 L857.82,432.99 L858.33,432.97 L858.85,432.95 L859.36,432.94 L859.88,432.92 L860.39,432.91 L860.91,432.89 L861.43,432.88 L861.94,432.86 L862.46,432.85 L862.97,432.83 L863.49,432.82 L864.01,432.81 L864.52,432.79 L865.04,432.78 L865.55,432.77 L866.07,432.75 L866.59,432.74 L867.10,432.73 L867.62,432.71 L868.13,432.70 L868.65,432.69 L869.17,432.68 L869.68,432.66 L870.20,432.65 L870.71,432.64 L871.23,432.62 L871.75,432.61 L872.26,432.60 L872.78,432.59 L873.29,432.57 L873.81,432.56 L874.33,432.55 L874.84,432.54 L875.36,432.53 L875.87,432.51 L876.39,432.50 L876.91,432.49 L877.42,432.48 L877.94,432.46 L878.45,432.45 L878.97,432.44 L879.49,432.43 L880.00,432.42 L880.52,432.40 L881.03,432.39 L881.55,432.38 L882.07,432.37 L882.58,432.36 L883.10,432.35 L883.61,432.33 L884.13,432.32 L884.65,432.31 L885.16,432.30 L885.68,432.29 L886.20,432.28 L886.71,432.27 L887.23,432.25 L887.74,432.24 L888.26,432.23 L888.78,432.22 L889.29,432.21 L889.81,432.20 L890.32,432.19 L890.84,432.18 L891.36,432.17 L891.87,432.15 L892.39,432.14 L892.90,432.13 L893.42,432.12 L893.94,432.11 L894.45,432.10 L894.97,432.09 L895.48,432.08 L896.00,432.07 L896.52,432.06 L897.03,432.05 L897.55,432.04 L898.06,432.03 L898.58,432.02 L899.10,432.01 L899.61,432.00 L900.13,431.99 L900.64,431.97 L901.16,431.96 L901.68,431.95 L902.19,431.94 L902.71,431.93 L903.22,431.92 L903.74,431.91 L904.26,431.90 L904.77,431.89 L905.29,431.88 L905.80,431.87 L906.32,431.86 L906.84,431.85 L907.35,431.84 L907.87,431.83 L908.38,431.83 L908.90,431.82 L909.42,431.81 L909.93,431.80 L910.45,431.79 L910.96,431.78 L911.48,431.77 L912.00,431.76 L912.51,431.75 L913.03,431.74 L913.54,431.73 L914.06,431.72 L914.58,431.71 L915.09,431.70 L915.61,431.69 L916.12,431.68 L916.64,431.67 L917.16,431.67 L917.67,431.66 L918.19,431.65 L918.70,431.64 L919.22,431.63 L919.74,431.62 L920.25,431.61 L920.77,431.60 L921.28,431.59 L921.80,431.59 L922.32,431.58 L922.83,431.57 L923.35,431.56 L923.87,431.55 L924.38,431.54 L924.90,431.53 L925.41,431.52 L925.93,431.52 L926.45,431.51 L926.96,431.50 L927.48,431.49 L927.99,431.48 L928.51,431.47 L929.03,431.47 L929.54,431.46 L930.06,431.45 L930.57,431.44 L931.09,431.43 L931.61,431.42 L932.12,431.42 L932.64,431.41 L933.15,431.40 L933.67,431.39 L934.19,431.38 L934.70,431.38 L935.22,431.37 L935.73,431.36 L936.25,431.35 L936.77,431.34 L937.28,431.34 L937.80,431.33 L938.31,431.32 L938.83,431.31 L939.35,431.31 L939.86,431.30 L940.38,431.29 L940.89,431.28 L941.41,431.28 L941.93,431.27 L942.44,431.26 L942.96,431.25 L943.47,431.25 L943.99,431.24 L944.51,431.23 L945.02,431.22 L945.54,431.22 L946.05,431.21 L946.57,431.20 L947.09,431.19 L947.60,431.19 L948.12,431.18 L948.63,431.17 L949.15,431.17 L949.67,431.16 L950.18,431.15 L950.70,431.14 L951.21,431.14 L951.73,431.13 L952.25,431.12 L952.76,431.12 L953.28,431.11 L953.79,431.10 L954.31,431.10 L954.83,431.09 L955.34,431.08 L955.86,431.08 L956.37,431.07 L956.89,431.06 L957.41,431.06 L957.92,431.05 L958.44,431.04 L958.95,431.04 L959.47,431.03 L959.99,431.02 L960.50,431.02 L961.02,431.01 L961.54,431.00 L962.05,431.00 L962.57,430.99 L963.08,430.98 L963.60,430.98 L964.12,430.97 L964.63,430.97 L965.15,430.96 L965.66,430.95 L966.18,430.95 L966.70,430.94 L967.21,430.93 L967.73,430.93 L968.24,430.92 L968.76,430.92 L969.28,430.91 L969.79,430.90 L970.31,430.90 L970.82,430.89 L971.34,430.89 L971.86,430.88 L972.37,430.87 L972.89,430.87 L973.40,430.86 L973.92,430.86 L974.44,430.85 L974.95,430.85 L975.47,430.84 L975.98,430.83 L976.50,430.83 L977.02,430.82 L977.53,430.82 L978.05,430.81 L978.56,430.81 L979.08,430.80 L979.60,430.79 L980.11,430.79 L980.63,430.78 L981.14,430.78 L981.66,430.77 L982.18,430.77 L982.69,430.76 L983.21,430.76 L983.72,430.75 L984.24,430.75 L984.76,430.74 L985.27,430.74 L985.79,430.73 L986.30,430.72 L986.82,430.72 L987.34,430.71 L987.85,430.71 L988.37,430.70 L988.88,430.70 L989.40,430.69 L989.92,430.69 L990.43,430.68 L990.95,430.68 L991.46,430.67 L991.98,430.67 L992.50,430.66 L993.01,430.66 L993.53,430.65 L994.04,430.65 L994.56,430.64 L995.08,430.64 L995.59,430.63 L996.11,430.63 L996.62,430.62 L997.14,430.62 L997.66,430.61 L998.17,430.61 L998.69,430.61 L999.20,430.60 L999.72,430.60 L1000.24,430.59 L1000.75,430.59 L1001.27,430.58 L1001.78,430.58 L1002.30,430.57 L1002.82,430.57 L1003.33,430.56 L1003.85,430.56 L1004.36,430.55 L1004.88,430.55 L1005.40,430.55 L1005.91,430.54 L1006.43,430.54 L1006.95,430.53 L1007.46,430.53 L1007.98,430.52 L1008.49,430.52 L1009.01,430.51 L1009.53,430.51 L1010.04,430.51 L1010.56,430.50 L1011.07,430.50 L1011.59,430.49 L1012.11,430.49 L1012.62,430.48 L1013.14,430.48 L1013.65,430.48 L1014.17,430.47 L1014.69,430.47 L1015.20,430.46 L1015.72,430.46 L1016.23,430.45 L1016.75,430.45 L1017.27,430.45 L1017.78,430.44 L1018.30,430.44 L1018.81,430.43 L1019.33,430.43 L1019.85,430.43 L1020.36,430.42 L1020.88,430.42 L1021.39,430.41 L1021.91,430.41 L1022.43,430.41 L1022.94,430.40 L1023.46,430.40 L1023.97,430.39 L1024.49,430.39 L1025.01,430.39 L1025.52,430.38 L1026.04,430.38 L1026.55,430.38 L1027.07,430.37 L1027.59,430.37 L1028.10,430.36 L1028.62,430.36 L1029.13,430.36 L1029.65,430.35 L1030.17,430.35 L1030.68,430.35 L1031.20,430.34 L1031.71,430.34 L1032.23,430.33 L1032.75,430.33 L1033.26,430.33 L1033.78,430.32 L1034.29,430.32 L1034.81,430.32 L1035.33,430.31 L1035.84,430.31 L1036.36,430.31 L1036.87,430.30 L1037.39,430.30 L1037.91,430.30 L1038.42,430.29 L1038.94,430.29 L1039.45,430.29 L1039.97,430.28 L1040.49,430.28 L1041.00,430.27 L1041.52,430.27 L1042.03,430.27 L1042.55,430.26 L1043.07,430.26 L1043.58,430.26 L1044.10,430.25 L1044.61,430.25 L1045.13,430.25 L1045.65,430.24 L1046.16,430.24 L1046.68,430.24 L1047.19,430.23 L1047.71,430.23 L1048.23,430.23 L1048.74,430.22 L1049.26,430.22 L1049.77,430.22 L1050.29,430.21 L1050.81,430.21 L1051.32,430.21 L1051.84,430.21 L1052.35,430.20 L1052.87,430.20 L1053.39,430.20 L1053.90,430.19 L1054.42,430.19 L1054.93,430.19 L1055.45,430.18 L1055.97,430.18 L1056.48,430.18 L1057.00,430.17 L1057.51,430.17 L1058.03,430.17 L1058.55,430.16 L1059.06,430.16 L1059.58,430.16 L1060.09,430.16 L1060.61,430.15 L1061.13,430.15 L1061.64,430.15 L1062.16,430.14 L1062.67,430.14 L1063.19,430.14 L1063.71,430.13 L1064.22,430.13 L1064.74,430.13 L1065.25,430.13 L1065.77,430.12 L1066.29,430.12 L1066.80,430.12 L1067.32,430.11 L1067.83,430.11 L1068.35,430.11 L1068.87,430.10 L1069.38,430.10 L1069.90,430.10 L1070.41,430.10 L1070.93,430.09 L1071.45,430.09 L1071.96,430.09 L1072.48,430.08 L1072.99,430.08 L1073.51,430.08 L1074.03,430.08 L1074.54,430.07 L1075.06,430.07 L1075.57,430.07 L1076.09,430.06 L1076.61,430.06 L1077.12,430.06 L1077.64,430.06 L1078.15,430.05 L1078.67,430.05 L1079.19,430.05 L1079.70,430.04 L1080.22,430.04 L1080.73,430.04 L1081.25,430.04 L1081.77,430.03 L1082.28,430.03 L1082.80,430.03 L1083.31,430.03 L1083.83,430.02 L1084.35,430.02 L1084.86,430.02 L1085.38,430.01 L1085.89,430.01 L1086.41,430.01 L1086.93,430.01 L1087.44,430.00 L1087.96,430.00 L1088.47,430.00 L1088.99,429.99 L1089.51,429.99 L1090.02,429.99 L1090.54,429.99 L1091.05,429.98 L1091.57,429.98 L1092.09,429.98 L1092.60,429.98 L1093.12,429.97 L1093.63,429.97 L1094.15,429.97 L1094.67,429.97 L1095.18,429.96 L1095.70,429.96 L1096.21,429.96 L1096.73,429.95 L1097.25,429.95 L1097.76,429.95 L1098.28,429.95 L1098.79,429.94 L1099.31,429.94 L1099.83,429.94 L1100.34,429.94 L1100.86,429.93 L1101.37,429.93 L1101.89,429.93 L1102.41,429.92 L1102.92,429.92 L1103.44,429.92 L1103.95,429.92 L1104.47,429.91 L1104.99,429.91 L1105.50,429.91 L1106.02,429.91 L1106.53,429.90 L1107.05,429.90 L1107.57,429.90 L1108.08,429.90 L1108.60,429.89 L1109.11,429.89 L1109.63,429.89 L1110.15,429.88 L1110.66,429.88 L1111.18,429.88 L1111.69,429.88 L1112.21,429.87 L1112.73,429.87 L1113.24,429.87 L1113.76,429.87 L1114.27,429.86 L1114.79,429.86 L1115.31,429.86 L1115.82,429.86 L1116.34,429.85 L1116.85,429.85 L1117.37,429.85 L1117.89,429.84 L1118.40,429.84 L1118.92,429.84 L1119.43,429.84 L1119.95,429.83 L1120.47,429.83 L1120.98,429.83 L1121.50,429.83 L1122.01,429.82 L1122.53,429.82 L1123.05,429.82 L1123.56,429.81 L1124.08,429.81 L1124.59,429.81 L1125.11,429.81 L1125.63,429.80 L1126.14,429.80 L1126.66,429.80 L1127.17,429.80 L1127.69,429.79 L1128.21,429.79 L1128.72,429.79 L1129.24,429.78 L1129.75,429.78 L1130.27,429.78 L1130.79,429.78 L1131.30,429.77 L1131.82,429.77 L1132.33,429.77 L1132.85,429.76 L1133.37,429.76 L1133.88,429.76 L1134.40,429.76 L1134.91,429.75 L1135.43,429.75 L1135.95,429.75 L1136.46,429.74 L1136.98,429.74 L1137.49,429.74 L1138.01,429.74 L1138.53,429.73 L1139.04,429.73 L1139.56,429.73 L1140.07,429.72 L1140.59,429.72 L1141.11,429.72 L1141.62,429.72 L1142.14,429.71 L1142.65,429.71 L1143.17,429.71 L1143.69,429.70 L1144.20,429.70 L1144.72,429.70 L1145.23,429.70 L1145.75,429.69 L1146.27,429.69 L1146.78,429.69 L1147.30,429.68 L1147.81,429.68 L1148.33,429.68 L1148.85,429.67 L1149.36,429.67 L1149.88,429.67 L1150.39,429.67 L1150.91,429.66 L1151.43,429.66 L1151.94,429.66 L1152.46,429.65 L1152.97,429.65 L1153.49,429.65 L1154.01,429.64 L1154.52,429.64 L1155.04,429.64 L1155.55,429.63 L1156.07,429.63 L1156.59,429.63 L1157.10,429.63 L1157.62,429.62 L1158.13,429.62 L1158.65,429.62 L1159.17,429.61 L1159.68,429.61 L1160.20,429.61 L1160.71,429.60 L1161.23,429.60 L1161.75,429.60 L1162.26,429.59 L1162.78,429.59 L1163.29,429.59 L1163.81,429.58 L1164.33,429.58 L1164.84,429.58 L1165.36,429.57 L1165.87,429.57 L1166.39,429.57 L1166.91,429.56 L1167.42,429.56 L1167.94,429.56 L1168.45,429.55 L1168.97,429.55 L1169.49,429.55 L1170.00,429.54 L1170.52,429.54 L1171.03,429.54 L1171.55,429.53 L1172.07,429.53 L1172.58,429.53 L1173.10,429.52 L1173.61,429.52 L1174.13,429.52 L1174.65,429.51 L1175.16,429.51 L1175.68,429.50 L1176.19,429.50 L1176.71,429.50 L1177.22,429.49 L1177.74,429.49 L1178.26,429.49 L1178.77,429.48 L1179.29,429.48 L1179.80,429.48 L1180.32,429.47 L1180.84,429.47 L1181.35,429.46 L1181.87,429.46 L1182.38,429.46 L1182.90,429.45 L1183.42,429.45 L1183.93,429.45 L1184.45,429.44 L1184.96,429.44 L1185.48,429.43 L1186.00,429.43 L1186.51,429.43 L1187.03,429.42 L1187.54,429.42 L1188.06,429.41 L1188.58,429.41 L1189.09,429.41 L1189.61,429.40 L1190.12,429.40 L1190.64,429.40 L1191.16,429.39 L1191.67,429.39 L1192.19,429.38 L1192.70,429.38 L1193.22,429.38 L1193.74,429.37 L1194.25,429.37 L1194.77,429.36 L1195.28,429.36 L1195.80,429.35 L1196.32,429.35 L1196.83,429.35 L1197.35,429.34 L1197.86,429.34 L1198.38,429.33 L1198.90,429.33 L1199.41,429.33 L1199.93,429.32 L1200.44,429.32 L1200.96,429.31 L1201.48,429.31 L1201.99,429.30 L1202.51,429.30 L1203.02,429.29 L1203.54,429.29 L1204.06,429.29 L1204.57,429.28 L1205.09,429.28 L1205.60,429.27 L1206.12,429.27 L1206.63,429.26 L1207.15,429.26 L1207.67,429.25 L1208.18,429.25 L1208.70,429.25 L1209.21,429.24 L1209.73,429.24 L1210.25,429.23 L1210.76,429.23 L1211.28,429.22 L1211.79,429.22 L1212.31,429.21 L1212.83,429.21 L1213.34,429.20 L1213.86,429.20 L1214.37,429.19 L1214.89,429.19 L1215.41,429.18 L1215.92,429.18 L1216.44,429.17 L1216.95,429.17 L1217.47,429.16 L1217.99,429.16 L1218.50,429.15 L1219.02,429.15 L1219.53,429.14 L1220.05,429.14 L1220.57,429.13 L1221.08,429.13 L1221.60,429.12" class="cdf"/>
<line x1="714.0" y1="774.5" x2="714.0" y2="768.9" class="tk"/>
<line x1="845.5" y1="774.5" x2="845.5" y2="768.9" class="tk"/>
<line x1="977.0" y1="774.5" x2="977.0" y2="768.9" class="tk"/>
<line x1="1108.5" y1="774.5" x2="1108.5" y2="768.9" class="tk"/>
<line x1="1240.0" y1="774.5" x2="1240.0" y2="768.9" class="tk"/>
<line x1="714.0" y1="774.5" x2="719.6" y2="774.5" class="tk"/>
<line x1="714.0" y1="705.3" x2="719.6" y2="705.3" class="tk"/>
<line x1="714.0" y1="636.1" x2="719.6" y2="636.1" class="tk"/>
<line x1="714.0" y1="566.9" x2="719.6" y2="566.9" class="tk"/>
<line x1="714.0" y1="497.7" x2="719.6" y2="497.7" class="tk"/>
<line x1="714.0" y1="428.5" x2="719.6" y2="428.5" class="tk"/>
<rect x="714.0" y="428.5" width="526.0" height="346.0" class="frm"/>
<text x="714.0" y="797.7" text-anchor="middle" class="tl">0</text>
<text x="845.5" y="797.7" text-anchor="middle" class="tl">5</text>
<text x="977.0" y="797.7" text-anchor="middle" class="tl">10</text>
<text x="1108.5" y="797.7" text-anchor="middle" class="tl">15</text>
<text x="1240.0" y="797.7" text-anchor="middle" class="tl">20</text>
<text x="709.0" y="781.0" text-anchor="end" class="tl">0.0</text>
<text x="709.0" y="711.8" text-anchor="end" class="tl">0.2</text>
<text x="709.0" y="642.6" text-anchor="end" class="tl">0.4</text>
<text x="709.0" y="573.4" text-anchor="end" class="tl">0.6</text>
<text x="709.0" y="504.2" text-anchor="end" class="tl">0.8</text>
<text x="709.0" y="435.0" text-anchor="end" class="tl">1.0</text>
<text x="1058.0" y="512.8" style="fill:#000"><tspan font-style="italic">EF</tspan> (45.54%)<tspan class="lt">＜</tspan>1</text>
<text x="1022.2" y="547.7" style="fill:#000">1 ≤ <tspan font-style="italic">EF</tspan> (38.61%)<tspan class="lt">＜</tspan>2</text>
<text x="1022.2" y="579.6" style="fill:#000">2 ≤ <tspan font-style="italic">EF</tspan> (13.86%)<tspan class="lt">＜</tspan>5</text>
<text x="1023.8" y="610.2" style="fill:#000">5 ≤ <tspan font-style="italic">EF</tspan> (1.98%)<tspan class="lt">＜</tspan>20</text>
<text x="1046.1" y="678.2" style="fill:#1a1aff">Simulated:1.37</text>
<text x="1048.1" y="731.4" style="fill:#36a844">Detected:1.31</text>
<text x="1231.7" y="465.2" text-anchor="end" class="plab">(e)</text>
<text x="977.0" y="833.3" text-anchor="middle"><tspan font-style="italic">EF</tspan> (Hg)</text>
<text transform="translate(662.5,600.5) rotate(-90)" text-anchor="middle">Cumulative probability</text>
</g>
<g>
<rect x="1356.8" y="431.4" width="27.0" height="341.8" fill="#e7e9fe"/>
<rect x="1383.8" y="431.4" width="54.3" height="341.8" fill="#e5eee9"/>
<rect x="1438.1" y="431.4" width="315.7" height="341.8" fill="#fee8c5"/>
<rect x="1753.8" y="431.4" width="102.1" height="341.8" fill="#fde4e4"/>
<line x1="1356.8" y1="429.8" x2="1356.8" y2="771.7" class="dsh"/>
<line x1="1383.8" y1="429.8" x2="1383.8" y2="771.7" class="dsh"/>
<line x1="1438.1" y1="429.8" x2="1438.1" y2="771.7" class="dsh"/>
<line x1="1753.8" y1="429.8" x2="1753.8" y2="771.7" class="dsh"/>
<line x1="1402.9" y1="428.3" x2="1402.9" y2="773.2" stroke="#44aa48" stroke-width="2.5"/>
<line x1="1406.2" y1="428.3" x2="1406.2" y2="773.2" stroke="#0000ff" stroke-width="2.8"/>
<path d="M1343.17,774.03 L1343.60,773.81 L1344.02,773.58 L1344.42,773.34 L1344.82,773.10 L1345.20,772.84 L1345.57,772.58 L1345.93,772.31 L1346.28,772.03 L1346.62,771.74 L1346.95,771.45 L1347.27,771.14 L1347.58,770.84 L1347.88,770.52 L1348.17,770.20 L1348.45,769.87 L1348.72,769.53 L1348.98,769.19 L1349.23,768.84 L1349.48,768.48 L1349.71,768.12 L1349.94,767.75 L1350.16,767.37 L1350.38,766.99 L1350.58,766.61 L1350.78,766.22 L1350.97,765.82 L1351.15,765.42 L1351.33,765.02 L1351.50,764.61 L1351.67,764.19 L1351.83,763.77 L1351.98,763.35 L1352.13,762.92 L1352.27,762.49 L1352.40,762.05 L1352.54,761.61 L1352.66,761.17 L1352.79,760.72 L1352.90,760.27 L1353.02,759.82 L1353.13,759.36 L1353.23,758.90 L1353.34,758.44 L1353.44,757.98 L1353.53,757.51 L1353.62,757.04 L1353.71,756.57 L1353.80,756.10 L1353.89,755.62 L1353.97,755.14 L1354.05,754.67 L1354.13,754.19 L1354.21,753.71 L1354.29,753.22 L1354.37,752.74 L1354.44,752.26 L1354.52,751.77 L1354.59,751.29 L1354.66,750.81 L1354.74,750.32 L1354.81,749.84 L1354.89,749.35 L1354.96,748.87 L1355.04,748.38 L1355.12,747.90 L1355.19,747.41 L1355.27,746.93 L1355.35,746.45 L1355.43,745.97 L1355.51,745.48 L1355.59,745.00 L1355.68,744.52 L1355.76,744.04 L1355.84,743.56 L1355.93,743.08 L1356.01,742.60 L1356.10,742.12 L1356.18,741.64 L1356.27,741.16 L1356.36,740.68 L1356.45,740.21 L1356.53,739.73 L1356.62,739.25 L1356.71,738.77 L1356.80,738.30 L1356.90,737.82 L1356.99,737.34 L1357.08,736.87 L1357.17,736.39 L1357.27,735.91 L1357.36,735.44 L1357.45,734.96 L1357.55,734.49 L1357.64,734.01 L1357.74,733.54 L1357.84,733.06 L1357.93,732.59 L1358.03,732.12 L1358.13,731.64 L1358.23,731.17 L1358.32,730.70 L1358.42,730.22 L1358.52,729.75 L1358.62,729.28 L1358.72,728.80 L1358.82,728.33 L1358.92,727.86 L1359.03,727.39 L1359.13,726.92 L1359.23,726.44 L1359.33,725.97 L1359.43,725.50 L1359.54,725.03 L1359.64,724.56 L1359.74,724.09 L1359.85,723.62 L1359.95,723.15 L1360.06,722.68 L1360.16,722.21 L1360.27,721.74 L1360.37,721.26 L1360.48,720.79 L1360.58,720.32 L1360.69,719.85 L1360.79,719.38 L1360.90,718.91 L1361.01,718.44 L1361.11,717.97 L1361.22,717.50 L1361.33,717.04 L1361.43,716.57 L1361.54,716.10 L1361.65,715.63 L1361.75,715.16 L1361.86,714.69 L1361.97,714.22 L1362.08,713.75 L1362.18,713.28 L1362.29,712.81 L1362.40,712.34 L1362.51,711.87 L1362.61,711.40 L1362.72,710.93 L1362.83,710.46 L1362.94,709.99 L1363.05,709.52 L1363.15,709.05 L1363.26,708.58 L1363.37,708.11 L1363.48,707.64 L1363.58,707.17 L1363.69,706.70 L1363.80,706.23 L1363.91,705.76 L1364.01,705.29 L1364.12,704.82 L1364.23,704.35 L1364.33,703.88 L1364.44,703.41 L1364.55,702.94 L1364.65,702.47 L1364.76,702.00 L1364.87,701.53 L1364.97,701.06 L1365.08,700.58 L1365.18,700.11 L1365.29,699.64 L1365.39,699.17 L1365.50,698.70 L1365.60,698.23 L1365.71,697.75 L1365.81,697.28 L1365.92,696.81 L1366.02,696.34 L1366.12,695.86 L1366.23,695.39 L1366.33,694.92 L1366.43,694.45 L1366.54,693.97 L1366.64,693.50 L1366.74,693.03 L1366.85,692.55 L1366.95,692.08 L1367.05,691.60 L1367.15,691.13 L1367.25,690.66 L1367.36,690.18 L1367.46,689.71 L1367.56,689.23 L1367.66,688.76 L1367.76,688.29 L1367.86,687.81 L1367.96,687.34 L1368.07,686.86 L1368.17,686.39 L1368.27,685.91 L1368.37,685.44 L1368.47,684.96 L1368.57,684.49 L1368.67,684.01 L1368.77,683.53 L1368.87,683.06 L1368.97,682.58 L1369.07,682.11 L1369.17,681.63 L1369.27,681.16 L1369.37,680.68 L1369.47,680.20 L1369.56,679.73 L1369.66,679.25 L1369.76,678.77 L1369.86,678.30 L1369.96,677.82 L1370.06,677.35 L1370.16,676.87 L1370.26,676.39 L1370.36,675.92 L1370.45,675.44 L1370.55,674.96 L1370.65,674.48 L1370.75,674.01 L1370.85,673.53 L1370.95,673.05 L1371.05,672.58 L1371.14,672.10 L1371.24,671.62 L1371.34,671.14 L1371.44,670.67 L1371.54,670.19 L1371.64,669.71 L1371.73,669.23 L1371.83,668.76 L1371.93,668.28 L1372.03,667.80 L1372.13,667.32 L1372.22,666.85 L1372.32,666.37 L1372.42,665.89 L1372.52,665.41 L1372.62,664.93 L1372.71,664.46 L1372.81,663.98 L1372.91,663.50 L1373.01,663.02 L1373.11,662.54 L1373.21,662.07 L1373.30,661.59 L1373.40,661.11 L1373.50,660.63 L1373.60,660.15 L1373.70,659.67 L1373.80,659.20 L1373.89,658.72 L1373.99,658.24 L1374.09,657.76 L1374.19,657.28 L1374.29,656.80 L1374.39,656.33 L1374.49,655.85 L1374.58,655.37 L1374.68,654.89 L1374.78,654.41 L1374.88,653.93 L1374.98,653.46 L1375.08,652.98 L1375.18,652.50 L1375.28,652.02 L1375.38,651.54 L1375.48,651.06 L1375.58,650.59 L1375.68,650.11 L1375.78,649.63 L1375.88,649.15 L1375.98,648.67 L1376.08,648.19 L1376.18,647.72 L1376.28,647.24 L1376.38,646.76 L1376.48,646.28 L1376.58,645.80 L1376.68,645.33 L1376.78,644.85 L1376.88,644.37 L1376.98,643.89 L1377.09,643.41 L1377.19,642.93 L1377.29,642.46 L1377.39,641.98 L1377.49,641.50 L1377.60,641.02 L1377.70,640.55 L1377.80,640.07 L1377.90,639.59 L1378.01,639.11 L1378.11,638.63 L1378.21,638.16 L1378.31,637.68 L1378.42,637.20 L1378.52,636.72 L1378.63,636.25 L1378.73,635.77 L1378.83,635.29 L1378.94,634.81 L1379.04,634.34 L1379.15,633.86 L1379.25,633.38 L1379.36,632.91 L1379.46,632.43 L1379.57,631.95 L1379.67,631.48 L1379.78,631.00 L1379.89,630.52 L1379.99,630.05 L1380.10,629.57 L1380.21,629.09 L1380.31,628.62 L1380.42,628.14 L1380.53,627.66 L1380.64,627.19 L1380.74,626.71 L1380.85,626.23 L1380.96,625.76 L1381.07,625.28 L1381.18,624.81 L1381.29,624.33 L1381.40,623.86 L1381.51,623.38 L1381.62,622.90 L1381.73,622.43 L1381.84,621.95 L1381.95,621.48 L1382.06,621.00 L1382.17,620.53 L1382.28,620.05 L1382.39,619.58 L1382.51,619.10 L1382.62,618.63 L1382.73,618.16 L1382.85,617.68 L1382.96,617.21 L1383.07,616.73 L1383.19,616.26 L1383.30,615.79 L1383.42,615.31 L1383.53,614.84 L1383.65,614.36 L1383.76,613.89 L1383.88,613.42 L1383.99,612.94 L1384.11,612.47 L1384.23,612.00 L1384.34,611.53 L1384.46,611.05 L1384.58,610.58 L1384.70,610.11 L1384.82,609.64 L1384.93,609.16 L1385.05,608.69 L1385.17,608.22 L1385.29,607.75 L1385.41,607.28 L1385.53,606.80 L1385.66,606.33 L1385.78,605.86 L1385.90,605.39 L1386.02,604.92 L1386.14,604.45 L1386.27,603.98 L1386.39,603.51 L1386.51,603.04 L1386.64,602.57 L1386.76,602.10 L1386.89,601.63 L1387.01,601.16 L1387.14,600.69 L1387.26,600.22 L1387.39,599.75 L1387.52,599.28 L1387.64,598.81 L1387.77,598.34 L1387.90,597.87 L1388.03,597.41 L1388.16,596.94 L1388.29,596.47 L1388.42,596.00 L1388.55,595.53 L1388.68,595.07 L1388.81,594.60 L1388.94,594.13 L1389.07,593.67 L1389.20,593.20 L1389.34,592.73 L1389.47,592.27 L1389.60,591.80 L1389.74,591.33 L1389.87,590.87 L1390.01,590.40 L1390.14,589.94 L1390.28,589.47 L1390.42,589.01 L1390.55,588.54 L1390.69,588.08 L1390.83,587.61 L1390.97,587.15 L1391.10,586.68 L1391.24,586.22 L1391.38,585.76 L1391.52,585.29 L1391.67,584.83 L1391.81,584.37 L1391.95,583.90 L1392.09,583.44 L1392.23,582.98 L1392.38,582.52 L1392.52,582.05 L1392.67,581.59 L1392.81,581.13 L1392.96,580.67 L1393.10,580.21 L1393.25,579.75 L1393.40,579.29 L1393.54,578.83 L1393.69,578.37 L1393.84,577.91 L1393.99,577.45 L1394.14,576.99 L1394.29,576.53 L1394.44,576.07 L1394.59,575.61 L1394.74,575.15 L1394.90,574.69 L1395.05,574.23 L1395.20,573.78 L1395.36,573.32 L1395.51,572.86 L1395.67,572.40 L1395.82,571.95 L1395.98,571.49 L1396.14,571.03 L1396.29,570.58 L1396.45,570.12 L1396.61,569.67 L1396.77,569.21 L1396.93,568.76 L1397.09,568.30 L1397.25,567.85 L1397.41,567.39 L1397.58,566.94 L1397.74,566.48 L1397.90,566.03 L1398.07,565.58 L1398.23,565.12 L1398.40,564.67 L1398.56,564.22 L1398.73,563.77 L1398.90,563.31 L1399.07,562.86 L1399.24,562.41 L1399.40,561.96 L1399.57,561.51 L1399.75,561.06 L1399.92,560.61 L1400.09,560.16 L1400.26,559.71 L1400.43,559.26 L1400.61,558.81 L1400.78,558.36 L1400.96,557.91 L1401.13,557.46 L1401.31,557.02 L1401.49,556.57 L1401.67,556.12 L1401.84,555.67 L1402.02,555.23 L1402.20,554.78 L1402.38,554.34 L1402.57,553.89 L1402.75,553.44 L1402.93,553.00 L1403.11,552.55 L1403.30,552.11 L1403.48,551.66 L1403.67,551.22 L1403.86,550.78 L1404.04,550.33 L1404.23,549.89 L1404.42,549.45 L1404.61,549.01 L1404.80,548.56 L1404.99,548.12 L1405.18,547.68 L1405.37,547.24 L1405.57,546.80 L1405.76,546.36 L1405.95,545.92 L1406.15,545.48 L1406.34,545.04 L1406.54,544.60 L1406.74,544.16 L1406.94,543.72 L1407.14,543.28 L1407.34,542.85 L1407.54,542.41 L1407.74,541.97 L1407.94,541.54 L1408.14,541.10 L1408.35,540.66 L1408.55,540.23 L1408.76,539.79 L1408.96,539.36 L1409.17,538.92 L1409.38,538.49 L1409.58,538.05 L1409.79,537.62 L1410.00,537.19 L1410.21,536.75 L1410.43,536.32 L1410.64,535.89 L1410.85,535.46 L1411.06,535.03 L1411.28,534.60 L1411.50,534.17 L1411.71,533.73 L1411.93,533.30 L1412.15,532.88 L1412.37,532.45 L1412.59,532.02 L1412.81,531.59 L1413.03,531.16 L1413.25,530.73 L1413.47,530.31 L1413.70,529.88 L1413.92,529.45 L1414.15,529.03 L1414.37,528.60 L1414.60,528.18 L1414.83,527.75 L1415.06,527.33 L1415.29,526.90 L1415.52,526.48 L1415.75,526.06 L1415.99,525.63 L1416.22,525.21 L1416.45,524.79 L1416.69,524.37 L1416.93,523.94 L1417.16,523.52 L1417.40,523.10 L1417.64,522.68 L1417.88,522.26 L1418.12,521.84 L1418.36,521.42 L1418.60,521.01 L1418.85,520.59 L1419.09,520.17 L1419.34,519.75 L1419.58,519.34 L1419.83,518.92 L1420.08,518.50 L1420.33,518.09 L1420.58,517.67 L1420.83,517.26 L1421.08,516.84 L1421.33,516.43 L1421.59,516.02 L1421.84,515.61 L1422.10,515.19 L1422.36,514.78 L1422.61,514.37 L1422.87,513.96 L1423.13,513.55 L1423.39,513.14 L1423.65,512.73 L1423.92,512.32 L1424.18,511.91 L1424.44,511.51 L1424.71,511.10 L1424.98,510.69 L1425.24,510.29 L1425.51,509.88 L1425.78,509.48 L1426.05,509.08 L1426.32,508.67 L1426.59,508.27 L1426.87,507.87 L1427.14,507.47 L1427.42,507.07 L1427.69,506.67 L1427.97,506.27 L1428.25,505.87 L1428.53,505.47 L1428.81,505.08 L1429.09,504.68 L1429.37,504.29 L1429.66,503.89 L1429.94,503.50 L1430.23,503.11 L1430.51,502.71 L1430.80,502.32 L1431.09,501.93 L1431.38,501.54 L1431.67,501.15 L1431.96,500.77 L1432.25,500.38 L1432.55,499.99 L1432.84,499.61 L1433.14,499.22 L1433.44,498.84 L1433.74,498.46 L1434.03,498.08 L1434.33,497.70 L1434.64,497.32 L1434.94,496.94 L1435.24,496.56 L1435.55,496.18 L1435.85,495.81 L1436.16,495.43 L1436.47,495.06 L1436.78,494.68 L1437.09,494.31 L1437.40,493.94 L1437.71,493.57 L1438.02,493.20 L1438.34,492.83 L1438.65,492.46 L1438.97,492.10 L1439.29,491.73 L1439.61,491.37 L1439.93,491.01 L1440.25,490.65 L1440.57,490.29 L1440.89,489.93 L1441.22,489.57 L1441.54,489.21 L1441.87,488.85 L1442.20,488.50 L1442.53,488.15 L1442.86,487.79 L1443.19,487.44 L1443.52,487.09 L1443.86,486.74 L1444.19,486.39 L1444.53,486.05 L1444.86,485.70 L1445.20,485.36 L1445.54,485.02 L1445.88,484.67 L1446.22,484.33 L1446.57,483.99 L1446.91,483.66 L1447.26,483.32 L1447.60,482.98 L1447.95,482.65 L1448.30,482.32 L1448.65,481.99 L1449.00,481.66 L1449.35,481.33 L1449.71,481.00 L1450.06,480.67 L1450.42,480.35 L1450.78,480.03 L1451.13,479.71 L1451.49,479.38 L1451.86,479.07 L1452.22,478.75 L1452.58,478.43 L1452.95,478.12 L1453.31,477.80 L1453.68,477.49 L1454.05,477.18 L1454.42,476.87 L1454.79,476.57 L1455.16,476.26 L1455.53,475.96 L1455.91,475.65 L1456.28,475.35 L1456.66,475.05 L1457.04,474.75 L1457.42,474.46 L1457.80,474.16 L1458.18,473.87 L1458.56,473.58 L1458.95,473.29 L1459.33,473.00 L1459.72,472.71 L1460.11,472.43 L1460.50,472.14 L1460.89,471.86 L1461.28,471.58 L1461.68,471.30 L1462.07,471.02 L1462.47,470.75 L1462.86,470.47 L1463.26,470.20 L1463.66,469.93 L1464.06,469.66 L1464.47,469.39 L1464.87,469.13 L1465.28,468.87 L1465.68,468.60 L1466.09,468.34 L1466.50,468.09 L1466.91,467.83 L1467.32,467.57 L1467.73,467.32 L1468.15,467.07 L1468.56,466.82 L1468.98,466.57 L1469.40,466.33 L1469.82,466.08 L1470.24,465.84 L1470.66,465.60 L1471.08,465.36 L1471.51,465.12 L1471.93,464.88 L1472.36,464.65 L1472.79,464.42 L1473.21,464.19 L1473.64,463.96 L1474.07,463.73 L1474.51,463.50 L1474.94,463.28 L1475.37,463.05 L1475.81,462.83 L1476.24,462.61 L1476.68,462.39 L1477.12,462.17 L1477.55,461.96 L1477.99,461.74 L1478.43,461.53 L1478.87,461.32 L1479.32,461.11 L1479.76,460.90 L1480.20,460.69 L1480.65,460.48 L1481.09,460.28 L1481.54,460.08 L1481.98,459.87 L1482.43,459.67 L1482.88,459.47 L1483.33,459.27 L1483.78,459.08 L1484.23,458.88 L1484.68,458.69 L1485.13,458.49 L1485.58,458.30 L1486.03,458.11 L1486.49,457.92 L1486.94,457.73 L1487.40,457.54 L1487.85,457.36 L1488.31,457.17 L1488.76,456.99 L1489.22,456.81 L1489.67,456.62 L1490.13,456.44 L1490.59,456.26 L1491.05,456.08 L1491.51,455.91 L1491.97,455.73 L1492.42,455.55 L1492.88,455.38 L1493.34,455.21 L1493.80,455.03 L1494.27,454.86 L1494.73,454.69 L1495.19,454.52 L1495.65,454.35 L1496.11,454.18 L1496.57,454.02 L1497.03,453.85 L1497.50,453.69 L1497.96,453.52 L1498.42,453.36 L1498.88,453.20 L1499.35,453.03 L1499.81,452.87 L1500.27,452.71 L1500.74,452.55 L1501.20,452.39 L1501.66,452.24 L1502.13,452.08 L1502.59,451.92 L1503.06,451.77 L1503.52,451.61 L1503.98,451.46 L1504.45,451.31 L1504.91,451.15 L1505.38,451.00 L1505.84,450.85 L1506.31,450.70 L1506.77,450.55 L1507.24,450.40 L1507.70,450.26 L1508.17,450.11 L1508.63,449.96 L1509.10,449.82 L1509.56,449.67 L1510.03,449.53 L1510.50,449.39 L1510.96,449.25 L1511.43,449.10 L1511.90,448.96 L1512.36,448.82 L1512.83,448.69 L1513.30,448.55 L1513.76,448.41 L1514.23,448.27 L1514.70,448.14 L1515.16,448.00 L1515.63,447.87 L1516.10,447.73 L1516.57,447.60 L1517.03,447.47 L1517.50,447.34 L1517.97,447.21 L1518.44,447.08 L1518.91,446.95 L1519.38,446.82 L1519.84,446.69 L1520.31,446.56 L1520.78,446.44 L1521.25,446.31 L1521.72,446.19 L1522.19,446.06 L1522.66,445.94 L1523.13,445.81 L1523.60,445.69 L1524.07,445.57 L1524.54,445.45 L1525.01,445.33 L1525.48,445.21 L1525.95,445.09 L1526.42,444.97 L1526.89,444.86 L1527.36,444.74 L1527.83,444.62 L1528.30,444.51 L1528.77,444.40 L1529.24,444.28 L1529.71,444.17 L1530.18,444.06 L1530.65,443.94 L1531.12,443.83 L1531.59,443.72 L1532.07,443.61 L1532.54,443.50 L1533.01,443.40 L1533.48,443.29 L1533.95,443.18 L1534.43,443.07 L1534.90,442.97 L1535.37,442.86 L1535.84,442.76 L1536.31,442.65 L1536.79,442.55 L1537.26,442.45 L1537.73,442.35 L1538.21,442.25 L1538.68,442.15 L1539.15,442.05 L1539.62,441.95 L1540.10,441.85 L1540.57,441.75 L1541.04,441.65 L1541.52,441.56 L1541.99,441.46 L1542.47,441.36 L1542.94,441.27 L1543.41,441.17 L1543.89,441.08 L1544.36,440.99 L1544.84,440.89 L1545.31,440.80 L1545.78,440.71 L1546.26,440.62 L1546.73,440.53 L1547.21,440.44 L1547.68,440.35 L1548.16,440.26 L1548.63,440.18 L1549.11,440.09 L1549.58,440.00 L1550.06,439.92 L1550.53,439.83 L1551.01,439.75 L1551.49,439.66 L1551.96,439.58 L1552.44,439.50 L1552.91,439.41 L1553.39,439.33 L1553.87,439.25 L1554.34,439.17 L1554.82,439.09 L1555.29,439.01 L1555.77,438.93 L1556.25,438.85 L1556.72,438.77 L1557.20,438.70 L1557.68,438.62 L1558.15,438.54 L1558.63,438.47 L1559.11,438.39 L1559.58,438.32 L1560.06,438.24 L1560.54,438.17 L1561.02,438.10 L1561.49,438.03 L1561.97,437.95 L1562.45,437.88 L1562.93,437.81 L1563.40,437.74 L1563.88,437.67 L1564.36,437.60 L1564.84,437.53 L1565.32,437.46 L1565.79,437.40 L1566.27,437.33 L1566.75,437.26 L1567.23,437.20 L1567.71,437.13 L1568.19,437.06 L1568.66,437.00 L1569.14,436.94 L1569.62,436.87 L1570.10,436.81 L1570.58,436.75 L1571.06,436.68 L1571.54,436.62 L1572.02,436.56 L1572.50,436.50 L1572.98,436.44 L1573.46,436.38 L1573.93,436.32 L1574.41,436.26 L1574.89,436.20 L1575.37,436.14 L1575.85,436.09 L1576.33,436.03 L1576.81,435.97 L1577.29,435.92 L1577.77,435.86 L1578.25,435.81 L1578.73,435.75 L1579.21,435.70 L1579.69,435.64 L1580.17,435.59 L1580.65,435.54 L1581.14,435.48 L1581.62,435.43 L1582.10,435.38 L1582.58,435.33 L1583.06,435.28 L1583.54,435.23 L1584.02,435.18 L1584.50,435.13 L1584.98,435.08 L1585.46,435.03 L1585.94,434.98 L1586.42,434.94 L1586.91,434.89 L1587.39,434.84 L1587.87,434.79 L1588.35,434.75 L1588.83,434.70 L1589.31,434.66 L1589.80,434.61 L1590.28,434.57 L1590.76,434.52 L1591.24,434.48 L1591.72,434.44 L1592.20,434.39 L1592.69,434.35 L1593.17,434.31 L1593.65,434.27 L1594.13,434.23 L1594.61,434.18 L1595.10,434.14 L1595.58,434.10 L1596.06,434.06 L1596.54,434.02 L1597.03,433.99 L1597.51,433.95 L1597.99,433.91 L1598.47,433.87 L1598.96,433.83 L1599.44,433.80 L1599.92,433.76 L1600.41,433.72 L1600.89,433.69 L1601.37,433.65 L1601.85,433.61 L1602.34,433.58 L1602.82,433.54 L1603.30,433.51 L1603.79,433.48 L1604.27,433.44 L1604.75,433.41 L1605.24,433.38 L1605.72,433.34 L1606.20,433.31 L1606.69,433.28 L1607.17,433.25 L1607.65,433.21 L1608.14,433.18 L1608.62,433.15 L1609.10,433.12 L1609.59,433.09 L1610.07,433.06 L1610.56,433.03 L1611.04,433.00 L1611.52,432.97 L1612.01,432.94 L1612.49,432.92 L1612.98,432.89 L1613.46,432.86 L1613.94,432.83 L1614.43,432.81 L1614.91,432.78 L1615.40,432.75 L1615.88,432.73 L1616.36,432.70 L1616.85,432.67 L1617.33,432.65 L1617.82,432.62 L1618.30,432.60 L1618.79,432.57 L1619.27,432.55 L1619.76,432.52 L1620.24,432.50 L1620.72,432.48 L1621.21,432.45 L1621.69,432.43 L1622.18,432.41 L1622.66,432.39 L1623.15,432.36 L1623.63,432.34 L1624.12,432.32 L1624.60,432.30 L1625.09,432.28 L1625.57,432.25 L1626.06,432.23 L1626.54,432.21 L1627.03,432.19 L1627.51,432.17 L1628.00,432.15 L1628.48,432.13 L1628.97,432.11 L1629.45,432.09 L1629.94,432.07 L1630.42,432.06 L1630.91,432.04 L1631.39,432.02 L1631.88,432.00 L1632.36,431.98 L1632.85,431.96 L1633.33,431.95 L1633.82,431.93 L1634.31,431.91 L1634.79,431.90 L1635.28,431.88 L1635.76,431.86 L1636.25,431.85 L1636.73,431.83 L1637.22,431.81 L1637.70,431.80 L1638.19,431.78 L1638.67,431.77 L1639.16,431.75 L1639.65,431.74 L1640.13,431.72 L1640.62,431.71 L1641.10,431.69 L1641.59,431.68 L1642.07,431.66 L1642.56,431.65 L1643.05,431.64 L1643.53,431.62 L1644.02,431.61 L1644.50,431.59 L1644.99,431.58 L1645.47,431.57 L1645.96,431.56 L1646.45,431.54 L1646.93,431.53 L1647.42,431.52 L1647.90,431.50 L1648.39,431.49 L1648.87,431.48 L1649.36,431.47 L1649.85,431.46 L1650.33,431.44 L1650.82,431.43 L1651.30,431.42 L1651.79,431.41 L1652.28,431.40 L1652.76,431.39 L1653.25,431.38 L1653.73,431.37 L1654.22,431.36 L1654.70,431.34 L1655.19,431.33 L1655.68,431.32 L1656.16,431.31 L1656.65,431.30 L1657.13,431.29 L1657.62,431.28 L1658.11,431.27 L1658.59,431.26 L1659.08,431.25 L1659.56,431.24 L1660.05,431.23 L1660.54,431.22 L1661.02,431.21 L1661.51,431.20 L1661.99,431.20 L1662.48,431.19 L1662.97,431.18 L1663.45,431.17 L1663.94,431.16 L1664.42,431.15 L1664.91,431.14 L1665.40,431.13 L1665.88,431.12 L1666.37,431.11 L1666.85,431.11 L1667.34,431.10 L1667.83,431.09 L1668.31,431.08 L1668.80,431.07 L1669.28,431.06 L1669.77,431.05 L1670.25,431.05 L1670.74,431.04 L1671.23,431.03 L1671.71,431.02 L1672.20,431.01 L1672.68,431.01 L1673.17,431.00 L1673.66,430.99 L1674.14,430.98 L1674.63,430.97 L1675.11,430.96 L1675.60,430.96 L1676.08,430.95 L1676.57,430.94 L1677.06,430.93 L1677.54,430.92 L1678.03,430.92 L1678.51,430.91 L1679.00,430.90 L1679.48,430.89 L1679.97,430.88 L1680.46,430.88 L1680.94,430.87 L1681.43,430.86 L1681.91,430.85 L1682.40,430.84 L1682.88,430.84 L1683.37,430.83 L1683.85,430.82 L1684.34,430.81 L1684.83,430.81 L1685.31,430.80 L1685.80,430.79 L1686.28,430.78 L1686.77,430.77 L1687.25,430.77 L1687.74,430.76 L1688.22,430.75 L1688.71,430.74 L1689.19,430.74 L1689.68,430.73 L1690.17,430.72 L1690.65,430.71 L1691.14,430.71 L1691.62,430.70 L1692.11,430.69 L1692.59,430.68 L1693.08,430.68 L1693.56,430.67 L1694.05,430.66 L1694.53,430.65 L1695.02,430.65 L1695.50,430.64 L1695.99,430.63 L1696.47,430.62 L1696.96,430.62 L1697.45,430.61 L1697.93,430.60 L1698.42,430.59 L1698.90,430.59 L1699.39,430.58 L1699.87,430.57 L1700.36,430.56 L1700.84,430.56 L1701.33,430.55 L1701.81,430.54 L1702.30,430.53 L1702.78,430.53 L1703.27,430.52 L1703.75,430.51 L1704.24,430.51 L1704.72,430.50 L1705.21,430.49 L1705.69,430.48 L1706.18,430.48 L1706.66,430.47 L1707.15,430.46 L1707.63,430.46 L1708.12,430.45 L1708.60,430.44 L1709.09,430.43 L1709.57,430.43 L1710.06,430.42 L1710.54,430.41 L1711.03,430.41 L1711.51,430.40 L1712.00,430.39 L1712.48,430.38 L1712.97,430.38 L1713.45,430.37 L1713.94,430.36 L1714.42,430.36 L1714.91,430.35 L1715.39,430.34 L1715.88,430.34 L1716.36,430.33 L1716.85,430.32 L1717.33,430.32 L1717.82,430.31 L1718.30,430.30 L1718.79,430.29 L1719.27,430.29 L1719.76,430.28 L1720.24,430.27 L1720.73,430.27 L1721.21,430.26 L1721.70,430.25 L1722.18,430.25 L1722.67,430.24 L1723.15,430.23 L1723.64,430.23 L1724.12,430.22 L1724.61,430.21 L1725.09,430.21 L1725.58,430.20 L1726.06,430.19 L1726.55,430.19 L1727.03,430.18 L1727.52,430.17 L1728.00,430.17 L1728.49,430.16 L1728.97,430.15 L1729.46,430.15 L1729.94,430.14 L1730.43,430.14 L1730.91,430.13 L1731.40,430.12 L1731.88,430.12 L1732.37,430.11 L1732.85,430.10 L1733.34,430.10 L1733.82,430.09 L1734.30,430.08 L1734.79,430.08 L1735.27,430.07 L1735.76,430.06 L1736.24,430.06 L1736.73,430.05 L1737.21,430.05 L1737.70,430.04 L1738.18,430.03 L1738.67,430.03 L1739.15,430.02 L1739.64,430.01 L1740.12,430.01 L1740.61,430.00 L1741.09,430.00 L1741.58,429.99 L1742.06,429.98 L1742.55,429.98 L1743.03,429.97 L1743.52,429.96 L1744.00,429.96 L1744.48,429.95 L1744.97,429.95 L1745.45,429.94 L1745.94,429.93 L1746.42,429.93 L1746.91,429.92 L1747.39,429.92 L1747.88,429.91 L1748.36,429.90 L1748.85,429.90 L1749.33,429.89 L1749.82,429.89 L1750.30,429.88 L1750.79,429.87 L1751.27,429.87 L1751.76,429.86 L1752.24,429.86 L1752.73,429.85 L1753.21,429.84 L1753.69,429.84 L1754.18,429.83 L1754.66,429.83 L1755.15,429.82 L1755.63,429.81 L1756.12,429.81 L1756.60,429.80 L1757.09,429.80 L1757.57,429.79 L1758.06,429.78 L1758.54,429.78 L1759.03,429.77 L1759.51,429.77 L1760.00,429.76 L1760.48,429.76 L1760.97,429.75 L1761.45,429.74 L1761.94,429.74 L1762.42,429.73 L1762.90,429.73 L1763.39,429.72 L1763.87,429.72 L1764.36,429.71 L1764.84,429.70 L1765.33,429.70 L1765.81,429.69 L1766.30,429.69 L1766.78,429.68 L1767.27,429.68 L1767.75,429.67 L1768.24,429.67 L1768.72,429.66 L1769.21,429.65 L1769.69,429.65 L1770.18,429.64 L1770.66,429.64 L1771.15,429.63 L1771.63,429.63 L1772.11,429.62 L1772.60,429.62 L1773.08,429.61 L1773.57,429.61 L1774.05,429.60 L1774.54,429.59 L1775.02,429.59 L1775.51,429.58 L1775.99,429.58 L1776.48,429.57 L1776.96,429.57 L1777.45,429.56 L1777.93,429.56 L1778.42,429.55 L1778.90,429.55 L1779.39,429.54 L1779.87,429.54 L1780.36,429.53 L1780.84,429.52 L1781.33,429.52 L1781.81,429.51 L1782.30,429.51 L1782.78,429.50 L1783.27,429.50 L1783.75,429.49 L1784.24,429.49 L1784.72,429.48 L1785.21,429.48 L1785.69,429.47 L1786.17,429.47 L1786.66,429.46 L1787.14,429.46 L1787.63,429.45 L1788.11,429.45 L1788.60,429.44 L1789.08,429.44 L1789.57,429.43 L1790.05,429.43 L1790.54,429.42 L1791.02,429.42 L1791.51,429.41 L1791.99,429.41 L1792.48,429.40 L1792.96,429.40 L1793.45,429.39 L1793.93,429.39 L1794.42,429.38 L1794.90,429.38 L1795.39,429.37 L1795.87,429.37 L1796.36,429.36 L1796.84,429.36 L1797.33,429.35 L1797.81,429.35 L1798.30,429.34 L1798.78,429.34 L1799.27,429.33 L1799.75,429.33 L1800.24,429.32 L1800.72,429.32 L1801.21,429.31 L1801.69,429.31 L1802.18,429.30 L1802.66,429.30 L1803.15,429.29 L1803.63,429.29 L1804.12,429.28 L1804.60,429.28 L1805.09,429.27 L1805.57,429.27 L1806.06,429.27 L1806.55,429.26 L1807.03,429.26 L1807.52,429.25 L1808.00,429.25 L1808.49,429.24 L1808.97,429.24 L1809.46,429.23 L1809.94,429.23 L1810.43,429.22 L1810.91,429.22 L1811.40,429.21 L1811.88,429.21 L1812.37,429.20 L1812.85,429.20 L1813.34,429.20 L1813.82,429.19 L1814.31,429.19 L1814.79,429.18 L1815.28,429.18 L1815.76,429.17 L1816.25,429.17 L1816.74,429.16 L1817.22,429.16 L1817.71,429.15 L1818.19,429.15 L1818.68,429.15 L1819.16,429.14 L1819.65,429.14 L1820.13,429.13 L1820.62,429.13 L1821.10,429.12 L1821.59,429.12 L1822.07,429.11 L1822.56,429.11 L1823.05,429.11 L1823.53,429.10 L1824.02,429.10 L1824.50,429.09 L1824.99,429.09 L1825.47,429.08 L1825.96,429.08 L1826.44,429.08 L1826.93,429.07 L1827.42,429.07 L1827.90,429.06 L1828.39,429.06 L1828.87,429.05 L1829.36,429.05 L1829.84,429.05 L1830.33,429.04 L1830.81,429.04 L1831.30,429.03 L1831.79,429.03 L1832.27,429.02 L1832.76,429.02 L1833.24,429.02 L1833.73,429.01 L1834.21,429.01 L1834.70,429.00 L1835.19,429.00 L1835.67,428.99 L1836.16,428.99 L1836.64,428.99 L1837.13,428.98 L1837.62,428.98 L1838.10,428.97 L1838.59,428.97 L1839.07,428.97 L1839.56,428.96 L1840.04,428.96 L1840.53,428.95 L1841.02,428.95 L1841.50,428.95 L1841.99,428.94 L1842.47,428.94 L1842.96,428.93 L1843.45,428.93 L1843.93,428.93 L1844.42,428.92 L1844.90,428.92 L1845.39,428.91 L1845.88,428.91 L1846.36,428.91 L1846.85,428.90 L1847.33,428.90 L1847.82,428.89" class="cdf"/>
<line x1="1333.0" y1="773.2" x2="1333.0" y2="767.6" class="tk"/>
<line x1="1438.2" y1="773.2" x2="1438.2" y2="767.6" class="tk"/>
<line x1="1543.5" y1="773.2" x2="1543.5" y2="767.6" class="tk"/>
<line x1="1648.8" y1="773.2" x2="1648.8" y2="767.6" class="tk"/>
<line x1="1754.0" y1="773.2" x2="1754.0" y2="767.6" class="tk"/>
<line x1="1859.0" y1="773.2" x2="1859.0" y2="767.6" class="tk"/>
<line x1="1333.0" y1="773.2" x2="1338.6" y2="773.2" class="tk"/>
<line x1="1333.0" y1="704.2" x2="1338.6" y2="704.2" class="tk"/>
<line x1="1333.0" y1="635.2" x2="1338.6" y2="635.2" class="tk"/>
<line x1="1333.0" y1="566.3" x2="1338.6" y2="566.3" class="tk"/>
<line x1="1333.0" y1="497.3" x2="1338.6" y2="497.3" class="tk"/>
<line x1="1333.0" y1="428.3" x2="1338.6" y2="428.3" class="tk"/>
<rect x="1333.0" y="428.3" width="526.0" height="344.9" class="frm"/>
<text x="1333.0" y="796.4" text-anchor="middle" class="tl">0</text>
<text x="1438.2" y="796.4" text-anchor="middle" class="tl">5</text>
<text x="1543.5" y="796.4" text-anchor="middle" class="tl">10</text>
<text x="1648.8" y="796.4" text-anchor="middle" class="tl">15</text>
<text x="1754.0" y="796.4" text-anchor="middle" class="tl">20</text>
<text x="1859.0" y="796.4" text-anchor="middle" class="tl">25</text>
<text x="1328.0" y="779.7" text-anchor="end" class="tl">0.0</text>
<text x="1328.0" y="710.7" text-anchor="end" class="tl">0.2</text>
<text x="1328.0" y="641.7" text-anchor="end" class="tl">0.4</text>
<text x="1328.0" y="572.8" text-anchor="end" class="tl">0.6</text>
<text x="1328.0" y="503.8" text-anchor="end" class="tl">0.8</text>
<text x="1328.0" y="434.8" text-anchor="end" class="tl">1.0</text>
<text x="1557.4" y="474.3" style="fill:#000"><tspan font-style="italic">EF</tspan> (3.96%)<tspan class="lt">＜</tspan>1</text>
<text x="1518.6" y="507.8" style="fill:#000">1 ≤ <tspan font-style="italic">EF</tspan> (35.64%)<tspan class="lt">＜</tspan>2</text>
<text x="1518.6" y="540.0" style="fill:#000">2 ≤ <tspan font-style="italic">EF</tspan> (42.57%)<tspan class="lt">＜</tspan>5</text>
<text x="1516.9" y="571.8" style="fill:#000">5 ≤ <tspan font-style="italic">EF</tspan> (16.83%)<tspan class="lt">＜</tspan>20</text>
<text x="1506.2" y="602.2" style="fill:#000">20 ≤ <tspan font-style="italic">EF</tspan> (0.99%)<tspan class="lt">＜</tspan>40</text>
<text x="1547.0" y="680.9" style="fill:#1a1aff">Simulated:3.34</text>
<text x="1548.7" y="734.5" style="fill:#36a844">Detected:3.31</text>
<text x="1850.3" y="463.5" text-anchor="end" class="plab">(f)</text>
<text x="1596.0" y="832.4" text-anchor="middle"><tspan font-style="italic">EF</tspan> (Ni)</text>
<text transform="translate(1281.5,599.8) rotate(-90)" text-anchor="middle">Cumulative probability</text>
</g>
<g>
<rect x="138.9" y="855.9" width="49.9" height="342.0" fill="#e7e9fe"/>
<rect x="188.8" y="855.9" width="143.5" height="342.0" fill="#e5eee9"/>
<rect x="332.3" y="855.9" width="284.6" height="342.0" fill="#fee8c5"/>
<line x1="138.9" y1="854.3" x2="138.9" y2="1196.4" class="dsh"/>
<line x1="188.8" y1="854.3" x2="188.8" y2="1196.4" class="dsh"/>
<line x1="332.3" y1="854.3" x2="332.3" y2="1196.4" class="dsh"/>
<line x1="158.3" y1="852.8" x2="158.3" y2="1197.9" stroke="#48ac48" stroke-width="2.8"/>
<line x1="161.0" y1="852.8" x2="161.0" y2="1197.9" stroke="#0000ff" stroke-width="2.6"/>
<path d="M110.47,1198.41 L111.07,1198.39 L111.66,1198.35 L112.23,1198.30 L112.79,1198.23 L113.33,1198.15 L113.86,1198.06 L114.38,1197.95 L114.88,1197.83 L115.37,1197.69 L115.84,1197.55 L116.31,1197.39 L116.76,1197.22 L117.19,1197.03 L117.62,1196.83 L118.03,1196.63 L118.43,1196.41 L118.83,1196.18 L119.21,1195.94 L119.58,1195.69 L119.93,1195.43 L120.28,1195.15 L120.62,1194.87 L120.95,1194.58 L121.27,1194.28 L121.58,1193.97 L121.88,1193.66 L122.17,1193.33 L122.46,1193.00 L122.73,1192.66 L123.00,1192.31 L123.26,1191.95 L123.51,1191.59 L123.76,1191.22 L124.00,1190.85 L124.23,1190.46 L124.45,1190.08 L124.67,1189.68 L124.89,1189.28 L125.10,1188.88 L125.30,1188.47 L125.50,1188.06 L125.69,1187.64 L125.88,1187.22 L126.06,1186.79 L126.24,1186.36 L126.42,1185.93 L126.59,1185.49 L126.76,1185.05 L126.92,1184.61 L127.09,1184.17 L127.25,1183.73 L127.41,1183.28 L127.56,1182.83 L127.72,1182.38 L127.87,1181.93 L128.02,1181.48 L128.17,1181.03 L128.32,1180.57 L128.46,1180.12 L128.61,1179.66 L128.75,1179.20 L128.89,1178.74 L129.02,1178.28 L129.16,1177.82 L129.29,1177.35 L129.42,1176.89 L129.55,1176.42 L129.68,1175.96 L129.81,1175.49 L129.93,1175.02 L130.06,1174.55 L130.18,1174.07 L130.30,1173.60 L130.41,1173.13 L130.53,1172.65 L130.65,1172.18 L130.76,1171.70 L130.87,1171.22 L130.98,1170.74 L131.09,1170.26 L131.20,1169.78 L131.30,1169.30 L131.41,1168.81 L131.51,1168.33 L131.61,1167.84 L131.71,1167.36 L131.81,1166.87 L131.91,1166.38 L132.00,1165.89 L132.10,1165.40 L132.19,1164.91 L132.28,1164.42 L132.37,1163.93 L132.46,1163.44 L132.55,1162.95 L132.64,1162.45 L132.72,1161.96 L132.81,1161.46 L132.89,1160.96 L132.97,1160.47 L133.05,1159.97 L133.14,1159.47 L133.21,1158.97 L133.29,1158.47 L133.37,1157.97 L133.45,1157.47 L133.52,1156.97 L133.60,1156.47 L133.67,1155.97 L133.74,1155.47 L133.81,1154.96 L133.88,1154.46 L133.95,1153.96 L134.02,1153.45 L134.09,1152.95 L134.16,1152.44 L134.23,1151.94 L134.29,1151.43 L134.36,1150.92 L134.42,1150.42 L134.48,1149.91 L134.55,1149.40 L134.61,1148.90 L134.67,1148.39 L134.73,1147.88 L134.79,1147.37 L134.85,1146.86 L134.91,1146.35 L134.97,1145.85 L135.03,1145.34 L135.09,1144.83 L135.15,1144.32 L135.20,1143.81 L135.26,1143.30 L135.32,1142.79 L135.37,1142.28 L135.43,1141.77 L135.48,1141.26 L135.54,1140.75 L135.59,1140.24 L135.65,1139.73 L135.70,1139.22 L135.76,1138.71 L135.81,1138.20 L135.86,1137.69 L135.92,1137.18 L135.97,1136.68 L136.02,1136.17 L136.07,1135.66 L136.13,1135.15 L136.18,1134.64 L136.23,1134.13 L136.29,1133.62 L136.34,1133.12 L136.39,1132.61 L136.44,1132.10 L136.49,1131.59 L136.55,1131.09 L136.60,1130.58 L136.65,1130.07 L136.70,1129.56 L136.75,1129.06 L136.81,1128.55 L136.86,1128.05 L136.91,1127.54 L136.96,1127.03 L137.01,1126.53 L137.06,1126.02 L137.11,1125.52 L137.17,1125.01 L137.22,1124.51 L137.27,1124.00 L137.32,1123.50 L137.37,1122.99 L137.42,1122.49 L137.47,1121.98 L137.52,1121.48 L137.57,1120.97 L137.63,1120.47 L137.68,1119.97 L137.73,1119.46 L137.78,1118.96 L137.83,1118.46 L137.88,1117.95 L137.93,1117.45 L137.98,1116.95 L138.03,1116.45 L138.08,1115.94 L138.13,1115.44 L138.18,1114.94 L138.23,1114.44 L138.28,1113.94 L138.33,1113.43 L138.38,1112.93 L138.43,1112.43 L138.49,1111.93 L138.54,1111.43 L138.59,1110.93 L138.64,1110.43 L138.69,1109.93 L138.74,1109.43 L138.79,1108.93 L138.84,1108.43 L138.89,1107.93 L138.94,1107.43 L138.99,1106.93 L139.04,1106.43 L139.09,1105.93 L139.14,1105.43 L139.19,1104.93 L139.24,1104.43 L139.29,1103.93 L139.34,1103.43 L139.39,1102.93 L139.44,1102.44 L139.49,1101.94 L139.54,1101.44 L139.59,1100.94 L139.64,1100.44 L139.69,1099.95 L139.75,1099.45 L139.80,1098.95 L139.85,1098.45 L139.90,1097.96 L139.95,1097.46 L140.00,1096.96 L140.05,1096.47 L140.10,1095.97 L140.15,1095.47 L140.20,1094.98 L140.25,1094.48 L140.30,1093.98 L140.35,1093.49 L140.41,1092.99 L140.46,1092.50 L140.51,1092.00 L140.56,1091.50 L140.61,1091.01 L140.66,1090.51 L140.71,1090.02 L140.76,1089.52 L140.82,1089.03 L140.87,1088.53 L140.92,1088.04 L140.97,1087.54 L141.02,1087.05 L141.07,1086.55 L141.13,1086.06 L141.18,1085.57 L141.23,1085.07 L141.28,1084.58 L141.33,1084.08 L141.39,1083.59 L141.44,1083.10 L141.49,1082.60 L141.54,1082.11 L141.59,1081.62 L141.65,1081.12 L141.70,1080.63 L141.75,1080.14 L141.81,1079.64 L141.86,1079.15 L141.91,1078.66 L141.96,1078.17 L142.02,1077.67 L142.07,1077.18 L142.12,1076.69 L142.18,1076.20 L142.23,1075.71 L142.29,1075.21 L142.34,1074.72 L142.39,1074.23 L142.45,1073.74 L142.50,1073.25 L142.56,1072.75 L142.61,1072.26 L142.66,1071.77 L142.72,1071.28 L142.77,1070.79 L142.83,1070.30 L142.88,1069.81 L142.94,1069.32 L142.99,1068.83 L143.05,1068.34 L143.10,1067.85 L143.16,1067.35 L143.21,1066.86 L143.27,1066.37 L143.33,1065.88 L143.38,1065.39 L143.44,1064.90 L143.49,1064.41 L143.55,1063.92 L143.61,1063.43 L143.66,1062.94 L143.72,1062.46 L143.78,1061.97 L143.84,1061.48 L143.89,1060.99 L143.95,1060.50 L144.01,1060.01 L144.07,1059.52 L144.12,1059.03 L144.18,1058.54 L144.24,1058.05 L144.30,1057.56 L144.36,1057.07 L144.41,1056.59 L144.47,1056.10 L144.53,1055.61 L144.59,1055.12 L144.65,1054.63 L144.71,1054.14 L144.77,1053.66 L144.83,1053.17 L144.89,1052.68 L144.95,1052.19 L145.01,1051.70 L145.07,1051.22 L145.13,1050.73 L145.19,1050.24 L145.25,1049.75 L145.32,1049.26 L145.38,1048.78 L145.44,1048.29 L145.50,1047.80 L145.56,1047.31 L145.62,1046.83 L145.69,1046.34 L145.75,1045.85 L145.81,1045.37 L145.88,1044.88 L145.94,1044.39 L146.00,1043.90 L146.07,1043.42 L146.13,1042.93 L146.19,1042.44 L146.26,1041.96 L146.32,1041.47 L146.39,1040.98 L146.45,1040.50 L146.52,1040.01 L146.58,1039.52 L146.65,1039.04 L146.71,1038.55 L146.78,1038.06 L146.84,1037.58 L146.91,1037.09 L146.98,1036.61 L147.04,1036.12 L147.11,1035.63 L147.18,1035.15 L147.25,1034.66 L147.31,1034.17 L147.38,1033.69 L147.45,1033.20 L147.52,1032.72 L147.59,1032.23 L147.66,1031.75 L147.73,1031.26 L147.80,1030.77 L147.86,1030.29 L147.93,1029.80 L148.00,1029.32 L148.08,1028.83 L148.15,1028.35 L148.22,1027.86 L148.29,1027.37 L148.36,1026.89 L148.43,1026.40 L148.50,1025.92 L148.58,1025.43 L148.65,1024.95 L148.72,1024.46 L148.79,1023.98 L148.87,1023.49 L148.94,1023.01 L149.01,1022.52 L149.09,1022.04 L149.16,1021.55 L149.24,1021.07 L149.31,1020.58 L149.39,1020.10 L149.46,1019.61 L149.54,1019.12 L149.61,1018.64 L149.69,1018.15 L149.77,1017.67 L149.84,1017.18 L149.92,1016.70 L150.00,1016.22 L150.08,1015.73 L150.15,1015.25 L150.23,1014.76 L150.31,1014.28 L150.39,1013.79 L150.47,1013.31 L150.55,1012.82 L150.63,1012.34 L150.71,1011.85 L150.79,1011.37 L150.87,1010.88 L150.95,1010.40 L151.03,1009.91 L151.11,1009.43 L151.20,1008.94 L151.28,1008.46 L151.36,1007.97 L151.44,1007.49 L151.53,1007.00 L151.61,1006.52 L151.69,1006.03 L151.78,1005.55 L151.86,1005.06 L151.95,1004.58 L152.03,1004.09 L152.12,1003.61 L152.20,1003.13 L152.29,1002.64 L152.38,1002.16 L152.46,1001.67 L152.55,1001.19 L152.64,1000.70 L152.73,1000.22 L152.82,999.73 L152.90,999.25 L152.99,998.76 L153.08,998.28 L153.17,997.79 L153.26,997.31 L153.35,996.82 L153.44,996.34 L153.53,995.85 L153.63,995.37 L153.72,994.88 L153.81,994.40 L153.90,993.91 L153.99,993.43 L154.09,992.94 L154.18,992.46 L154.28,991.97 L154.37,991.49 L154.46,991.00 L154.56,990.52 L154.65,990.03 L154.75,989.55 L154.85,989.06 L154.94,988.58 L155.04,988.09 L155.14,987.61 L155.24,987.12 L155.33,986.64 L155.43,986.15 L155.53,985.67 L155.63,985.18 L155.73,984.70 L155.83,984.21 L155.93,983.73 L156.03,983.24 L156.13,982.76 L156.23,982.27 L156.34,981.79 L156.44,981.30 L156.54,980.81 L156.64,980.33 L156.75,979.84 L156.85,979.36 L156.96,978.87 L157.06,978.39 L157.17,977.90 L157.27,977.41 L157.38,976.93 L157.49,976.44 L157.59,975.96 L157.70,975.47 L157.81,974.98 L157.92,974.50 L158.02,974.01 L158.13,973.53 L158.24,973.04 L158.35,972.55 L158.46,972.07 L158.57,971.58 L158.69,971.10 L158.80,970.61 L158.91,970.12 L159.02,969.64 L159.14,969.15 L159.25,968.66 L159.36,968.18 L159.48,967.69 L159.59,967.20 L159.71,966.72 L159.82,966.23 L159.94,965.74 L160.06,965.26 L160.17,964.77 L160.29,964.28 L160.41,963.79 L160.53,963.31 L160.65,962.82 L160.77,962.33 L160.88,961.85 L161.01,961.36 L161.13,960.87 L161.25,960.38 L161.37,959.90 L161.49,959.41 L161.61,958.92 L161.74,958.43 L161.86,957.94 L161.98,957.46 L162.11,956.97 L162.23,956.48 L162.36,955.99 L162.49,955.50 L162.61,955.02 L162.74,954.53 L162.87,954.04 L163.00,953.55 L163.12,953.06 L163.25,952.57 L163.38,952.09 L163.51,951.60 L163.64,951.11 L163.77,950.62 L163.91,950.13 L164.04,949.64 L164.17,949.15 L164.30,948.66 L164.44,948.17 L164.57,947.68 L164.70,947.19 L164.84,946.70 L164.98,946.22 L165.11,945.73 L165.25,945.24 L165.39,944.75 L165.52,944.26 L165.66,943.77 L165.80,943.28 L165.94,942.79 L166.08,942.30 L166.22,941.81 L166.36,941.31 L166.50,940.82 L166.64,940.33 L166.79,939.84 L166.93,939.35 L167.07,938.86 L167.22,938.37 L167.36,937.88 L167.51,937.39 L167.65,936.90 L167.80,936.41 L167.95,935.92 L168.09,935.42 L168.24,934.93 L168.39,934.44 L168.54,933.95 L168.69,933.46 L168.84,932.97 L168.99,932.48 L169.15,931.99 L169.30,931.50 L169.46,931.01 L169.61,930.52 L169.77,930.04 L169.92,929.55 L170.08,929.06 L170.24,928.57 L170.40,928.08 L170.56,927.60 L170.72,927.11 L170.88,926.62 L171.05,926.14 L171.21,925.65 L171.37,925.17 L171.54,924.68 L171.71,924.20 L171.88,923.72 L172.04,923.23 L172.21,922.75 L172.39,922.27 L172.56,921.79 L172.73,921.31 L172.91,920.83 L173.08,920.35 L173.26,919.87 L173.43,919.39 L173.61,918.92 L173.79,918.44 L173.98,917.97 L174.16,917.49 L174.34,917.02 L174.53,916.54 L174.71,916.07 L174.90,915.60 L175.09,915.13 L175.28,914.66 L175.47,914.19 L175.66,913.73 L175.86,913.26 L176.05,912.79 L176.25,912.33 L176.45,911.87 L176.65,911.40 L176.85,910.94 L177.05,910.48 L177.25,910.02 L177.46,909.56 L177.66,909.11 L177.87,908.65 L178.08,908.20 L178.29,907.74 L178.51,907.29 L178.72,906.84 L178.93,906.39 L179.15,905.94 L179.37,905.49 L179.59,905.05 L179.81,904.60 L180.04,904.16 L180.26,903.72 L180.49,903.28 L180.72,902.84 L180.95,902.40 L181.18,901.97 L181.41,901.53 L181.65,901.10 L181.89,900.67 L182.13,900.24 L182.37,899.81 L182.61,899.38 L182.85,898.96 L183.10,898.53 L183.35,898.11 L183.60,897.69 L183.85,897.27 L184.10,896.85 L184.36,896.44 L184.62,896.03 L184.88,895.61 L185.14,895.20 L185.40,894.80 L185.67,894.39 L185.93,893.98 L186.20,893.58 L186.47,893.18 L186.75,892.78 L187.02,892.38 L187.30,891.99 L187.58,891.60 L187.86,891.20 L188.14,890.81 L188.43,890.43 L188.72,890.04 L189.01,889.66 L189.30,889.28 L189.59,888.90 L189.89,888.52 L190.19,888.15 L190.49,887.77 L190.79,887.40 L191.10,887.03 L191.41,886.67 L191.72,886.30 L192.03,885.94 L192.34,885.58 L192.66,885.23 L192.98,884.87 L193.30,884.52 L193.63,884.17 L193.95,883.82 L194.28,883.47 L194.61,883.13 L194.95,882.79 L195.28,882.45 L195.62,882.12 L195.96,881.78 L196.30,881.45 L196.65,881.12 L197.00,880.80 L197.35,880.48 L197.70,880.15 L198.06,879.84 L198.42,879.52 L198.78,879.21 L199.14,878.90 L199.51,878.59 L199.88,878.29 L200.25,877.98 L200.63,877.68 L201.00,877.39 L201.38,877.09 L201.76,876.80 L202.15,876.51 L202.54,876.23 L202.93,875.94 L203.32,875.67 L203.72,875.39 L204.12,875.11 L204.52,874.84 L204.92,874.57 L205.33,874.31 L205.74,874.05 L206.15,873.79 L206.57,873.53 L206.99,873.28 L207.41,873.03 L207.84,872.78 L208.26,872.54 L208.69,872.29 L209.12,872.06 L209.56,871.82 L209.99,871.59 L210.43,871.36 L210.88,871.13 L211.32,870.90 L211.77,870.68 L212.21,870.46 L212.66,870.24 L213.12,870.03 L213.57,869.82 L214.03,869.61 L214.49,869.40 L214.95,869.20 L215.41,868.99 L215.87,868.79 L216.34,868.60 L216.80,868.40 L217.27,868.21 L217.74,868.02 L218.22,867.83 L218.69,867.65 L219.16,867.46 L219.64,867.28 L220.12,867.10 L220.60,866.93 L221.08,866.75 L221.56,866.58 L222.04,866.41 L222.52,866.24 L223.01,866.08 L223.49,865.91 L223.98,865.75 L224.47,865.59 L224.95,865.43 L225.44,865.28 L225.93,865.12 L226.42,864.97 L226.91,864.82 L227.40,864.67 L227.90,864.52 L228.39,864.38 L228.88,864.24 L229.37,864.09 L229.87,863.95 L230.36,863.82 L230.86,863.68 L231.35,863.54 L231.84,863.41 L232.34,863.28 L232.83,863.15 L233.33,863.02 L233.82,862.89 L234.32,862.77 L234.81,862.64 L235.30,862.52 L235.80,862.40 L236.29,862.28 L236.79,862.16 L237.28,862.05 L237.77,861.93 L238.27,861.82 L238.76,861.70 L239.26,861.59 L239.75,861.48 L240.25,861.38 L240.74,861.27 L241.23,861.16 L241.73,861.06 L242.22,860.96 L242.72,860.85 L243.21,860.75 L243.70,860.66 L244.20,860.56 L244.69,860.46 L245.19,860.37 L245.68,860.27 L246.17,860.18 L246.67,860.09 L247.16,860.00 L247.66,859.91 L248.15,859.83 L248.64,859.74 L249.14,859.66 L249.63,859.57 L250.13,859.49 L250.62,859.41 L251.11,859.33 L251.61,859.25 L252.10,859.17 L252.60,859.10 L253.09,859.02 L253.58,858.95 L254.08,858.87 L254.57,858.80 L255.07,858.73 L255.56,858.66 L256.05,858.59 L256.55,858.53 L257.04,858.46 L257.54,858.40 L258.03,858.33 L258.52,858.27 L259.02,858.21 L259.51,858.14 L260.01,858.08 L260.50,858.03 L260.99,857.97 L261.49,857.91 L261.98,857.85 L262.48,857.80 L262.97,857.75 L263.46,857.69 L263.96,857.64 L264.45,857.59 L264.95,857.54 L265.44,857.49 L265.93,857.44 L266.43,857.39 L266.92,857.35 L267.42,857.30 L267.91,857.26 L268.40,857.21 L268.90,857.17 L269.39,857.13 L269.89,857.08 L270.38,857.04 L270.88,857.00 L271.37,856.96 L271.86,856.93 L272.36,856.89 L272.85,856.85 L273.35,856.82 L273.84,856.78 L274.33,856.75 L274.83,856.71 L275.32,856.68 L275.82,856.65 L276.31,856.61 L276.81,856.58 L277.30,856.55 L277.79,856.52 L278.29,856.50 L278.78,856.47 L279.28,856.44 L279.77,856.41 L280.27,856.39 L280.76,856.36 L281.25,856.34 L281.75,856.31 L282.24,856.29 L282.74,856.26 L283.23,856.24 L283.73,856.22 L284.22,856.20 L284.72,856.18 L285.21,856.16 L285.70,856.14 L286.20,856.12 L286.69,856.10 L287.19,856.08 L287.68,856.06 L288.18,856.05 L288.67,856.03 L289.17,856.01 L289.66,856.00 L290.16,855.98 L290.65,855.97 L291.15,855.95 L291.64,855.94 L292.14,855.92 L292.63,855.91 L293.12,855.90 L293.62,855.88 L294.11,855.87 L294.61,855.86 L295.10,855.85 L295.60,855.84 L296.09,855.83 L296.59,855.82 L297.08,855.81 L297.58,855.80 L298.07,855.79 L298.57,855.78 L299.06,855.77 L299.56,855.76 L300.06,855.75 L300.55,855.74 L301.05,855.73 L301.54,855.73 L302.04,855.72 L302.53,855.71 L303.03,855.70 L303.52,855.70 L304.02,855.69 L304.51,855.68 L305.01,855.68 L305.50,855.67 L306.00,855.67 L306.49,855.66 L306.99,855.65 L307.49,855.65 L307.98,855.64 L308.48,855.64 L308.97,855.63 L309.47,855.63 L309.96,855.62 L310.46,855.62 L310.96,855.61 L311.45,855.61 L311.95,855.60 L312.44,855.60 L312.94,855.59 L313.44,855.59 L313.93,855.58 L314.43,855.57 L314.92,855.57 L315.42,855.56 L315.92,855.56 L316.41,855.55 L316.91,855.55 L317.41,855.54 L317.90,855.54 L318.40,855.53 L318.89,855.53 L319.39,855.52 L319.89,855.52 L320.38,855.51 L320.88,855.51 L321.38,855.50 L321.87,855.49 L322.37,855.49 L322.87,855.48 L323.36,855.48 L323.86,855.47 L324.36,855.47 L324.85,855.46 L325.35,855.45 L325.85,855.45 L326.34,855.44 L326.84,855.44 L327.34,855.43 L327.84,855.42 L328.33,855.42 L328.83,855.41 L329.33,855.41 L329.82,855.40 L330.32,855.39 L330.82,855.39 L331.31,855.38 L331.81,855.37 L332.31,855.37 L332.81,855.36 L333.30,855.36 L333.80,855.35 L334.30,855.34 L334.80,855.34 L335.29,855.33 L335.79,855.32 L336.29,855.32 L336.79,855.31 L337.28,855.30 L337.78,855.30 L338.28,855.29 L338.78,855.28 L339.27,855.28 L339.77,855.27 L340.27,855.26 L340.77,855.26 L341.26,855.25 L341.76,855.24 L342.26,855.24 L342.76,855.23 L343.25,855.22 L343.75,855.22 L344.25,855.21 L344.75,855.20 L345.25,855.19 L345.74,855.19 L346.24,855.18 L346.74,855.17 L347.24,855.17 L347.74,855.16 L348.23,855.15 L348.73,855.15 L349.23,855.14 L349.73,855.13 L350.23,855.12 L350.72,855.12 L351.22,855.11 L351.72,855.10 L352.22,855.10 L352.72,855.09 L353.21,855.08 L353.71,855.07 L354.21,855.07 L354.71,855.06 L355.21,855.05 L355.71,855.05 L356.20,855.04 L356.70,855.03 L357.20,855.02 L357.70,855.02 L358.20,855.01 L358.70,855.00 L359.19,855.00 L359.69,854.99 L360.19,854.98 L360.69,854.97 L361.19,854.97 L361.69,854.96 L362.18,854.95 L362.68,854.95 L363.18,854.94 L363.68,854.93 L364.18,854.92 L364.68,854.92 L365.17,854.91 L365.67,854.90 L366.17,854.89 L366.67,854.89 L367.17,854.88 L367.67,854.87 L368.17,854.87 L368.66,854.86 L369.16,854.85 L369.66,854.84 L370.16,854.84 L370.66,854.83 L371.16,854.82 L371.66,854.82 L372.15,854.81 L372.65,854.80 L373.15,854.79 L373.65,854.79 L374.15,854.78 L374.65,854.77 L375.15,854.77 L375.64,854.76 L376.14,854.75 L376.64,854.74 L377.14,854.74 L377.64,854.73 L378.14,854.72 L378.64,854.72 L379.14,854.71 L379.63,854.70 L380.13,854.70 L380.63,854.69 L381.13,854.68 L381.63,854.68 L382.13,854.67 L382.63,854.66 L383.13,854.65 L383.62,854.65 L384.12,854.64 L384.62,854.63 L385.12,854.63 L385.62,854.62 L386.12,854.61 L386.62,854.61 L387.11,854.60 L387.61,854.59 L388.11,854.59 L388.61,854.58 L389.11,854.57 L389.61,854.57 L390.11,854.56 L390.61,854.55 L391.10,854.55 L391.60,854.54 L392.10,854.54 L392.60,854.53 L393.10,854.52 L393.60,854.52 L394.10,854.51 L394.59,854.50 L395.09,854.50 L395.59,854.49 L396.09,854.48 L396.59,854.48 L397.09,854.47 L397.59,854.47 L398.09,854.46 L398.58,854.45 L399.08,854.45 L399.58,854.44 L400.08,854.44 L400.58,854.43 L401.08,854.43 L401.58,854.42 L402.07,854.41 L402.57,854.41 L403.07,854.40 L403.57,854.40 L404.07,854.39 L404.57,854.39 L405.07,854.38 L405.56,854.37 L406.06,854.37 L406.56,854.36 L407.06,854.36 L407.56,854.35 L408.06,854.35 L408.55,854.34 L409.05,854.34 L409.55,854.33 L410.05,854.33 L410.55,854.32 L411.05,854.32 L411.54,854.31 L412.04,854.31 L412.54,854.30 L413.04,854.30 L413.54,854.29 L414.04,854.29 L414.53,854.28 L415.03,854.28 L415.53,854.27 L416.03,854.27 L416.53,854.26 L417.03,854.26 L417.52,854.25 L418.02,854.25 L418.52,854.25 L419.02,854.24 L419.52,854.24 L420.01,854.23 L420.51,854.23 L421.01,854.22 L421.51,854.22 L422.01,854.22 L422.51,854.21 L423.00,854.21 L423.50,854.20 L424.00,854.20 L424.50,854.20 L425.00,854.19 L425.49,854.19 L425.99,854.18 L426.49,854.18 L426.99,854.18 L427.49,854.17 L427.98,854.17 L428.48,854.17 L428.98,854.16 L429.48,854.16 L429.98,854.15 L430.47,854.15 L430.97,854.15 L431.47,854.14 L431.97,854.14 L432.47,854.14 L432.96,854.13 L433.46,854.13 L433.96,854.13 L434.46,854.12 L434.96,854.12 L435.45,854.12 L435.95,854.11 L436.45,854.11 L436.95,854.11 L437.44,854.11 L437.94,854.10 L438.44,854.10 L438.94,854.10 L439.44,854.09 L439.93,854.09 L440.43,854.09 L440.93,854.08 L441.43,854.08 L441.92,854.08 L442.42,854.08 L442.92,854.07 L443.42,854.07 L443.92,854.07 L444.41,854.07 L444.91,854.06 L445.41,854.06 L445.91,854.06 L446.40,854.05 L446.90,854.05 L447.40,854.05 L447.90,854.05 L448.40,854.05 L448.89,854.04 L449.39,854.04 L449.89,854.04 L450.39,854.04 L450.88,854.03 L451.38,854.03 L451.88,854.03 L452.38,854.03 L452.87,854.02 L453.37,854.02 L453.87,854.02 L454.37,854.02 L454.86,854.02 L455.36,854.01 L455.86,854.01 L456.36,854.01 L456.86,854.01 L457.35,854.01 L457.85,854.00 L458.35,854.00 L458.85,854.00 L459.34,854.00 L459.84,854.00 L460.34,853.99 L460.84,853.99 L461.33,853.99 L461.83,853.99 L462.33,853.99 L462.83,853.98 L463.32,853.98 L463.82,853.98 L464.32,853.98 L464.82,853.98 L465.31,853.98 L465.81,853.97 L466.31,853.97 L466.81,853.97 L467.30,853.97 L467.80,853.97 L468.30,853.97 L468.80,853.96 L469.29,853.96 L469.79,853.96 L470.29,853.96 L470.79,853.96 L471.28,853.96 L471.78,853.96 L472.28,853.95 L472.78,853.95 L473.27,853.95 L473.77,853.95 L474.27,853.95 L474.77,853.95 L475.26,853.95 L475.76,853.95 L476.26,853.94 L476.76,853.94 L477.25,853.94 L477.75,853.94 L478.25,853.94 L478.75,853.94 L479.24,853.94 L479.74,853.94 L480.24,853.93 L480.73,853.93 L481.23,853.93 L481.73,853.93 L482.23,853.93 L482.72,853.93 L483.22,853.93 L483.72,853.93 L484.22,853.92 L484.71,853.92 L485.21,853.92 L485.71,853.92 L486.21,853.92 L486.70,853.92 L487.20,853.92 L487.70,853.92 L488.20,853.92 L488.69,853.92 L489.19,853.91 L489.69,853.91 L490.19,853.91 L490.68,853.91 L491.18,853.91 L491.68,853.91 L492.17,853.91 L492.67,853.91 L493.17,853.91 L493.67,853.91 L494.16,853.91 L494.66,853.90 L495.16,853.90 L495.66,853.90 L496.15,853.90 L496.65,853.90 L497.15,853.90 L497.65,853.90 L498.14,853.90 L498.64,853.90 L499.14,853.90 L499.64,853.90 L500.13,853.89 L500.63,853.89 L501.13,853.89 L501.63,853.89 L502.12,853.89 L502.62,853.89 L503.12,853.89 L503.62,853.89 L504.11,853.89 L504.61,853.89 L505.11,853.89 L505.60,853.89 L506.10,853.88 L506.60,853.88 L507.10,853.88 L507.59,853.88 L508.09,853.88 L508.59,853.88 L509.09,853.88 L509.58,853.88 L510.08,853.88 L510.58,853.88 L511.08,853.88 L511.57,853.88 L512.07,853.88 L512.57,853.87 L513.07,853.87 L513.56,853.87 L514.06,853.87 L514.56,853.87 L515.06,853.87 L515.55,853.87 L516.05,853.87 L516.55,853.87 L517.05,853.87 L517.54,853.87 L518.04,853.87 L518.54,853.86 L519.04,853.86 L519.53,853.86 L520.03,853.86 L520.53,853.86 L521.03,853.86 L521.52,853.86 L522.02,853.86 L522.52,853.86 L523.02,853.86 L523.51,853.86 L524.01,853.86 L524.51,853.85 L525.01,853.85 L525.50,853.85 L526.00,853.85 L526.50,853.85 L527.00,853.85 L527.49,853.85 L527.99,853.85 L528.49,853.85 L528.99,853.85 L529.48,853.85 L529.98,853.84 L530.48,853.84 L530.98,853.84 L531.47,853.84 L531.97,853.84 L532.47,853.84 L532.97,853.84 L533.46,853.84 L533.96,853.84 L534.46,853.84 L534.96,853.83 L535.45,853.83 L535.95,853.83 L536.45,853.83 L536.95,853.83 L537.45,853.83 L537.94,853.83 L538.44,853.83 L538.94,853.83 L539.44,853.82 L539.93,853.82 L540.43,853.82 L540.93,853.82 L541.43,853.82 L541.92,853.82 L542.42,853.82 L542.92,853.82 L543.42,853.81 L543.92,853.81 L544.41,853.81 L544.91,853.81 L545.41,853.81 L545.91,853.81 L546.40,853.81 L546.90,853.81 L547.40,853.80 L547.90,853.80 L548.40,853.80 L548.89,853.80 L549.39,853.80 L549.89,853.80 L550.39,853.80 L550.88,853.79 L551.38,853.79 L551.88,853.79 L552.38,853.79 L552.88,853.79 L553.37,853.79 L553.87,853.78 L554.37,853.78 L554.87,853.78 L555.37,853.78 L555.86,853.78 L556.36,853.78 L556.86,853.77 L557.36,853.77 L557.86,853.77 L558.35,853.77 L558.85,853.77 L559.35,853.77 L559.85,853.76 L560.35,853.76 L560.84,853.76 L561.34,853.76 L561.84,853.76 L562.34,853.75 L562.84,853.75 L563.33,853.75 L563.83,853.75 L564.33,853.75 L564.83,853.74 L565.33,853.74 L565.82,853.74 L566.32,853.74 L566.82,853.74 L567.32,853.73 L567.82,853.73 L568.31,853.73 L568.81,853.73 L569.31,853.72 L569.81,853.72 L570.31,853.72 L570.81,853.72 L571.30,853.72 L571.80,853.71 L572.30,853.71 L572.80,853.71 L573.30,853.71 L573.79,853.70 L574.29,853.70 L574.79,853.70 L575.29,853.70 L575.79,853.69 L576.29,853.69 L576.78,853.69 L577.28,853.68 L577.78,853.68 L578.28,853.68 L578.78,853.68 L579.28,853.67 L579.78,853.67 L580.27,853.67 L580.77,853.66 L581.27,853.66 L581.77,853.66 L582.27,853.66 L582.77,853.65 L583.26,853.65 L583.76,853.65 L584.26,853.64 L584.76,853.64 L585.26,853.64 L585.76,853.63 L586.26,853.63 L586.75,853.63 L587.25,853.62 L587.75,853.62 L588.25,853.62 L588.75,853.61 L589.25,853.61 L589.75,853.61 L590.24,853.60 L590.74,853.60 L591.24,853.60 L591.74,853.59 L592.24,853.59 L592.74,853.59 L593.24,853.58 L593.74,853.58 L594.23,853.57 L594.73,853.57 L595.23,853.57 L595.73,853.56 L596.23,853.56 L596.73,853.55 L597.23,853.55 L597.73,853.55 L598.23,853.54" class="cdf"/>
<line x1="94.0" y1="1197.9" x2="94.0" y2="1192.3" class="tk"/>
<line x1="189.6" y1="1197.9" x2="189.6" y2="1192.3" class="tk"/>
<line x1="285.2" y1="1197.9" x2="285.2" y2="1192.3" class="tk"/>
<line x1="380.8" y1="1197.9" x2="380.8" y2="1192.3" class="tk"/>
<line x1="476.4" y1="1197.9" x2="476.4" y2="1192.3" class="tk"/>
<line x1="572.0" y1="1197.9" x2="572.0" y2="1192.3" class="tk"/>
<line x1="94.0" y1="1197.9" x2="99.6" y2="1197.9" class="tk"/>
<line x1="94.0" y1="1128.9" x2="99.6" y2="1128.9" class="tk"/>
<line x1="94.0" y1="1059.9" x2="99.6" y2="1059.9" class="tk"/>
<line x1="94.0" y1="990.8" x2="99.6" y2="990.8" class="tk"/>
<line x1="94.0" y1="921.8" x2="99.6" y2="921.8" class="tk"/>
<line x1="94.0" y1="852.8" x2="99.6" y2="852.8" class="tk"/>
<rect x="94.0" y="852.8" width="526.0" height="345.1" class="frm"/>
<text x="94.0" y="1221.1" text-anchor="middle" class="tl">0</text>
<text x="189.6" y="1221.1" text-anchor="middle" class="tl">2</text>
<text x="285.2" y="1221.1" text-anchor="middle" class="tl">4</text>
<text x="380.8" y="1221.1" text-anchor="middle" class="tl">6</text>
<text x="476.4" y="1221.1" text-anchor="middle" class="tl">8</text>
<text x="572.0" y="1221.1" text-anchor="middle" class="tl">10</text>
<text x="89.0" y="1204.4" text-anchor="end" class="tl">0.0</text>
<text x="89.0" y="1135.4" text-anchor="end" class="tl">0.2</text>
<text x="89.0" y="1066.4" text-anchor="end" class="tl">0.4</text>
<text x="89.0" y="997.3" text-anchor="end" class="tl">0.6</text>
<text x="89.0" y="928.3" text-anchor="end" class="tl">0.8</text>
<text x="89.0" y="859.3" text-anchor="end" class="tl">1.0</text>
<text x="442.0" y="937.1" style="fill:#000"><tspan font-style="italic">EF</tspan> (31.68%)<tspan class="lt">＜</tspan>1</text>
<text x="406.1" y="970.4" style="fill:#000">1 ≤ <tspan font-style="italic">EF</tspan> (51.49%)<tspan class="lt">＜</tspan>2</text>
<text x="406.1" y="1002.9" style="fill:#000">2 ≤ <tspan font-style="italic">EF</tspan> (9.90%)<tspan class="lt">＜</tspan>5</text>
<text x="407.1" y="1034.2" style="fill:#000">5 ≤ <tspan font-style="italic">EF</tspan> (6.93%)<tspan class="lt">＜</tspan>20</text>
<text x="443.7" y="1105.2" style="fill:#1a1aff">Simulated:1.35</text>
<text x="443.7" y="1155.7" style="fill:#36a844">Detected:1.35</text>
<text x="610.6" y="888.6" text-anchor="end" class="plab">(g)</text>
<text x="357.0" y="1250.2" text-anchor="middle"><tspan font-style="italic">EF</tspan> (Pb)</text>
<text transform="translate(42.5,1024.3) rotate(-90)" text-anchor="middle">Cumulative probability</text>
</g>
<g>
<rect x="889.2" y="855.9" width="174.5" height="342.0" fill="#e7e9fe"/>
<rect x="1063.7" y="855.9" width="173.2" height="342.0" fill="#e5eee9"/>
<line x1="889.2" y1="854.3" x2="889.2" y2="1196.4" class="dsh"/>
<line x1="1063.7" y1="854.3" x2="1063.7" y2="1196.4" class="dsh"/>
<line x1="905.1" y1="852.8" x2="905.1" y2="1197.9" stroke="#0000ff" stroke-width="2.8"/>
<line x1="910.6" y1="852.8" x2="910.6" y2="1197.9" stroke="#3ea442" stroke-width="2.8"/>
<path d="M789.94,1197.03 L790.31,1197.02 L790.68,1197.01 L791.05,1197.00 L791.43,1196.99 L791.80,1196.98 L792.18,1196.97 L792.56,1196.96 L792.94,1196.96 L793.32,1196.95 L793.70,1196.95 L794.08,1196.94 L794.46,1196.94 L794.85,1196.94 L795.24,1196.94 L795.62,1196.93 L796.01,1196.93 L796.40,1196.93 L796.79,1196.93 L797.18,1196.93 L797.57,1196.94 L797.97,1196.94 L798.36,1196.94 L798.75,1196.94 L799.15,1196.94 L799.55,1196.95 L799.94,1196.95 L800.34,1196.95 L800.74,1196.95 L801.14,1196.95 L801.54,1196.96 L801.93,1196.96 L802.33,1196.96 L802.74,1196.96 L803.14,1196.96 L803.54,1196.96 L803.94,1196.97 L804.34,1196.97 L804.74,1196.97 L805.15,1196.96 L805.55,1196.96 L805.95,1196.96 L806.36,1196.96 L806.76,1196.96 L807.16,1196.95 L807.57,1196.95 L807.97,1196.94 L808.38,1196.93 L808.78,1196.93 L809.18,1196.92 L809.59,1196.91 L809.99,1196.90 L810.39,1196.89 L810.80,1196.88 L811.20,1196.86 L811.60,1196.85 L812.01,1196.83 L812.41,1196.81 L812.81,1196.79 L813.21,1196.77 L813.61,1196.75 L814.01,1196.73 L814.41,1196.70 L814.81,1196.68 L815.21,1196.65 L815.61,1196.62 L816.01,1196.59 L816.41,1196.55 L816.80,1196.52 L817.20,1196.48 L817.59,1196.44 L817.99,1196.40 L818.38,1196.36 L818.78,1196.31 L819.17,1196.27 L819.56,1196.22 L819.95,1196.17 L820.34,1196.11 L820.73,1196.06 L821.12,1196.00 L821.50,1195.94 L821.89,1195.87 L822.27,1195.81 L822.65,1195.74 L823.04,1195.67 L823.42,1195.60 L823.80,1195.52 L824.17,1195.44 L824.55,1195.36 L824.93,1195.28 L825.30,1195.19 L825.67,1195.10 L826.05,1195.01 L826.42,1194.91 L826.78,1194.81 L827.15,1194.71 L827.52,1194.61 L827.88,1194.50 L828.24,1194.39 L828.60,1194.27 L828.96,1194.15 L829.32,1194.03 L829.67,1193.91 L830.03,1193.78 L830.38,1193.65 L830.73,1193.52 L831.08,1193.38 L831.42,1193.24 L831.77,1193.09 L832.11,1192.94 L832.45,1192.79 L832.79,1192.63 L833.13,1192.47 L833.46,1192.31 L833.79,1192.14 L834.12,1191.97 L834.45,1191.80 L834.78,1191.62 L835.11,1191.44 L835.43,1191.26 L835.75,1191.07 L836.07,1190.88 L836.39,1190.69 L836.70,1190.49 L837.02,1190.30 L837.33,1190.09 L837.64,1189.89 L837.95,1189.68 L838.26,1189.47 L838.56,1189.26 L838.87,1189.04 L839.17,1188.82 L839.47,1188.60 L839.77,1188.37 L840.06,1188.15 L840.36,1187.92 L840.65,1187.68 L840.94,1187.45 L841.23,1187.21 L841.52,1186.97 L841.81,1186.73 L842.09,1186.48 L842.38,1186.23 L842.66,1185.98 L842.94,1185.73 L843.22,1185.48 L843.49,1185.22 L843.77,1184.96 L844.04,1184.70 L844.31,1184.43 L844.59,1184.17 L844.85,1183.90 L845.12,1183.63 L845.39,1183.36 L845.65,1183.08 L845.91,1182.81 L846.17,1182.53 L846.43,1182.25 L846.69,1181.97 L846.95,1181.69 L847.20,1181.40 L847.46,1181.11 L847.71,1180.83 L847.96,1180.54 L848.21,1180.24 L848.46,1179.95 L848.70,1179.66 L848.95,1179.36 L849.19,1179.06 L849.43,1178.76 L849.67,1178.46 L849.91,1178.16 L850.15,1177.86 L850.38,1177.55 L850.62,1177.25 L850.85,1176.94 L851.09,1176.63 L851.32,1176.32 L851.55,1176.01 L851.77,1175.70 L852.00,1175.39 L852.23,1175.07 L852.45,1174.76 L852.67,1174.44 L852.89,1174.13 L853.11,1173.81 L853.33,1173.49 L853.55,1173.17 L853.77,1172.85 L853.98,1172.53 L854.20,1172.21 L854.41,1171.89 L854.62,1171.57 L854.83,1171.24 L855.04,1170.92 L855.25,1170.59 L855.45,1170.27 L855.66,1169.94 L855.86,1169.62 L856.07,1169.29 L856.27,1168.96 L856.47,1168.63 L856.67,1168.30 L856.87,1167.97 L857.06,1167.64 L857.26,1167.31 L857.45,1166.98 L857.65,1166.65 L857.84,1166.32 L858.03,1165.98 L858.22,1165.65 L858.41,1165.31 L858.60,1164.98 L858.79,1164.64 L858.97,1164.30 L859.16,1163.97 L859.34,1163.63 L859.52,1163.29 L859.71,1162.95 L859.89,1162.61 L860.07,1162.27 L860.24,1161.93 L860.42,1161.59 L860.60,1161.25 L860.77,1160.90 L860.95,1160.56 L861.12,1160.22 L861.29,1159.87 L861.46,1159.53 L861.63,1159.18 L861.80,1158.84 L861.97,1158.49 L862.14,1158.14 L862.31,1157.79 L862.47,1157.45 L862.64,1157.10 L862.80,1156.75 L862.96,1156.40 L863.12,1156.05 L863.28,1155.70 L863.44,1155.35 L863.60,1155.00 L863.76,1154.64 L863.92,1154.29 L864.07,1153.94 L864.23,1153.58 L864.38,1153.23 L864.54,1152.88 L864.69,1152.52 L864.84,1152.17 L864.99,1151.81 L865.14,1151.45 L865.29,1151.10 L865.44,1150.74 L865.59,1150.38 L865.74,1150.02 L865.88,1149.66 L866.03,1149.31 L866.17,1148.95 L866.31,1148.59 L866.46,1148.23 L866.60,1147.87 L866.74,1147.50 L866.88,1147.14 L867.02,1146.78 L867.16,1146.42 L867.30,1146.06 L867.43,1145.69 L867.57,1145.33 L867.71,1144.96 L867.84,1144.60 L867.98,1144.24 L868.11,1143.87 L868.24,1143.51 L868.38,1143.14 L868.51,1142.77 L868.64,1142.41 L868.77,1142.04 L868.90,1141.67 L869.03,1141.31 L869.16,1140.94 L869.28,1140.57 L869.41,1140.20 L869.54,1139.83 L869.66,1139.46 L869.79,1139.09 L869.91,1138.72 L870.04,1138.35 L870.16,1137.98 L870.28,1137.61 L870.40,1137.24 L870.52,1136.87 L870.65,1136.50 L870.77,1136.13 L870.88,1135.76 L871.00,1135.38 L871.12,1135.01 L871.24,1134.64 L871.36,1134.27 L871.47,1133.89 L871.59,1133.52 L871.71,1133.14 L871.82,1132.77 L871.94,1132.40 L872.05,1132.02 L872.17,1131.65 L872.28,1131.27 L872.39,1130.90 L872.50,1130.52 L872.62,1130.14 L872.73,1129.77 L872.84,1129.39 L872.95,1129.02 L873.06,1128.64 L873.17,1128.26 L873.28,1127.89 L873.39,1127.51 L873.49,1127.13 L873.60,1126.75 L873.71,1126.38 L873.82,1126.00 L873.92,1125.62 L874.03,1125.24 L874.14,1124.86 L874.24,1124.48 L874.35,1124.11 L874.45,1123.73 L874.56,1123.35 L874.66,1122.97 L874.76,1122.59 L874.87,1122.21 L874.97,1121.83 L875.07,1121.45 L875.18,1121.07 L875.28,1120.69 L875.38,1120.31 L875.48,1119.93 L875.58,1119.55 L875.68,1119.17 L875.78,1118.79 L875.88,1118.41 L875.98,1118.03 L876.08,1117.65 L876.18,1117.27 L876.28,1116.89 L876.38,1116.51 L876.48,1116.13 L876.58,1115.74 L876.68,1115.36 L876.78,1114.98 L876.87,1114.60 L876.97,1114.22 L877.07,1113.84 L877.17,1113.46 L877.27,1113.08 L877.36,1112.70 L877.46,1112.31 L877.56,1111.93 L877.65,1111.55 L877.75,1111.17 L877.85,1110.79 L877.94,1110.41 L878.04,1110.03 L878.13,1109.64 L878.23,1109.26 L878.33,1108.88 L878.42,1108.50 L878.52,1108.12 L878.61,1107.74 L878.71,1107.36 L878.80,1106.98 L878.90,1106.59 L878.99,1106.21 L879.09,1105.83 L879.18,1105.45 L879.28,1105.07 L879.37,1104.69 L879.47,1104.31 L879.56,1103.93 L879.66,1103.55 L879.75,1103.17 L879.85,1102.79 L879.94,1102.40 L880.04,1102.02 L880.13,1101.64 L880.23,1101.26 L880.32,1100.88 L880.42,1100.50 L880.51,1100.12 L880.61,1099.74 L880.70,1099.36 L880.80,1098.98 L880.89,1098.60 L880.99,1098.23 L881.08,1097.85 L881.18,1097.47 L881.27,1097.09 L881.37,1096.71 L881.46,1096.33 L881.56,1095.95 L881.65,1095.57 L881.75,1095.19 L881.84,1094.81 L881.94,1094.43 L882.03,1094.06 L882.13,1093.68 L882.22,1093.30 L882.32,1092.92 L882.41,1092.54 L882.51,1092.16 L882.60,1091.79 L882.70,1091.41 L882.79,1091.03 L882.89,1090.65 L882.98,1090.27 L883.08,1089.90 L883.18,1089.52 L883.27,1089.14 L883.37,1088.76 L883.46,1088.39 L883.56,1088.01 L883.65,1087.63 L883.75,1087.25 L883.85,1086.88 L883.94,1086.50 L884.04,1086.12 L884.13,1085.75 L884.23,1085.37 L884.32,1084.99 L884.42,1084.62 L884.52,1084.24 L884.61,1083.86 L884.71,1083.49 L884.81,1083.11 L884.90,1082.73 L885.00,1082.36 L885.09,1081.98 L885.19,1081.61 L885.29,1081.23 L885.38,1080.85 L885.48,1080.48 L885.58,1080.10 L885.67,1079.73 L885.77,1079.35 L885.87,1078.98 L885.96,1078.60 L886.06,1078.23 L886.16,1077.85 L886.26,1077.47 L886.35,1077.10 L886.45,1076.72 L886.55,1076.35 L886.64,1075.97 L886.74,1075.60 L886.84,1075.23 L886.94,1074.85 L887.03,1074.48 L887.13,1074.10 L887.23,1073.73 L887.33,1073.35 L887.43,1072.98 L887.52,1072.60 L887.62,1072.23 L887.72,1071.86 L887.82,1071.48 L887.92,1071.11 L888.01,1070.73 L888.11,1070.36 L888.21,1069.99 L888.31,1069.61 L888.41,1069.24 L888.51,1068.87 L888.61,1068.49 L888.70,1068.12 L888.80,1067.75 L888.90,1067.37 L889.00,1067.00 L889.10,1066.63 L889.20,1066.25 L889.30,1065.88 L889.40,1065.51 L889.50,1065.13 L889.60,1064.76 L889.70,1064.39 L889.80,1064.02 L889.90,1063.64 L890.00,1063.27 L890.10,1062.90 L890.20,1062.53 L890.30,1062.15 L890.40,1061.78 L890.50,1061.41 L890.60,1061.04 L890.70,1060.67 L890.80,1060.29 L890.90,1059.92 L891.00,1059.55 L891.10,1059.18 L891.21,1058.81 L891.31,1058.44 L891.41,1058.06 L891.51,1057.69 L891.61,1057.32 L891.71,1056.95 L891.82,1056.58 L891.92,1056.21 L892.02,1055.84 L892.12,1055.47 L892.22,1055.09 L892.33,1054.72 L892.43,1054.35 L892.53,1053.98 L892.63,1053.61 L892.74,1053.24 L892.84,1052.87 L892.94,1052.50 L893.05,1052.13 L893.15,1051.76 L893.25,1051.39 L893.36,1051.02 L893.46,1050.65 L893.56,1050.28 L893.67,1049.91 L893.77,1049.54 L893.88,1049.17 L893.98,1048.80 L894.09,1048.43 L894.19,1048.06 L894.29,1047.69 L894.40,1047.32 L894.50,1046.95 L894.61,1046.58 L894.71,1046.21 L894.82,1045.84 L894.93,1045.47 L895.03,1045.10 L895.14,1044.73 L895.24,1044.36 L895.35,1043.99 L895.46,1043.62 L895.56,1043.25 L895.67,1042.89 L895.77,1042.52 L895.88,1042.15 L895.99,1041.78 L896.10,1041.41 L896.20,1041.04 L896.31,1040.67 L896.42,1040.30 L896.52,1039.94 L896.63,1039.57 L896.74,1039.20 L896.85,1038.83 L896.96,1038.46 L897.07,1038.09 L897.17,1037.73 L897.28,1037.36 L897.39,1036.99 L897.50,1036.62 L897.61,1036.25 L897.72,1035.89 L897.83,1035.52 L897.94,1035.15 L898.05,1034.78 L898.16,1034.41 L898.27,1034.05 L898.38,1033.68 L898.49,1033.31 L898.60,1032.94 L898.71,1032.58 L898.82,1032.21 L898.93,1031.84 L899.04,1031.47 L899.15,1031.11 L899.27,1030.74 L899.38,1030.37 L899.49,1030.01 L899.60,1029.64 L899.71,1029.27 L899.83,1028.90 L899.94,1028.54 L900.05,1028.17 L900.16,1027.80 L900.28,1027.44 L900.39,1027.07 L900.50,1026.70 L900.62,1026.34 L900.73,1025.97 L900.85,1025.60 L900.96,1025.24 L901.07,1024.87 L901.19,1024.51 L901.30,1024.14 L901.42,1023.77 L901.53,1023.41 L901.65,1023.04 L901.76,1022.67 L901.88,1022.31 L902.00,1021.94 L902.11,1021.58 L902.23,1021.21 L902.34,1020.84 L902.46,1020.48 L902.58,1020.11 L902.69,1019.75 L902.81,1019.38 L902.93,1019.02 L903.05,1018.65 L903.16,1018.28 L903.28,1017.92 L903.40,1017.55 L903.52,1017.19 L903.64,1016.82 L903.76,1016.46 L903.87,1016.09 L903.99,1015.73 L904.11,1015.36 L904.23,1015.00 L904.35,1014.63 L904.47,1014.27 L904.59,1013.90 L904.71,1013.54 L904.83,1013.17 L904.95,1012.81 L905.08,1012.44 L905.20,1012.08 L905.32,1011.71 L905.44,1011.35 L905.56,1010.98 L905.68,1010.62 L905.81,1010.25 L905.93,1009.89 L906.05,1009.53 L906.17,1009.16 L906.30,1008.80 L906.42,1008.43 L906.54,1008.07 L906.67,1007.70 L906.79,1007.34 L906.92,1006.98 L907.04,1006.61 L907.17,1006.25 L907.29,1005.88 L907.42,1005.52 L907.54,1005.15 L907.67,1004.79 L907.79,1004.43 L907.92,1004.06 L908.05,1003.70 L908.17,1003.34 L908.30,1002.97 L908.43,1002.61 L908.55,1002.24 L908.68,1001.88 L908.81,1001.52 L908.94,1001.15 L909.06,1000.79 L909.19,1000.43 L909.32,1000.06 L909.45,999.70 L909.58,999.34 L909.71,998.97 L909.84,998.61 L909.97,998.25 L910.10,997.88 L910.23,997.52 L910.36,997.16 L910.49,996.79 L910.62,996.43 L910.75,996.07 L910.88,995.70 L911.02,995.34 L911.15,994.98 L911.28,994.62 L911.41,994.25 L911.55,993.89 L911.68,993.53 L911.81,993.16 L911.95,992.80 L912.08,992.44 L912.21,992.08 L912.35,991.71 L912.48,991.35 L912.62,990.99 L912.75,990.62 L912.89,990.26 L913.02,989.90 L913.16,989.54 L913.30,989.17 L913.43,988.81 L913.57,988.45 L913.71,988.09 L913.84,987.73 L913.98,987.36 L914.12,987.00 L914.26,986.64 L914.40,986.28 L914.54,985.91 L914.67,985.55 L914.81,985.19 L914.95,984.83 L915.09,984.47 L915.23,984.10 L915.37,983.74 L915.51,983.38 L915.65,983.02 L915.80,982.66 L915.94,982.29 L916.08,981.93 L916.22,981.57 L916.36,981.21 L916.51,980.85 L916.65,980.49 L916.79,980.12 L916.93,979.76 L917.08,979.40 L917.22,979.04 L917.37,978.68 L917.51,978.32 L917.66,977.95 L917.80,977.59 L917.95,977.23 L918.09,976.87 L918.24,976.51 L918.38,976.15 L918.53,975.78 L918.68,975.42 L918.83,975.06 L918.97,974.70 L919.12,974.34 L919.27,973.98 L919.42,973.62 L919.57,973.26 L919.71,972.89 L919.86,972.53 L920.01,972.17 L920.16,971.81 L920.31,971.45 L920.46,971.09 L920.61,970.73 L920.77,970.37 L920.92,970.01 L921.07,969.64 L921.22,969.28 L921.37,968.92 L921.53,968.56 L921.68,968.20 L921.83,967.84 L921.99,967.48 L922.14,967.12 L922.29,966.76 L922.45,966.40 L922.60,966.04 L922.76,965.67 L922.91,965.31 L923.07,964.95 L923.23,964.59 L923.38,964.23 L923.54,963.87 L923.70,963.51 L923.86,963.15 L924.01,962.79 L924.17,962.43 L924.33,962.07 L924.49,961.71 L924.65,961.35 L924.81,960.99 L924.97,960.63 L925.13,960.27 L925.29,959.91 L925.45,959.55 L925.61,959.19 L925.77,958.83 L925.93,958.47 L926.10,958.11 L926.26,957.75 L926.42,957.39 L926.59,957.03 L926.75,956.67 L926.91,956.31 L927.08,955.96 L927.24,955.60 L927.41,955.24 L927.57,954.88 L927.74,954.52 L927.91,954.16 L928.07,953.81 L928.24,953.45 L928.41,953.09 L928.58,952.73 L928.74,952.38 L928.91,952.02 L929.08,951.66 L929.25,951.30 L929.42,950.95 L929.59,950.59 L929.76,950.24 L929.93,949.88 L930.10,949.52 L930.28,949.17 L930.45,948.81 L930.62,948.46 L930.79,948.10 L930.97,947.75 L931.14,947.39 L931.32,947.04 L931.49,946.68 L931.67,946.33 L931.84,945.97 L932.02,945.62 L932.19,945.27 L932.37,944.91 L932.55,944.56 L932.73,944.21 L932.90,943.86 L933.08,943.50 L933.26,943.15 L933.44,942.80 L933.62,942.45 L933.80,942.10 L933.98,941.75 L934.16,941.40 L934.34,941.05 L934.53,940.70 L934.71,940.35 L934.89,940.00 L935.08,939.65 L935.26,939.30 L935.44,938.95 L935.63,938.60 L935.81,938.25 L936.00,937.91 L936.18,937.56 L936.37,937.21 L936.56,936.86 L936.75,936.52 L936.93,936.17 L937.12,935.83 L937.31,935.48 L937.50,935.13 L937.69,934.79 L937.88,934.45 L938.07,934.10 L938.26,933.76 L938.45,933.41 L938.65,933.07 L938.84,932.73 L939.03,932.39 L939.23,932.04 L939.42,931.70 L939.61,931.36 L939.81,931.02 L940.01,930.68 L940.20,930.34 L940.40,930.00 L940.60,929.66 L940.79,929.32 L940.99,928.98 L941.19,928.64 L941.39,928.31 L941.59,927.97 L941.79,927.63 L941.99,927.30 L942.19,926.96 L942.39,926.62 L942.59,926.29 L942.80,925.95 L943.00,925.62 L943.20,925.29 L943.41,924.95 L943.61,924.62 L943.82,924.29 L944.03,923.96 L944.23,923.62 L944.44,923.29 L944.65,922.96 L944.85,922.63 L945.06,922.30 L945.27,921.97 L945.48,921.64 L945.69,921.31 L945.90,920.99 L946.11,920.66 L946.33,920.33 L946.54,920.01 L946.75,919.68 L946.96,919.35 L947.18,919.03 L947.39,918.71 L947.61,918.38 L947.82,918.06 L948.04,917.74 L948.26,917.41 L948.47,917.09 L948.69,916.77 L948.91,916.45 L949.13,916.13 L949.35,915.81 L949.57,915.49 L949.79,915.17 L950.01,914.85 L950.23,914.54 L950.46,914.22 L950.68,913.90 L950.90,913.59 L951.13,913.27 L951.35,912.96 L951.58,912.64 L951.80,912.33 L952.03,912.02 L952.26,911.71 L952.49,911.39 L952.72,911.08 L952.94,910.77 L953.17,910.46 L953.40,910.15 L953.64,909.84 L953.87,909.54 L954.10,909.23 L954.33,908.92 L954.56,908.62 L954.80,908.31 L955.03,908.01 L955.27,907.70 L955.50,907.40 L955.74,907.10 L955.98,906.79 L956.22,906.49 L956.45,906.19 L956.69,905.89 L956.93,905.59 L957.17,905.29 L957.41,904.99 L957.66,904.70 L957.90,904.40 L958.14,904.10 L958.38,903.81 L958.63,903.51 L958.87,903.22 L959.12,902.92 L959.36,902.63 L959.61,902.34 L959.86,902.05 L960.11,901.76 L960.35,901.47 L960.60,901.18 L960.85,900.89 L961.10,900.60 L961.36,900.31 L961.61,900.03 L961.86,899.74 L962.11,899.46 L962.37,899.17 L962.62,898.89 L962.88,898.61 L963.13,898.32 L963.39,898.04 L963.65,897.76 L963.90,897.48 L964.16,897.20 L964.42,896.93 L964.68,896.65 L964.94,896.37 L965.21,896.10 L965.47,895.82 L965.73,895.55 L965.99,895.27 L966.26,895.00 L966.52,894.73 L966.79,894.46 L967.05,894.19 L967.32,893.92 L967.59,893.65 L967.86,893.38 L968.13,893.11 L968.40,892.85 L968.67,892.58 L968.94,892.32 L969.21,892.05 L969.48,891.79 L969.76,891.53 L970.03,891.27 L970.31,891.01 L970.58,890.75 L970.86,890.49 L971.13,890.23 L971.41,889.98 L971.69,889.72 L971.97,889.46 L972.25,889.21 L972.53,888.96 L972.81,888.70 L973.09,888.45 L973.38,888.20 L973.66,887.95 L973.94,887.70 L974.23,887.46 L974.52,887.21 L974.80,886.96 L975.09,886.72 L975.38,886.47 L975.67,886.23 L975.96,885.99 L976.25,885.74 L976.54,885.50 L976.83,885.26 L977.12,885.03 L977.42,884.79 L977.71,884.55 L978.01,884.31 L978.30,884.08 L978.60,883.85 L978.89,883.61 L979.19,883.38 L979.49,883.15 L979.79,882.92 L980.09,882.69 L980.39,882.46 L980.70,882.23 L981.00,882.01 L981.30,881.78 L981.61,881.56 L981.91,881.33 L982.22,881.11 L982.52,880.89 L982.83,880.67 L983.14,880.45 L983.45,880.23 L983.76,880.01 L984.07,879.80 L984.38,879.58 L984.69,879.37 L985.01,879.16 L985.32,878.94 L985.64,878.73 L985.95,878.52 L986.27,878.31 L986.58,878.10 L986.90,877.90 L987.22,877.69 L987.54,877.49 L987.86,877.28 L988.18,877.08 L988.51,876.88 L988.83,876.68 L989.15,876.48 L989.48,876.28 L989.80,876.08 L990.13,875.89 L990.46,875.69 L990.78,875.50 L991.11,875.30 L991.44,875.11 L991.77,874.92 L992.11,874.73 L992.44,874.54 L992.77,874.36 L993.10,874.17 L993.44,873.98 L993.78,873.80 L994.11,873.62 L994.45,873.43 L994.79,873.25 L995.13,873.07 L995.46,872.89 L995.81,872.72 L996.15,872.54 L996.49,872.36 L996.83,872.19 L997.17,872.02 L997.52,871.84 L997.86,871.67 L998.21,871.50 L998.55,871.33 L998.90,871.16 L999.25,871.00 L999.60,870.83 L999.95,870.67 L1000.30,870.50 L1000.65,870.34 L1001.00,870.18 L1001.35,870.02 L1001.70,869.86 L1002.06,869.70 L1002.41,869.54 L1002.76,869.38 L1003.12,869.23 L1003.48,869.07 L1003.83,868.92 L1004.19,868.76 L1004.55,868.61 L1004.90,868.46 L1005.26,868.31 L1005.62,868.16 L1005.98,868.02 L1006.34,867.87 L1006.71,867.72 L1007.07,867.58 L1007.43,867.43 L1007.79,867.29 L1008.16,867.15 L1008.52,867.01 L1008.88,866.87 L1009.25,866.73 L1009.62,866.59 L1009.98,866.45 L1010.35,866.32 L1010.72,866.18 L1011.08,866.05 L1011.45,865.91 L1011.82,865.78 L1012.19,865.65 L1012.56,865.52 L1012.93,865.39 L1013.30,865.26 L1013.67,865.13 L1014.04,865.01 L1014.42,864.88 L1014.79,864.76 L1015.16,864.63 L1015.53,864.51 L1015.91,864.39 L1016.28,864.27 L1016.66,864.15 L1017.03,864.03 L1017.41,863.91 L1017.78,863.79 L1018.16,863.67 L1018.54,863.56 L1018.91,863.44 L1019.29,863.33 L1019.67,863.22 L1020.05,863.10 L1020.43,862.99 L1020.81,862.88 L1021.18,862.77 L1021.56,862.66 L1021.94,862.56 L1022.32,862.45 L1022.71,862.34 L1023.09,862.24 L1023.47,862.13 L1023.85,862.03 L1024.23,861.93 L1024.61,861.83 L1025.00,861.72 L1025.38,861.62 L1025.76,861.53 L1026.14,861.43 L1026.53,861.33 L1026.91,861.23 L1027.29,861.14 L1027.68,861.04 L1028.06,860.95 L1028.45,860.85 L1028.83,860.76 L1029.22,860.67 L1029.60,860.58 L1029.99,860.49 L1030.37,860.40 L1030.76,860.31 L1031.15,860.22 L1031.53,860.14 L1031.92,860.05 L1032.31,859.97 L1032.69,859.88 L1033.08,859.80 L1033.47,859.71 L1033.85,859.63 L1034.24,859.55 L1034.63,859.47 L1035.02,859.39 L1035.40,859.31 L1035.79,859.23 L1036.18,859.16 L1036.57,859.08 L1036.96,859.00 L1037.34,858.93 L1037.73,858.85 L1038.12,858.78 L1038.51,858.71 L1038.90,858.64 L1039.29,858.56 L1039.67,858.49 L1040.06,858.42 L1040.45,858.36 L1040.84,858.29 L1041.23,858.22 L1041.62,858.15 L1042.01,858.09 L1042.40,858.02 L1042.78,857.96 L1043.17,857.89 L1043.56,857.83 L1043.95,857.77 L1044.34,857.70 L1044.73,857.64 L1045.12,857.58 L1045.51,857.52 L1045.89,857.46 L1046.28,857.41 L1046.67,857.35 L1047.06,857.29 L1047.45,857.24 L1047.84,857.18 L1048.22,857.13 L1048.61,857.07 L1049.00,857.02 L1049.39,856.96 L1049.78,856.91 L1050.16,856.86 L1050.55,856.81 L1050.94,856.76 L1051.33,856.71 L1051.71,856.66 L1052.10,856.61 L1052.49,856.57 L1052.88,856.52 L1053.26,856.47 L1053.65,856.43 L1054.04,856.38 L1054.42,856.34 L1054.81,856.29 L1055.20,856.25 L1055.58,856.21 L1055.97,856.17 L1056.36,856.13 L1056.74,856.08 L1057.13,856.04 L1057.52,856.00 L1057.90,855.97 L1058.29,855.93 L1058.67,855.89 L1059.06,855.85 L1059.45,855.82 L1059.83,855.78 L1060.22,855.74 L1060.60,855.71 L1060.99,855.67 L1061.37,855.64 L1061.76,855.61 L1062.14,855.57 L1062.53,855.54 L1062.92,855.51 L1063.30,855.48 L1063.69,855.45 L1064.07,855.42 L1064.46,855.39 L1064.84,855.36 L1065.23,855.33 L1065.61,855.30 L1066.00,855.28 L1066.38,855.25 L1066.77,855.22 L1067.15,855.20 L1067.53,855.17 L1067.92,855.14 L1068.30,855.12 L1068.69,855.10 L1069.07,855.07 L1069.46,855.05 L1069.84,855.03 L1070.23,855.00 L1070.61,854.98 L1070.99,854.96 L1071.38,854.94 L1071.76,854.92 L1072.15,854.90 L1072.53,854.88 L1072.91,854.86 L1073.30,854.84 L1073.68,854.82 L1074.07,854.80 L1074.45,854.79 L1074.83,854.77 L1075.22,854.75 L1075.60,854.73 L1075.99,854.72 L1076.37,854.70 L1076.75,854.69 L1077.14,854.67 L1077.52,854.66 L1077.90,854.64 L1078.29,854.63 L1078.67,854.62 L1079.06,854.60 L1079.44,854.59 L1079.82,854.58 L1080.21,854.57 L1080.59,854.55 L1080.97,854.54 L1081.36,854.53 L1081.74,854.52 L1082.12,854.51 L1082.51,854.50 L1082.89,854.49 L1083.27,854.48 L1083.66,854.47 L1084.04,854.46 L1084.42,854.46 L1084.81,854.45 L1085.19,854.44 L1085.57,854.43 L1085.96,854.42 L1086.34,854.42 L1086.72,854.41 L1087.11,854.40 L1087.49,854.40 L1087.87,854.39 L1088.26,854.39 L1088.64,854.38 L1089.02,854.38 L1089.40,854.37 L1089.79,854.37 L1090.17,854.36 L1090.55,854.36 L1090.94,854.35 L1091.32,854.35 L1091.70,854.35 L1092.09,854.34 L1092.47,854.34 L1092.85,854.34 L1093.24,854.33 L1093.62,854.33 L1094.00,854.33 L1094.39,854.33 L1094.77,854.33 L1095.15,854.32 L1095.54,854.32 L1095.92,854.32 L1096.30,854.32 L1096.69,854.32 L1097.07,854.32 L1097.45,854.32 L1097.84,854.32 L1098.22,854.32 L1098.60,854.32 L1098.99,854.32 L1099.37,854.32 L1099.75,854.32 L1100.14,854.32 L1100.52,854.32 L1100.90,854.32 L1101.29,854.32 L1101.67,854.32 L1102.05,854.32 L1102.44,854.32 L1102.82,854.32 L1103.21,854.32 L1103.59,854.33 L1103.97,854.33 L1104.36,854.33 L1104.74,854.33 L1105.12,854.33 L1105.51,854.33 L1105.89,854.34 L1106.28,854.34 L1106.66,854.34 L1107.04,854.34 L1107.43,854.34 L1107.81,854.35 L1108.20,854.35 L1108.58,854.35 L1108.97,854.35 L1109.35,854.36 L1109.73,854.36 L1110.12,854.36 L1110.50,854.36 L1110.89,854.37 L1111.27,854.37 L1111.66,854.37 L1112.04,854.37 L1112.42,854.38 L1112.81,854.38 L1113.19,854.38 L1113.58,854.38 L1113.96,854.39 L1114.35,854.39 L1114.73,854.39 L1115.12,854.39 L1115.50,854.40 L1115.89,854.40 L1116.27,854.40 L1116.66,854.40 L1117.04,854.40 L1117.43,854.41 L1117.82,854.41 L1118.20,854.41 L1118.59,854.41 L1118.97,854.41 L1119.36,854.42 L1119.74,854.42 L1120.13,854.42 L1120.51,854.42 L1120.90,854.42 L1121.29,854.42 L1121.67,854.43 L1122.06,854.43 L1122.44,854.43 L1122.83,854.43 L1123.22,854.43 L1123.60,854.43 L1123.99,854.43 L1124.38,854.43 L1124.76,854.43 L1125.15,854.43 L1125.54,854.43 L1125.92,854.43 L1126.31,854.43 L1126.70,854.43 L1127.08,854.43 L1127.47,854.43 L1127.86,854.43 L1128.25,854.43 L1128.63,854.43 L1129.02,854.43 L1129.41,854.43 L1129.80,854.42 L1130.18,854.42 L1130.57,854.42 L1130.96,854.42 L1131.35,854.42 L1131.74,854.41 L1132.12,854.41 L1132.51,854.41 L1132.90,854.40 L1133.29,854.40 L1133.68,854.40 L1134.07,854.39 L1134.46,854.39 L1134.84,854.39 L1135.23,854.38 L1135.62,854.38 L1136.01,854.37 L1136.40,854.37 L1136.79,854.36 L1137.18,854.35 L1137.57,854.35 L1137.96,854.34 L1138.35,854.33 L1138.74,854.33 L1139.13,854.32 L1139.52,854.31 L1139.91,854.31 L1140.30,854.30 L1140.69,854.29 L1141.08,854.28 L1141.47,854.27 L1141.86,854.26 L1142.25,854.25 L1142.64,854.24 L1143.03,854.23 L1143.43,854.22 L1143.82,854.21 L1144.21,854.20 L1144.60,854.19 L1144.99,854.18 L1145.38,854.16 L1145.77,854.15 L1146.17,854.14 L1146.56,854.12 L1146.95,854.11 L1147.34,854.10 L1147.74,854.08 L1148.13,854.07 L1148.52,854.05 L1148.91,854.04 L1149.31,854.02 L1149.70,854.00 L1150.09,853.99 L1150.49,853.97 L1150.88,853.95 L1151.27,853.94 L1151.67,853.92 L1152.06,853.90 L1152.46,853.88 L1152.85,853.86 L1153.25,853.84 L1153.64,853.82 L1154.03,853.80 L1154.43,853.78 L1154.82,853.76 L1155.22,853.73 L1155.61,853.71 L1156.01,853.69 L1156.40,853.66 L1156.80,853.64 L1157.20,853.61 L1157.59,853.59 L1157.99,853.56 L1158.38,853.54 L1158.78,853.51 L1159.18,853.48 L1159.57,853.46 L1159.97,853.43 L1160.37,853.40 L1160.76,853.37 L1161.16,853.34 L1161.56,853.31 L1161.96,853.28" class="cdf"/>
<line x1="714.0" y1="1197.9" x2="714.0" y2="1192.3" class="tk"/>
<line x1="801.7" y1="1197.9" x2="801.7" y2="1192.3" class="tk"/>
<line x1="889.4" y1="1197.9" x2="889.4" y2="1192.3" class="tk"/>
<line x1="977.0" y1="1197.9" x2="977.0" y2="1192.3" class="tk"/>
<line x1="1064.7" y1="1197.9" x2="1064.7" y2="1192.3" class="tk"/>
<line x1="1152.4" y1="1197.9" x2="1152.4" y2="1192.3" class="tk"/>
<line x1="1240.0" y1="1197.9" x2="1240.0" y2="1192.3" class="tk"/>
<line x1="714.0" y1="1197.9" x2="719.6" y2="1197.9" class="tk"/>
<line x1="714.0" y1="1128.9" x2="719.6" y2="1128.9" class="tk"/>
<line x1="714.0" y1="1059.9" x2="719.6" y2="1059.9" class="tk"/>
<line x1="714.0" y1="990.8" x2="719.6" y2="990.8" class="tk"/>
<line x1="714.0" y1="921.8" x2="719.6" y2="921.8" class="tk"/>
<line x1="714.0" y1="852.8" x2="719.6" y2="852.8" class="tk"/>
<rect x="714.0" y="852.8" width="526.0" height="345.1" class="frm"/>
<text x="714.0" y="1221.1" text-anchor="middle" class="tl">0.0</text>
<text x="801.7" y="1221.1" text-anchor="middle" class="tl">0.5</text>
<text x="889.4" y="1221.1" text-anchor="middle" class="tl">1.0</text>
<text x="977.0" y="1221.1" text-anchor="middle" class="tl">1.5</text>
<text x="1064.7" y="1221.1" text-anchor="middle" class="tl">2.0</text>
<text x="1152.4" y="1221.1" text-anchor="middle" class="tl">2.5</text>
<text x="1240.0" y="1221.1" text-anchor="middle" class="tl">3.0</text>
<text x="709.0" y="1204.4" text-anchor="end" class="tl">0.0</text>
<text x="709.0" y="1135.4" text-anchor="end" class="tl">0.2</text>
<text x="709.0" y="1066.4" text-anchor="end" class="tl">0.4</text>
<text x="709.0" y="997.3" text-anchor="end" class="tl">0.6</text>
<text x="709.0" y="928.3" text-anchor="end" class="tl">0.8</text>
<text x="709.0" y="859.3" text-anchor="end" class="tl">1.0</text>
<text x="1030.5" y="937.8" style="fill:#000"><tspan font-style="italic">EF</tspan> (35.64%)<tspan class="lt">＜</tspan>1</text>
<text x="993.3" y="971.4" style="fill:#000">1 ≤ <tspan font-style="italic">EF</tspan> (63.37%)<tspan class="lt">＜</tspan>2</text>
<text x="993.3" y="1004.3" style="fill:#000">2 ≤ <tspan font-style="italic">EF</tspan> (0.99%)<tspan class="lt">＜</tspan>5</text>
<text x="1083.7" y="1105.9" style="fill:#1a1aff">Simulated:1.09</text>
<text x="1085.3" y="1154.0" style="fill:#36a844">Detected:1.12</text>
<text x="1231.7" y="888.6" text-anchor="end" class="plab">(h)</text>
<text x="977.0" y="1258.6" text-anchor="middle"><tspan font-style="italic">EF</tspan> (Zn)</text>
<text transform="translate(662.5,1024.3) rotate(-90)" text-anchor="middle">Cumulative probability</text>
</g>
<g>
<rect x="1350.0" y="851.7" width="16.3" height="344.1" fill="#e7e9fe"/>
<rect x="1366.3" y="851.7" width="18.9" height="344.1" fill="#e5eee9"/>
<rect x="1385.2" y="851.7" width="36.6" height="344.1" fill="#fee8c5"/>
<rect x="1421.8" y="851.7" width="88.0" height="344.1" fill="#fde4e4"/>
<rect x="1509.8" y="851.7" width="348.2" height="344.1" fill="#fdc6c6"/>
<line x1="1350.0" y1="853.2" x2="1350.0" y2="1194.3" class="dsh" style="stroke-dasharray:6 5.4;stroke-width:2.4"/>
<line x1="1366.3" y1="853.2" x2="1366.3" y2="1194.3" class="dsh" style="stroke-dasharray:6 5.4;stroke-width:2.4"/>
<line x1="1385.2" y1="853.2" x2="1385.2" y2="1194.3" class="dsh" style="stroke-dasharray:6 5.4;stroke-width:2.4"/>
<line x1="1509.8" y1="853.2" x2="1509.8" y2="1194.3" class="dsh" style="stroke-dasharray:6 5.4;stroke-width:2.4"/>
<line x1="1415.9" y1="851.7" x2="1415.9" y2="1195.8" stroke="#3ea442" stroke-width="2.2"/>
<line x1="1421.8" y1="851.7" x2="1421.8" y2="1195.8" stroke="#5a4cf5" stroke-width="2.2"/>
<line x1="1421.5" y1="1099.2" x2="1589.6" y2="1099.2" stroke="#2828ff" stroke-width="2" stroke-dasharray="6 5"/>
<polygon points="1589.6,1094.4 1610.8,1099.2 1589.6,1104.0" fill="#2828ff"/>
<line x1="1416.7" y1="1141.5" x2="1585.8" y2="1141.5" stroke="#3aa745" stroke-width="2" stroke-dasharray="6 5"/>
<polygon points="1585.8,1136.7 1609.8,1141.5 1585.8,1146.3" fill="#3aa745"/>
<path d="M1341.27,1197.10 L1341.64,1196.83 L1342.01,1196.57 L1342.37,1196.29 L1342.73,1196.01 L1343.07,1195.73 L1343.41,1195.44 L1343.75,1195.14 L1344.07,1194.84 L1344.39,1194.54 L1344.70,1194.23 L1345.01,1193.91 L1345.31,1193.59 L1345.60,1193.27 L1345.89,1192.94 L1346.17,1192.61 L1346.44,1192.27 L1346.71,1191.93 L1346.97,1191.58 L1347.23,1191.23 L1347.48,1190.88 L1347.72,1190.52 L1347.96,1190.16 L1348.20,1189.79 L1348.43,1189.42 L1348.65,1189.05 L1348.87,1188.67 L1349.08,1188.29 L1349.29,1187.90 L1349.50,1187.51 L1349.69,1187.12 L1349.89,1186.73 L1350.08,1186.33 L1350.26,1185.93 L1350.45,1185.52 L1350.62,1185.11 L1350.80,1184.70 L1350.96,1184.29 L1351.13,1183.87 L1351.29,1183.45 L1351.45,1183.03 L1351.60,1182.61 L1351.75,1182.18 L1351.90,1181.75 L1352.04,1181.32 L1352.18,1180.88 L1352.32,1180.45 L1352.45,1180.01 L1352.58,1179.57 L1352.71,1179.12 L1352.84,1178.68 L1352.96,1178.23 L1353.08,1177.78 L1353.20,1177.33 L1353.32,1176.88 L1353.43,1176.43 L1353.54,1175.97 L1353.65,1175.52 L1353.76,1175.06 L1353.86,1174.60 L1353.96,1174.14 L1354.07,1173.68 L1354.17,1173.21 L1354.27,1172.75 L1354.36,1172.29 L1354.46,1171.82 L1354.56,1171.35 L1354.65,1170.89 L1354.74,1170.42 L1354.84,1169.95 L1354.93,1169.48 L1355.02,1169.01 L1355.11,1168.54 L1355.20,1168.07 L1355.29,1167.60 L1355.38,1167.13 L1355.47,1166.66 L1355.55,1166.19 L1355.64,1165.72 L1355.73,1165.25 L1355.82,1164.78 L1355.91,1164.31 L1355.99,1163.84 L1356.08,1163.36 L1356.17,1162.89 L1356.25,1162.42 L1356.34,1161.95 L1356.42,1161.47 L1356.51,1161.00 L1356.59,1160.53 L1356.68,1160.06 L1356.76,1159.58 L1356.85,1159.11 L1356.93,1158.64 L1357.02,1158.16 L1357.10,1157.69 L1357.19,1157.22 L1357.27,1156.74 L1357.35,1156.27 L1357.44,1155.80 L1357.52,1155.32 L1357.60,1154.85 L1357.69,1154.37 L1357.77,1153.90 L1357.85,1153.42 L1357.93,1152.95 L1358.02,1152.48 L1358.10,1152.00 L1358.18,1151.53 L1358.26,1151.05 L1358.35,1150.58 L1358.43,1150.10 L1358.51,1149.63 L1358.59,1149.15 L1358.67,1148.67 L1358.75,1148.20 L1358.84,1147.72 L1358.92,1147.25 L1359.00,1146.77 L1359.08,1146.30 L1359.16,1145.82 L1359.24,1145.35 L1359.33,1144.87 L1359.41,1144.39 L1359.49,1143.92 L1359.57,1143.44 L1359.65,1142.97 L1359.73,1142.49 L1359.82,1142.02 L1359.90,1141.54 L1359.98,1141.06 L1360.06,1140.59 L1360.14,1140.11 L1360.22,1139.64 L1360.31,1139.16 L1360.39,1138.68 L1360.47,1138.21 L1360.55,1137.73 L1360.64,1137.26 L1360.72,1136.78 L1360.80,1136.31 L1360.88,1135.83 L1360.97,1135.35 L1361.05,1134.88 L1361.13,1134.40 L1361.22,1133.93 L1361.30,1133.45 L1361.38,1132.97 L1361.47,1132.50 L1361.55,1132.02 L1361.63,1131.55 L1361.72,1131.07 L1361.80,1130.60 L1361.89,1130.12 L1361.97,1129.65 L1362.06,1129.17 L1362.14,1128.70 L1362.23,1128.22 L1362.31,1127.75 L1362.40,1127.27 L1362.49,1126.80 L1362.57,1126.32 L1362.66,1125.85 L1362.75,1125.37 L1362.84,1124.90 L1362.92,1124.42 L1363.01,1123.95 L1363.10,1123.48 L1363.19,1123.00 L1363.28,1122.53 L1363.37,1122.05 L1363.46,1121.58 L1363.55,1121.11 L1363.64,1120.63 L1363.73,1120.16 L1363.82,1119.69 L1363.91,1119.21 L1364.00,1118.74 L1364.09,1118.27 L1364.19,1117.80 L1364.28,1117.32 L1364.37,1116.85 L1364.47,1116.38 L1364.56,1115.91 L1364.65,1115.44 L1364.75,1114.96 L1364.84,1114.49 L1364.94,1114.02 L1365.04,1113.55 L1365.13,1113.08 L1365.23,1112.61 L1365.33,1112.14 L1365.43,1111.67 L1365.52,1111.20 L1365.62,1110.73 L1365.72,1110.26 L1365.82,1109.79 L1365.92,1109.32 L1366.02,1108.85 L1366.13,1108.38 L1366.23,1107.91 L1366.33,1107.44 L1366.43,1106.97 L1366.54,1106.51 L1366.64,1106.04 L1366.75,1105.57 L1366.85,1105.10 L1366.96,1104.64 L1367.06,1104.17 L1367.17,1103.70 L1367.28,1103.24 L1367.39,1102.77 L1367.50,1102.30 L1367.60,1101.84 L1367.71,1101.37 L1367.82,1100.91 L1367.94,1100.44 L1368.05,1099.98 L1368.16,1099.51 L1368.27,1099.05 L1368.38,1098.58 L1368.50,1098.12 L1368.61,1097.65 L1368.73,1097.19 L1368.84,1096.73 L1368.96,1096.26 L1369.07,1095.80 L1369.19,1095.34 L1369.31,1094.88 L1369.43,1094.41 L1369.54,1093.95 L1369.66,1093.49 L1369.78,1093.03 L1369.90,1092.57 L1370.02,1092.11 L1370.15,1091.64 L1370.27,1091.18 L1370.39,1090.72 L1370.51,1090.26 L1370.64,1089.80 L1370.76,1089.34 L1370.88,1088.88 L1371.01,1088.42 L1371.13,1087.96 L1371.26,1087.51 L1371.39,1087.05 L1371.51,1086.59 L1371.64,1086.13 L1371.77,1085.67 L1371.90,1085.21 L1372.03,1084.76 L1372.16,1084.30 L1372.29,1083.84 L1372.42,1083.38 L1372.55,1082.93 L1372.68,1082.47 L1372.81,1082.01 L1372.95,1081.56 L1373.08,1081.10 L1373.21,1080.65 L1373.35,1080.19 L1373.48,1079.73 L1373.62,1079.28 L1373.76,1078.82 L1373.89,1078.37 L1374.03,1077.91 L1374.17,1077.46 L1374.31,1077.01 L1374.44,1076.55 L1374.58,1076.10 L1374.72,1075.65 L1374.86,1075.19 L1375.01,1074.74 L1375.15,1074.29 L1375.29,1073.83 L1375.43,1073.38 L1375.57,1072.93 L1375.72,1072.48 L1375.86,1072.02 L1376.01,1071.57 L1376.15,1071.12 L1376.30,1070.67 L1376.44,1070.22 L1376.59,1069.77 L1376.74,1069.32 L1376.88,1068.87 L1377.03,1068.42 L1377.18,1067.97 L1377.33,1067.52 L1377.48,1067.07 L1377.63,1066.62 L1377.78,1066.17 L1377.93,1065.72 L1378.09,1065.27 L1378.24,1064.82 L1378.39,1064.37 L1378.54,1063.93 L1378.70,1063.48 L1378.85,1063.03 L1379.01,1062.58 L1379.16,1062.14 L1379.32,1061.69 L1379.48,1061.24 L1379.63,1060.79 L1379.79,1060.35 L1379.95,1059.90 L1380.11,1059.46 L1380.27,1059.01 L1380.43,1058.56 L1380.59,1058.12 L1380.75,1057.67 L1380.91,1057.23 L1381.07,1056.78 L1381.23,1056.34 L1381.39,1055.89 L1381.56,1055.45 L1381.72,1055.01 L1381.88,1054.56 L1382.05,1054.12 L1382.21,1053.67 L1382.38,1053.23 L1382.55,1052.79 L1382.71,1052.34 L1382.88,1051.90 L1383.05,1051.46 L1383.22,1051.02 L1383.39,1050.57 L1383.55,1050.13 L1383.72,1049.69 L1383.89,1049.25 L1384.07,1048.81 L1384.24,1048.37 L1384.41,1047.93 L1384.58,1047.48 L1384.75,1047.04 L1384.93,1046.60 L1385.10,1046.16 L1385.27,1045.72 L1385.45,1045.28 L1385.63,1044.84 L1385.80,1044.40 L1385.98,1043.96 L1386.15,1043.53 L1386.33,1043.09 L1386.51,1042.65 L1386.69,1042.21 L1386.87,1041.77 L1387.05,1041.33 L1387.23,1040.90 L1387.41,1040.46 L1387.59,1040.02 L1387.77,1039.58 L1387.95,1039.15 L1388.13,1038.71 L1388.31,1038.27 L1388.50,1037.83 L1388.68,1037.40 L1388.87,1036.96 L1389.05,1036.53 L1389.24,1036.09 L1389.42,1035.65 L1389.61,1035.22 L1389.79,1034.78 L1389.98,1034.35 L1390.17,1033.91 L1390.36,1033.48 L1390.55,1033.04 L1390.74,1032.61 L1390.93,1032.18 L1391.12,1031.74 L1391.31,1031.31 L1391.50,1030.87 L1391.69,1030.44 L1391.88,1030.01 L1392.07,1029.57 L1392.27,1029.14 L1392.46,1028.71 L1392.65,1028.28 L1392.85,1027.84 L1393.04,1027.41 L1393.24,1026.98 L1393.44,1026.55 L1393.63,1026.12 L1393.83,1025.68 L1394.03,1025.25 L1394.22,1024.82 L1394.42,1024.39 L1394.62,1023.96 L1394.82,1023.53 L1395.02,1023.10 L1395.22,1022.67 L1395.42,1022.24 L1395.62,1021.81 L1395.83,1021.38 L1396.03,1020.95 L1396.23,1020.52 L1396.43,1020.09 L1396.64,1019.66 L1396.84,1019.23 L1397.05,1018.80 L1397.25,1018.38 L1397.46,1017.95 L1397.66,1017.52 L1397.87,1017.09 L1398.08,1016.66 L1398.28,1016.24 L1398.49,1015.81 L1398.70,1015.38 L1398.91,1014.95 L1399.12,1014.53 L1399.33,1014.10 L1399.54,1013.67 L1399.75,1013.25 L1399.96,1012.82 L1400.17,1012.40 L1400.39,1011.97 L1400.60,1011.54 L1400.81,1011.12 L1401.03,1010.69 L1401.24,1010.27 L1401.45,1009.84 L1401.67,1009.42 L1401.89,1008.99 L1402.10,1008.57 L1402.32,1008.14 L1402.54,1007.72 L1402.75,1007.30 L1402.97,1006.87 L1403.19,1006.45 L1403.41,1006.03 L1403.63,1005.60 L1403.85,1005.18 L1404.07,1004.76 L1404.29,1004.33 L1404.51,1003.91 L1404.73,1003.49 L1404.95,1003.07 L1405.18,1002.64 L1405.40,1002.22 L1405.62,1001.80 L1405.85,1001.38 L1406.07,1000.96 L1406.30,1000.54 L1406.52,1000.11 L1406.75,999.69 L1406.97,999.27 L1407.20,998.85 L1407.43,998.43 L1407.65,998.01 L1407.88,997.59 L1408.11,997.17 L1408.34,996.75 L1408.57,996.33 L1408.80,995.91 L1409.03,995.49 L1409.26,995.07 L1409.49,994.65 L1409.72,994.24 L1409.96,993.82 L1410.19,993.40 L1410.42,992.98 L1410.66,992.56 L1410.89,992.14 L1411.12,991.73 L1411.36,991.31 L1411.59,990.89 L1411.83,990.47 L1412.07,990.06 L1412.30,989.64 L1412.54,989.22 L1412.78,988.81 L1413.02,988.39 L1413.26,987.97 L1413.49,987.56 L1413.73,987.14 L1413.97,986.72 L1414.21,986.31 L1414.46,985.89 L1414.70,985.48 L1414.94,985.06 L1415.18,984.65 L1415.42,984.23 L1415.67,983.82 L1415.91,983.40 L1416.15,982.99 L1416.40,982.57 L1416.64,982.16 L1416.89,981.75 L1417.14,981.33 L1417.38,980.92 L1417.63,980.51 L1417.88,980.09 L1418.12,979.68 L1418.37,979.27 L1418.62,978.86 L1418.87,978.45 L1419.12,978.04 L1419.37,977.62 L1419.62,977.21 L1419.87,976.80 L1420.13,976.39 L1420.38,975.98 L1420.63,975.57 L1420.88,975.16 L1421.14,974.75 L1421.39,974.35 L1421.65,973.94 L1421.90,973.53 L1422.16,973.12 L1422.42,972.71 L1422.67,972.31 L1422.93,971.90 L1423.19,971.49 L1423.45,971.09 L1423.71,970.68 L1423.97,970.28 L1424.23,969.87 L1424.49,969.47 L1424.75,969.06 L1425.01,968.66 L1425.27,968.25 L1425.54,967.85 L1425.80,967.45 L1426.06,967.05 L1426.33,966.64 L1426.59,966.24 L1426.86,965.84 L1427.13,965.44 L1427.39,965.04 L1427.66,964.64 L1427.93,964.24 L1428.20,963.84 L1428.47,963.44 L1428.73,963.04 L1429.01,962.65 L1429.28,962.25 L1429.55,961.85 L1429.82,961.46 L1430.09,961.06 L1430.36,960.66 L1430.64,960.27 L1430.91,959.87 L1431.19,959.48 L1431.46,959.09 L1431.74,958.69 L1432.02,958.30 L1432.29,957.91 L1432.57,957.52 L1432.85,957.13 L1433.13,956.74 L1433.41,956.35 L1433.69,955.96 L1433.97,955.57 L1434.25,955.18 L1434.53,954.79 L1434.81,954.40 L1435.10,954.02 L1435.38,953.63 L1435.67,953.25 L1435.95,952.86 L1436.24,952.48 L1436.52,952.09 L1436.81,951.71 L1437.10,951.33 L1437.39,950.94 L1437.67,950.56 L1437.96,950.18 L1438.25,949.80 L1438.54,949.42 L1438.84,949.04 L1439.13,948.66 L1439.42,948.29 L1439.71,947.91 L1440.01,947.53 L1440.30,947.16 L1440.60,946.78 L1440.89,946.41 L1441.19,946.03 L1441.49,945.66 L1441.79,945.29 L1442.08,944.91 L1442.38,944.54 L1442.68,944.17 L1442.98,943.80 L1443.28,943.43 L1443.59,943.06 L1443.89,942.69 L1444.19,942.33 L1444.50,941.96 L1444.80,941.60 L1445.11,941.23 L1445.41,940.87 L1445.72,940.50 L1446.03,940.14 L1446.33,939.78 L1446.64,939.41 L1446.95,939.05 L1447.26,938.69 L1447.57,938.33 L1447.88,937.98 L1448.20,937.62 L1448.51,937.26 L1448.82,936.90 L1449.14,936.55 L1449.45,936.19 L1449.77,935.84 L1450.08,935.49 L1450.40,935.14 L1450.72,934.78 L1451.04,934.43 L1451.36,934.08 L1451.68,933.73 L1452.00,933.39 L1452.32,933.04 L1452.64,932.69 L1452.96,932.35 L1453.29,932.00 L1453.61,931.66 L1453.94,931.31 L1454.26,930.97 L1454.59,930.63 L1454.92,930.29 L1455.24,929.95 L1455.57,929.61 L1455.90,929.27 L1456.23,928.93 L1456.56,928.60 L1456.89,928.26 L1457.23,927.93 L1457.56,927.59 L1457.89,927.26 L1458.23,926.93 L1458.56,926.60 L1458.90,926.27 L1459.24,925.94 L1459.58,925.61 L1459.91,925.28 L1460.25,924.96 L1460.59,924.63 L1460.93,924.31 L1461.28,923.98 L1461.62,923.66 L1461.96,923.34 L1462.31,923.02 L1462.65,922.70 L1463.00,922.38 L1463.34,922.06 L1463.69,921.75 L1464.04,921.43 L1464.39,921.12 L1464.74,920.80 L1465.09,920.49 L1465.44,920.18 L1465.79,919.87 L1466.14,919.56 L1466.50,919.25 L1466.85,918.94 L1467.21,918.63 L1467.56,918.33 L1467.92,918.02 L1468.28,917.72 L1468.64,917.42 L1468.99,917.12 L1469.35,916.82 L1469.72,916.52 L1470.08,916.22 L1470.44,915.92 L1470.80,915.63 L1471.17,915.33 L1471.53,915.04 L1471.90,914.74 L1472.27,914.45 L1472.63,914.16 L1473.00,913.87 L1473.37,913.58 L1473.74,913.30 L1474.11,913.01 L1474.48,912.72 L1474.86,912.44 L1475.23,912.16 L1475.60,911.87 L1475.98,911.59 L1476.35,911.31 L1476.73,911.03 L1477.11,910.75 L1477.48,910.48 L1477.86,910.20 L1478.24,909.93 L1478.62,909.65 L1479.00,909.38 L1479.38,909.11 L1479.77,908.84 L1480.15,908.57 L1480.53,908.30 L1480.92,908.03 L1481.30,907.76 L1481.69,907.50 L1482.08,907.23 L1482.46,906.97 L1482.85,906.70 L1483.24,906.44 L1483.63,906.18 L1484.02,905.92 L1484.41,905.66 L1484.80,905.40 L1485.20,905.15 L1485.59,904.89 L1485.98,904.64 L1486.38,904.38 L1486.77,904.13 L1487.17,903.88 L1487.57,903.63 L1487.96,903.38 L1488.36,903.13 L1488.76,902.88 L1489.16,902.63 L1489.56,902.38 L1489.96,902.14 L1490.36,901.89 L1490.76,901.65 L1491.17,901.41 L1491.57,901.17 L1491.97,900.93 L1492.38,900.69 L1492.78,900.45 L1493.19,900.21 L1493.60,899.97 L1494.00,899.74 L1494.41,899.50 L1494.82,899.27 L1495.23,899.03 L1495.64,898.80 L1496.05,898.57 L1496.46,898.34 L1496.87,898.11 L1497.29,897.88 L1497.70,897.65 L1498.11,897.43 L1498.53,897.20 L1498.94,896.98 L1499.36,896.75 L1499.77,896.53 L1500.19,896.31 L1500.61,896.08 L1501.02,895.86 L1501.44,895.64 L1501.86,895.43 L1502.28,895.21 L1502.70,894.99 L1503.12,894.77 L1503.54,894.56 L1503.96,894.34 L1504.39,894.13 L1504.81,893.92 L1505.23,893.71 L1505.66,893.50 L1506.08,893.29 L1506.51,893.08 L1506.93,892.87 L1507.36,892.66 L1507.78,892.45 L1508.21,892.25 L1508.64,892.04 L1509.07,891.84 L1509.50,891.64 L1509.93,891.43 L1510.36,891.23 L1510.79,891.03 L1511.22,890.83 L1511.65,890.63 L1512.08,890.43 L1512.51,890.24 L1512.94,890.04 L1513.38,889.84 L1513.81,889.65 L1514.25,889.45 L1514.68,889.26 L1515.12,889.07 L1515.55,888.88 L1515.99,888.69 L1516.43,888.50 L1516.86,888.31 L1517.30,888.12 L1517.74,887.93 L1518.18,887.74 L1518.62,887.56 L1519.06,887.37 L1519.50,887.19 L1519.94,887.00 L1520.38,886.82 L1520.82,886.64 L1521.26,886.46 L1521.70,886.27 L1522.14,886.09 L1522.59,885.92 L1523.03,885.74 L1523.47,885.56 L1523.92,885.38 L1524.36,885.21 L1524.81,885.03 L1525.25,884.86 L1525.70,884.68 L1526.15,884.51 L1526.59,884.34 L1527.04,884.17 L1527.49,883.99 L1527.94,883.82 L1528.38,883.66 L1528.83,883.49 L1529.28,883.32 L1529.73,883.15 L1530.18,882.98 L1530.63,882.82 L1531.08,882.65 L1531.53,882.49 L1531.98,882.33 L1532.43,882.16 L1532.89,882.00 L1533.34,881.84 L1533.79,881.68 L1534.24,881.52 L1534.70,881.36 L1535.15,881.20 L1535.61,881.04 L1536.06,880.89 L1536.52,880.73 L1536.97,880.57 L1537.43,880.42 L1537.88,880.26 L1538.34,880.11 L1538.79,879.96 L1539.25,879.80 L1539.71,879.65 L1540.16,879.50 L1540.62,879.35 L1541.08,879.20 L1541.54,879.05 L1542.00,878.90 L1542.46,878.76 L1542.91,878.61 L1543.37,878.46 L1543.83,878.32 L1544.29,878.17 L1544.75,878.03 L1545.21,877.88 L1545.67,877.74 L1546.14,877.60 L1546.60,877.46 L1547.06,877.31 L1547.52,877.17 L1547.98,877.03 L1548.44,876.89 L1548.91,876.76 L1549.37,876.62 L1549.83,876.48 L1550.30,876.34 L1550.76,876.21 L1551.22,876.07 L1551.69,875.94 L1552.15,875.80 L1552.62,875.67 L1553.08,875.54 L1553.54,875.40 L1554.01,875.27 L1554.48,875.14 L1554.94,875.01 L1555.41,874.88 L1555.87,874.75 L1556.34,874.62 L1556.80,874.49 L1557.27,874.36 L1557.74,874.24 L1558.20,874.11 L1558.67,873.98 L1559.14,873.86 L1559.61,873.73 L1560.07,873.61 L1560.54,873.49 L1561.01,873.36 L1561.48,873.24 L1561.94,873.12 L1562.41,873.00 L1562.88,872.88 L1563.35,872.76 L1563.82,872.64 L1564.29,872.52 L1564.76,872.40 L1565.23,872.28 L1565.70,872.16 L1566.16,872.04 L1566.63,871.93 L1567.10,871.81 L1567.57,871.70 L1568.04,871.58 L1568.51,871.47 L1568.98,871.35 L1569.45,871.24 L1569.92,871.13 L1570.39,871.01 L1570.87,870.90 L1571.34,870.79 L1571.81,870.68 L1572.28,870.57 L1572.75,870.46 L1573.22,870.35 L1573.69,870.24 L1574.16,870.13 L1574.63,870.03 L1575.10,869.92 L1575.58,869.81 L1576.05,869.71 L1576.52,869.60 L1576.99,869.49 L1577.46,869.39 L1577.93,869.29 L1578.41,869.18 L1578.88,869.08 L1579.35,868.98 L1579.82,868.87 L1580.29,868.77 L1580.76,868.67 L1581.24,868.57 L1581.71,868.47 L1582.18,868.37 L1582.65,868.27 L1583.12,868.17 L1583.60,868.07 L1584.07,867.97 L1584.54,867.87 L1585.01,867.78 L1585.49,867.68 L1585.96,867.58 L1586.43,867.49 L1586.90,867.39 L1587.37,867.30 L1587.85,867.20 L1588.32,867.11 L1588.79,867.01 L1589.26,866.92 L1589.73,866.83 L1590.21,866.73 L1590.68,866.64 L1591.15,866.55 L1591.62,866.46 L1592.09,866.37 L1592.56,866.27 L1593.04,866.18 L1593.51,866.09 L1593.98,866.01 L1594.45,865.92 L1594.92,865.83 L1595.39,865.74 L1595.87,865.65 L1596.34,865.56 L1596.81,865.48 L1597.28,865.39 L1597.75,865.30 L1598.22,865.22 L1598.69,865.13 L1599.17,865.05 L1599.64,864.96 L1600.11,864.88 L1600.58,864.80 L1601.05,864.71 L1601.52,864.63 L1601.99,864.55 L1602.46,864.46 L1602.93,864.38 L1603.41,864.30 L1603.88,864.22 L1604.35,864.14 L1604.82,864.06 L1605.29,863.98 L1605.76,863.90 L1606.23,863.82 L1606.70,863.74 L1607.17,863.66 L1607.64,863.58 L1608.11,863.51 L1608.58,863.43 L1609.06,863.35 L1609.53,863.28 L1610.00,863.20 L1610.47,863.12 L1610.94,863.05 L1611.41,862.97 L1611.88,862.90 L1612.35,862.82 L1612.82,862.75 L1613.29,862.68 L1613.76,862.60 L1614.23,862.53 L1614.70,862.46 L1615.17,862.39 L1615.64,862.31 L1616.11,862.24 L1616.59,862.17 L1617.06,862.10 L1617.53,862.03 L1618.00,861.96 L1618.47,861.89 L1618.94,861.82 L1619.41,861.75 L1619.88,861.69 L1620.35,861.62 L1620.82,861.55 L1621.29,861.48 L1621.76,861.42 L1622.23,861.35 L1622.70,861.28 L1623.17,861.22 L1623.64,861.15 L1624.11,861.09 L1624.58,861.02 L1625.05,860.96 L1625.52,860.89 L1625.99,860.83 L1626.47,860.76 L1626.94,860.70 L1627.41,860.64 L1627.88,860.58 L1628.35,860.51 L1628.82,860.45 L1629.29,860.39 L1629.76,860.33 L1630.23,860.27 L1630.70,860.21 L1631.17,860.15 L1631.64,860.09 L1632.11,860.03 L1632.58,859.97 L1633.05,859.91 L1633.52,859.85 L1633.99,859.80 L1634.46,859.74 L1634.93,859.68 L1635.41,859.62 L1635.88,859.57 L1636.35,859.51 L1636.82,859.45 L1637.29,859.40 L1637.76,859.34 L1638.23,859.29 L1638.70,859.23 L1639.17,859.18 L1639.64,859.13 L1640.11,859.07 L1640.58,859.02 L1641.06,858.97 L1641.53,858.91 L1642.00,858.86 L1642.47,858.81 L1642.94,858.76 L1643.41,858.70 L1643.88,858.65 L1644.35,858.60 L1644.82,858.55 L1645.29,858.50 L1645.77,858.45 L1646.24,858.40 L1646.71,858.35 L1647.18,858.30 L1647.65,858.25 L1648.12,858.21 L1648.59,858.16 L1649.06,858.11 L1649.54,858.06 L1650.01,858.02 L1650.48,857.97 L1650.95,857.92 L1651.42,857.88 L1651.89,857.83 L1652.37,857.79 L1652.84,857.74 L1653.31,857.69 L1653.78,857.65 L1654.25,857.61 L1654.72,857.56 L1655.20,857.52 L1655.67,857.47 L1656.14,857.43 L1656.61,857.39 L1657.08,857.35 L1657.56,857.30 L1658.03,857.26 L1658.50,857.22 L1658.97,857.18 L1659.45,857.14 L1659.92,857.10 L1660.39,857.05 L1660.86,857.01 L1661.33,856.97 L1661.81,856.93 L1662.28,856.90 L1662.75,856.86 L1663.23,856.82 L1663.70,856.78 L1664.17,856.74 L1664.64,856.70 L1665.12,856.66 L1665.59,856.63 L1666.06,856.59 L1666.54,856.55 L1667.01,856.52 L1667.48,856.48 L1667.96,856.44 L1668.43,856.41 L1668.90,856.37 L1669.38,856.34 L1669.85,856.30 L1670.32,856.27 L1670.80,856.23 L1671.27,856.20 L1671.74,856.16 L1672.22,856.13 L1672.69,856.10 L1673.16,856.06 L1673.64,856.03 L1674.11,856.00 L1674.59,855.97 L1675.06,855.93 L1675.54,855.90 L1676.01,855.87 L1676.48,855.84 L1676.96,855.81 L1677.43,855.78 L1677.91,855.75 L1678.38,855.72 L1678.86,855.69 L1679.33,855.66 L1679.81,855.63 L1680.28,855.60 L1680.76,855.57 L1681.23,855.54 L1681.70,855.51 L1682.18,855.48 L1682.65,855.46 L1683.13,855.43 L1683.60,855.40 L1684.08,855.37 L1684.56,855.35 L1685.03,855.32 L1685.51,855.29 L1685.98,855.27 L1686.46,855.24 L1686.93,855.21 L1687.41,855.19 L1687.88,855.16 L1688.36,855.14 L1688.83,855.11 L1689.31,855.09 L1689.79,855.06 L1690.26,855.04 L1690.74,855.01 L1691.21,854.99 L1691.69,854.97 L1692.17,854.94 L1692.64,854.92 L1693.12,854.90 L1693.59,854.87 L1694.07,854.85 L1694.55,854.83 L1695.02,854.81 L1695.50,854.78 L1695.97,854.76 L1696.45,854.74 L1696.93,854.72 L1697.40,854.70 L1697.88,854.68 L1698.36,854.66 L1698.83,854.64 L1699.31,854.61 L1699.79,854.59 L1700.26,854.57 L1700.74,854.55 L1701.22,854.54 L1701.69,854.52 L1702.17,854.50 L1702.65,854.48 L1703.12,854.46 L1703.60,854.44 L1704.08,854.42 L1704.55,854.40 L1705.03,854.39 L1705.51,854.37 L1705.99,854.35 L1706.46,854.33 L1706.94,854.32 L1707.42,854.30 L1707.90,854.28 L1708.37,854.26 L1708.85,854.25 L1709.33,854.23 L1709.80,854.22 L1710.28,854.20 L1710.76,854.18 L1711.24,854.17 L1711.71,854.15 L1712.19,854.14 L1712.67,854.12 L1713.15,854.11 L1713.62,854.09 L1714.10,854.08 L1714.58,854.06 L1715.06,854.05 L1715.54,854.03 L1716.01,854.02 L1716.49,854.01 L1716.97,853.99 L1717.45,853.98 L1717.93,853.97 L1718.40,853.95 L1718.88,853.94 L1719.36,853.93 L1719.84,853.91 L1720.32,853.90 L1720.79,853.89 L1721.27,853.88 L1721.75,853.86 L1722.23,853.85 L1722.71,853.84 L1723.18,853.83 L1723.66,853.82 L1724.14,853.81 L1724.62,853.80 L1725.10,853.78 L1725.58,853.77 L1726.05,853.76 L1726.53,853.75 L1727.01,853.74 L1727.49,853.73 L1727.97,853.72 L1728.45,853.71 L1728.92,853.70 L1729.40,853.69 L1729.88,853.68 L1730.36,853.67 L1730.84,853.66 L1731.32,853.65 L1731.80,853.64 L1732.27,853.63 L1732.75,853.62 L1733.23,853.62 L1733.71,853.61 L1734.19,853.60 L1734.67,853.59 L1735.15,853.58 L1735.62,853.57 L1736.10,853.57 L1736.58,853.56 L1737.06,853.55 L1737.54,853.54 L1738.02,853.53 L1738.50,853.53 L1738.98,853.52 L1739.46,853.51 L1739.93,853.50 L1740.41,853.50 L1740.89,853.49 L1741.37,853.48 L1741.85,853.48 L1742.33,853.47 L1742.81,853.46 L1743.29,853.46 L1743.76,853.45 L1744.24,853.44 L1744.72,853.44 L1745.20,853.43 L1745.68,853.42 L1746.16,853.42 L1746.64,853.41 L1747.12,853.41 L1747.60,853.40 L1748.08,853.40 L1748.55,853.39 L1749.03,853.38 L1749.51,853.38 L1749.99,853.37 L1750.47,853.37 L1750.95,853.36 L1751.43,853.36 L1751.91,853.35 L1752.39,853.35 L1752.87,853.34 L1753.35,853.34 L1753.82,853.33 L1754.30,853.33 L1754.78,853.33 L1755.26,853.32 L1755.74,853.32 L1756.22,853.31 L1756.70,853.31 L1757.18,853.30 L1757.66,853.30 L1758.14,853.30 L1758.61,853.29 L1759.09,853.29 L1759.57,853.28 L1760.05,853.28 L1760.53,853.28 L1761.01,853.27 L1761.49,853.27 L1761.97,853.27 L1762.45,853.26 L1762.93,853.26 L1763.41,853.26 L1763.88,853.25 L1764.36,853.25 L1764.84,853.25 L1765.32,853.24 L1765.80,853.24 L1766.28,853.24 L1766.76,853.23 L1767.24,853.23 L1767.72,853.23 L1768.20,853.22 L1768.67,853.22 L1769.15,853.22 L1769.63,853.22 L1770.11,853.21 L1770.59,853.21 L1771.07,853.21 L1771.55,853.21 L1772.03,853.20 L1772.51,853.20 L1772.99,853.20 L1773.46,853.19 L1773.94,853.19 L1774.42,853.19 L1774.90,853.19 L1775.38,853.18 L1775.86,853.18 L1776.34,853.18 L1776.82,853.18 L1777.30,853.18 L1777.77,853.17 L1778.25,853.17 L1778.73,853.17 L1779.21,853.17 L1779.69,853.16 L1780.17,853.16 L1780.65,853.16 L1781.13,853.16 L1781.60,853.15 L1782.08,853.15 L1782.56,853.15 L1783.04,853.15 L1783.52,853.15 L1784.00,853.14 L1784.48,853.14 L1784.95,853.14 L1785.43,853.14 L1785.91,853.13 L1786.39,853.13 L1786.87,853.13 L1787.35,853.13 L1787.83,853.13 L1788.30,853.12 L1788.78,853.12 L1789.26,853.12 L1789.74,853.12 L1790.22,853.11 L1790.70,853.11 L1791.17,853.11 L1791.65,853.11 L1792.13,853.11 L1792.61,853.10 L1793.09,853.10 L1793.57,853.10 L1794.04,853.10 L1794.52,853.09 L1795.00,853.09 L1795.48,853.09 L1795.96,853.09 L1796.43,853.08 L1796.91,853.08 L1797.39,853.08 L1797.87,853.08 L1798.35,853.07 L1798.82,853.07 L1799.30,853.07 L1799.78,853.07 L1800.26,853.06 L1800.74,853.06 L1801.21,853.06 L1801.69,853.06 L1802.17,853.05 L1802.65,853.05 L1803.12,853.05 L1803.60,853.04 L1804.08,853.04 L1804.56,853.04 L1805.03,853.03 L1805.51,853.03 L1805.99,853.03 L1806.47,853.02 L1806.94,853.02 L1807.42,853.02 L1807.90,853.01 L1808.38,853.01 L1808.85,853.01 L1809.33,853.00 L1809.81,853.00 L1810.28,853.00 L1810.76,852.99 L1811.24,852.99 L1811.72,852.99 L1812.19,852.98 L1812.67,852.98 L1813.15,852.97 L1813.62,852.97 L1814.10,852.97 L1814.58,852.96 L1815.05,852.96 L1815.53,852.95 L1816.01,852.95 L1816.48,852.94 L1816.96,852.94 L1817.44,852.93 L1817.91,852.93 L1818.39,852.92 L1818.87,852.92 L1819.34,852.91 L1819.82,852.91 L1820.30,852.90 L1820.77,852.90 L1821.25,852.89 L1821.72,852.89 L1822.20,852.88 L1822.68,852.88 L1823.15,852.87 L1823.63,852.87 L1824.11,852.86 L1824.58,852.85 L1825.06,852.85 L1825.53,852.84 L1826.01,852.84 L1826.48,852.83 L1826.96,852.82 L1827.44,852.82 L1827.91,852.81 L1828.39,852.80 L1828.86,852.80 L1829.34,852.79 L1829.81,852.78 L1830.29,852.78 L1830.76,852.77 L1831.24,852.76 L1831.71,852.75 L1832.19,852.75 L1832.66,852.74 L1833.14,852.73 L1833.62,852.72 L1834.09,852.71 L1834.56,852.71 L1835.04,852.70 L1835.51,852.69 L1835.99,852.68 L1836.46,852.67 L1836.94,852.66 L1837.41,852.66 L1837.89,852.65 L1838.36,852.64 L1838.84,852.63 L1839.31,852.62 L1839.79,852.61 L1840.26,852.60 L1840.73,852.59 L1841.21,852.58 L1841.68,852.57 L1842.16,852.56 L1842.63,852.55 L1843.10,852.54 L1843.58,852.53 L1844.05,852.52 L1844.53,852.51 L1845.00,852.50 L1845.47,852.49 L1845.95,852.48 L1846.42,852.46 L1846.89,852.45 L1847.37,852.44 L1847.84,852.43 L1848.31,852.42 L1848.79,852.41 L1849.26,852.39 L1849.73,852.38 L1850.21,852.37 L1850.68,852.36 L1851.15,852.34 L1851.62,852.33 L1852.10,852.32 L1852.57,852.30 L1853.04,852.29 L1853.52,852.28 L1853.99,852.26 L1854.46,852.25 L1854.93,852.24 L1855.41,852.22 L1855.88,852.21" class="cdf" style="stroke-width:2.3"/>
<line x1="1332.5" y1="1195.8" x2="1332.5" y2="1190.2" class="tk"/>
<line x1="1421.4" y1="1195.8" x2="1421.4" y2="1190.2" class="tk"/>
<line x1="1510.3" y1="1195.8" x2="1510.3" y2="1190.2" class="tk"/>
<line x1="1599.2" y1="1195.8" x2="1599.2" y2="1190.2" class="tk"/>
<line x1="1688.1" y1="1195.8" x2="1688.1" y2="1190.2" class="tk"/>
<line x1="1777.0" y1="1195.8" x2="1777.0" y2="1190.2" class="tk"/>
<line x1="1818.9" y1="1195.8" x2="1818.9" y2="1190.2" class="tk"/>
<line x1="1858.0" y1="1195.8" x2="1858.0" y2="1190.2" class="tk"/>
<line x1="1332.5" y1="1195.8" x2="1338.1" y2="1195.8" class="tk"/>
<line x1="1332.5" y1="1127.0" x2="1338.1" y2="1127.0" class="tk"/>
<line x1="1332.5" y1="1058.2" x2="1338.1" y2="1058.2" class="tk"/>
<line x1="1332.5" y1="989.3" x2="1338.1" y2="989.3" class="tk"/>
<line x1="1332.5" y1="920.5" x2="1338.1" y2="920.5" class="tk"/>
<line x1="1332.5" y1="851.7" x2="1338.1" y2="851.7" class="tk"/>
<path d="M1796.5,1195.8 L1332.5,1195.8 L1332.5,851.7 L1858.0,851.7 L1858.0,1195.8 L1802.5,1195.8" class="frm" style="stroke-width:2.6"/>
<text x="1332.5" y="1219.0" text-anchor="middle" class="tl">0</text>
<text x="1421.4" y="1219.0" text-anchor="middle" class="tl">5</text>
<text x="1510.3" y="1219.0" text-anchor="middle" class="tl">10</text>
<text x="1599.2" y="1219.0" text-anchor="middle" class="tl">15</text>
<text x="1688.1" y="1219.0" text-anchor="middle" class="tl">20</text>
<text x="1777.0" y="1219.0" text-anchor="middle" class="tl">25</text>
<text x="1818.9" y="1219.0" text-anchor="middle" class="tl">30</text>
<text x="1858.0" y="1219.0" text-anchor="middle" class="tl">35</text>
<text x="1327.5" y="1202.3" text-anchor="end" class="tl">0.0</text>
<text x="1327.5" y="1133.5" text-anchor="end" class="tl">0.2</text>
<text x="1327.5" y="1064.7" text-anchor="end" class="tl">0.4</text>
<text x="1327.5" y="995.8" text-anchor="end" class="tl">0.6</text>
<text x="1327.5" y="927.0" text-anchor="end" class="tl">0.8</text>
<text x="1327.5" y="858.2" text-anchor="end" class="tl">1.0</text>
<text x="1634.1" y="902.7" style="fill:#000"><tspan font-style="italic">NIEF</tspan> (1.98%)<tspan class="lt">＜</tspan>1</text>
<text x="1598.2" y="937.3" style="fill:#000">1 ≤ <tspan font-style="italic">NIEF</tspan> (23.76%)<tspan class="lt">＜</tspan>2</text>
<text x="1598.2" y="969.1" style="fill:#000">2 ≤ <tspan font-style="italic">NIEF</tspan> (17.82%)<tspan class="lt">＜</tspan>3</text>
<text x="1598.2" y="998.9" style="fill:#000">3 ≤ <tspan font-style="italic">NIEF</tspan> (20.79%)<tspan class="lt">＜</tspan>5</text>
<text x="1598.2" y="1028.9" style="fill:#000">5 ≤ <tspan font-style="italic">NIEF</tspan> (23.76%)<tspan class="lt">＜</tspan>10</text>
<text x="1635.2" y="1062.5" style="fill:#000"><tspan font-style="italic">NIEF</tspan> (11.88%) ≥10</text>
<text x="1622.3" y="1104.2" style="fill:#1a1aff">Simulated:5.00</text>
<text x="1623.3" y="1151.9" style="fill:#36a844">Detected:4.71</text>
<text x="1848.6" y="888.5" text-anchor="end" class="plab">(i)</text>
<text x="1595.2" y="1251.5" text-anchor="middle"><tspan font-style="italic">NIEF</tspan></text>
<text transform="translate(1281.0,1022.8) rotate(-90)" text-anchor="middle">Cumulative probability</text>
</g>
<g>
<rect x="1.2" y="1278" width="71.9" height="27" fill="#ffffff" stroke="#000" stroke-width="2.4"/>
<text x="83.5" y="1298">No pollution</text>
<rect x="262.9" y="1278" width="71.1" height="27" fill="#b8c0fa" stroke="#000" stroke-width="2.4"/>
<text x="346.4" y="1298">Minimal pollution</text>
<rect x="579.6" y="1278" width="71.7" height="27" fill="#e4ede8" stroke="#000" stroke-width="2.4"/>
<text x="666.4" y="1298">Moderate pollution</text>
<rect x="912.7" y="1278" width="72.1" height="27" fill="#fde6c3" stroke="#000" stroke-width="2.4"/>
<text x="997.2" y="1298">Significant pollution</text>
<rect x="1253.3" y="1278" width="72.2" height="27" fill="#fde3e3" stroke="#000" stroke-width="2.4"/>
<text x="1340.5" y="1298">Very high pollution</text>
<rect x="1590.2" y="1278" width="71.6" height="27" fill="#fbc4c4" stroke="#000" stroke-width="2.4"/>
<text x="1680.3" y="1298">Extremely high pollution</text>
</g>
</svg>
</body></html>
